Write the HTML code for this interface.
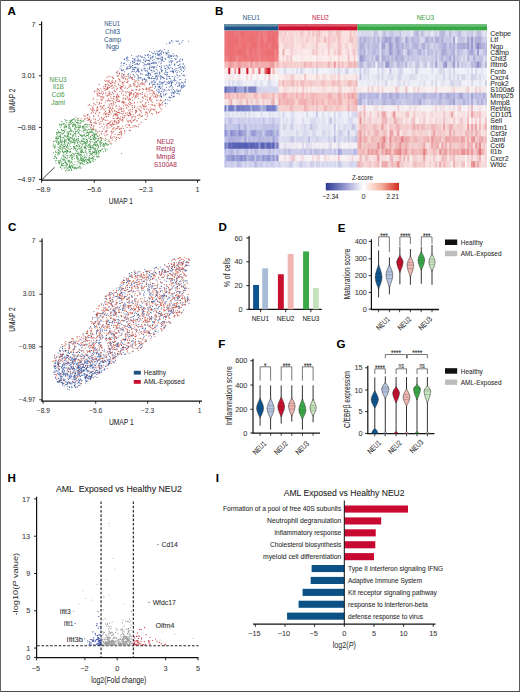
<!DOCTYPE html>
<html><head><meta charset="utf-8"><style>
html,body{margin:0;padding:0;background:#fff;}
body{width:520px;height:692px;overflow:hidden;position:relative;}
svg{position:absolute;left:0;top:0;font-family:"Liberation Sans", sans-serif;}
.hm rect{width:2.7px;height:6.9px;}
text{stroke-width:0.07px;}
</style></head><body>
<svg width="520" height="692" viewBox="0 0 520 692">
<rect x="0" y="0" width="520" height="692" fill="#fff"/>
<text x="7.50" y="15.00" font-size="10.5" font-weight="bold" fill="#000" stroke="#000" stroke-width="0.35" textLength="8.34" lengthAdjust="spacingAndGlyphs">A</text>
<line x1="41.60" y1="21.50" x2="41.60" y2="180.60" stroke="#111" stroke-width="1.2"/>
<line x1="41.00" y1="180.10" x2="200.30" y2="180.10" stroke="#111" stroke-width="1.2"/>
<line x1="41.60" y1="180.00" x2="54.60" y2="167.20" stroke="#333" stroke-width="0.9"/>
<line x1="38.90" y1="24.60" x2="41.60" y2="24.60" stroke="#111" stroke-width="0.9"/>
<text x="35.60" y="26.89" font-size="7.2" fill="#3a3a3a" stroke="#3a3a3a" text-anchor="end">7</text>
<line x1="38.90" y1="75.80" x2="41.60" y2="75.80" stroke="#111" stroke-width="0.9"/>
<text x="35.60" y="78.09" font-size="7.2" fill="#3a3a3a" stroke="#3a3a3a" text-anchor="end">3.01</text>
<line x1="38.90" y1="127.40" x2="41.60" y2="127.40" stroke="#111" stroke-width="0.9"/>
<text x="35.60" y="129.69" font-size="7.2" fill="#3a3a3a" stroke="#3a3a3a" text-anchor="end">−0.98</text>
<line x1="38.90" y1="179.40" x2="41.60" y2="179.40" stroke="#111" stroke-width="0.9"/>
<text x="35.60" y="181.69" font-size="7.2" fill="#3a3a3a" stroke="#3a3a3a" text-anchor="end">−4.97</text>
<line x1="41.60" y1="180.00" x2="41.60" y2="182.80" stroke="#111" stroke-width="0.9"/>
<text x="43.30" y="192.49" font-size="7.2" fill="#3a3a3a" stroke="#3a3a3a" text-anchor="middle">−8.9</text>
<line x1="94.25" y1="180.00" x2="94.25" y2="182.80" stroke="#111" stroke-width="0.9"/>
<text x="94.25" y="192.49" font-size="7.2" fill="#3a3a3a" stroke="#3a3a3a" text-anchor="middle">−5.6</text>
<line x1="145.75" y1="180.00" x2="145.75" y2="182.80" stroke="#111" stroke-width="0.9"/>
<text x="145.75" y="192.49" font-size="7.2" fill="#3a3a3a" stroke="#3a3a3a" text-anchor="middle">−2.3</text>
<line x1="197.50" y1="180.00" x2="197.50" y2="182.80" stroke="#111" stroke-width="0.9"/>
<text x="197.50" y="192.49" font-size="7.2" fill="#3a3a3a" stroke="#3a3a3a" text-anchor="middle">1</text>
<text x="108.75" y="204.14" font-size="9.29" fill="#2a2a2a" stroke="#2a2a2a" textLength="24.25" lengthAdjust="spacingAndGlyphs">UMAP 1</text>
<text x="-12.15" y="3.56" font-size="9.89" fill="#2a2a2a" stroke="#2a2a2a" textLength="24.30" lengthAdjust="spacingAndGlyphs" transform="translate(11.60 100.70) rotate(-90)">UMAP 2</text>
<text x="104.30" y="26.22" font-size="7.56" fill="#3d5f8e" stroke="#3d5f8e" textLength="15.70" lengthAdjust="spacingAndGlyphs">NEU1</text>
<text x="105.00" y="34.02" font-size="7.56" fill="#3d5f8e" stroke="#3d5f8e" textLength="15.00" lengthAdjust="spacingAndGlyphs">Chil3</text>
<text x="104.10" y="41.72" font-size="7.56" fill="#3d5f8e" stroke="#3d5f8e" textLength="17.10" lengthAdjust="spacingAndGlyphs">Camp</text>
<text x="106.10" y="48.92" font-size="7.56" fill="#3d5f8e" stroke="#3d5f8e" textLength="12.80" lengthAdjust="spacingAndGlyphs">Ngp</text>
<text x="49.60" y="81.52" font-size="7.56" fill="#55a055" stroke="#55a055" textLength="16.90" lengthAdjust="spacingAndGlyphs">NEU3</text>
<text x="52.70" y="89.42" font-size="7.56" fill="#55a055" stroke="#55a055" textLength="11.10" lengthAdjust="spacingAndGlyphs">Il1B</text>
<text x="51.50" y="97.32" font-size="7.56" fill="#55a055" stroke="#55a055" textLength="13.00" lengthAdjust="spacingAndGlyphs">Ccl6</text>
<text x="51.20" y="105.22" font-size="7.56" fill="#55a055" stroke="#55a055" textLength="13.80" lengthAdjust="spacingAndGlyphs">Jaml</text>
<text x="156.70" y="143.92" font-size="7.56" fill="#b0365a" stroke="#b0365a" textLength="17.20" lengthAdjust="spacingAndGlyphs">NEU2</text>
<text x="156.20" y="151.32" font-size="7.56" fill="#b0365a" stroke="#b0365a" textLength="19.00" lengthAdjust="spacingAndGlyphs">Retnlg</text>
<text x="156.20" y="159.12" font-size="7.56" fill="#b0365a" stroke="#b0365a" textLength="18.80" lengthAdjust="spacingAndGlyphs">Mmp8</text>
<text x="154.00" y="167.02" font-size="7.56" fill="#b0365a" stroke="#b0365a" textLength="22.80" lengthAdjust="spacingAndGlyphs">S100A8</text>
<path d="M79.4 162.7h0M60.2 127.3h0M61.7 142.5h0M93.3 147.7h0M53.5 152.5h0M62.2 165.5h0M68.1 146.2h0M82.6 141.3h0M63.6 152.9h0M78.5 153.9h0M89.7 138.3h0M66.1 129.6h0M83.0 138.4h0M92.5 147.5h0M96.4 152.2h0M67.2 151.9h0M76.0 117.0h0M81.0 142.1h0M77.4 153.6h0M78.3 127.7h0M93.0 137.5h0M62.4 151.4h0M103.4 146.4h0M60.2 135.1h0M100.4 144.5h0M86.5 139.4h0M82.8 127.7h0M72.8 157.2h0M68.7 134.6h0M56.8 137.9h0M65.0 165.6h0M64.1 167.7h0M79.6 141.6h0M94.9 143.0h0M88.3 133.3h0M70.7 128.0h0M98.4 157.0h0M78.9 127.3h0M67.9 135.4h0M98.5 136.7h0M68.5 160.8h0M94.4 151.2h0M60.5 146.5h0M67.3 158.1h0M104.3 146.1h0M60.1 161.6h0M65.6 157.5h0M59.5 148.1h0M82.8 159.1h0M61.0 144.2h0M53.4 144.1h0M74.2 140.8h0M73.9 139.1h0M90.7 154.0h0M94.7 144.6h0M108.3 144.6h0M54.5 148.3h0M111.0 144.1h0M103.6 151.8h0M57.2 152.0h0M54.0 158.5h0M78.4 125.7h0M90.2 145.6h0M94.9 139.2h0M74.9 143.3h0M82.4 161.4h0M64.2 147.0h0M70.2 143.0h0M81.4 140.4h0M88.3 132.7h0M83.9 147.1h0M60.4 140.2h0M72.1 119.5h0M66.9 165.8h0M57.9 144.3h0M84.6 128.9h0M70.6 133.6h0M84.8 146.3h0M92.5 135.8h0M69.2 161.8h0M90.5 132.0h0M90.1 161.3h0M75.0 140.2h0M105.4 143.1h0M80.7 123.0h0M79.2 126.0h0M82.5 151.1h0M66.4 126.2h0M75.3 153.1h0M86.8 145.4h0M81.8 135.5h0M76.5 155.2h0M66.9 136.3h0M82.2 150.9h0M75.0 133.6h0M89.1 129.6h0M68.8 136.8h0M89.7 162.0h0M90.8 139.2h0M76.4 156.2h0M87.0 130.0h0M68.3 131.5h0M68.3 133.6h0M62.8 155.1h0M66.4 166.7h0M85.7 159.9h0M93.3 145.6h0M55.6 152.1h0M60.6 135.1h0M94.2 135.1h0M83.5 132.0h0M72.4 157.5h0M68.9 170.1h0M59.7 162.8h0M57.7 129.5h0M58.6 150.4h0M65.7 141.3h0M56.9 160.2h0M72.8 136.7h0M97.3 148.6h0M90.6 139.7h0M98.7 147.4h0M61.4 166.0h0M85.2 138.7h0M79.7 145.3h0M70.9 129.8h0M85.3 124.5h0M70.2 149.4h0M93.8 136.4h0M82.4 136.8h0M74.9 146.3h0M56.2 141.1h0M61.7 144.1h0M66.8 163.2h0M75.0 167.3h0M65.0 157.0h0M77.9 142.4h0M63.0 159.6h0M58.9 160.6h0M70.5 121.4h0M60.5 136.3h0M64.4 127.9h0M64.7 151.4h0M86.6 161.1h0M94.5 137.4h0M69.1 139.1h0M80.0 164.1h0M83.8 121.3h0M62.2 149.1h0M71.1 140.4h0M78.7 159.2h0M76.6 139.6h0M89.7 157.8h0M95.8 152.2h0M104.1 144.6h0M85.8 147.7h0M72.9 139.8h0M76.3 139.6h0M79.8 130.0h0M86.2 143.5h0M70.6 134.1h0M64.5 142.4h0M89.8 140.9h0M96.2 151.9h0M68.7 161.0h0M62.6 148.8h0M85.0 143.3h0M87.5 162.2h0M96.4 156.1h0M84.1 158.7h0M60.4 142.0h0M65.5 161.7h0M93.1 159.8h0M65.6 151.4h0M78.9 167.0h0M60.2 160.6h0M70.1 167.6h0M74.3 144.1h0M83.9 130.2h0M58.3 132.7h0M87.1 142.9h0M77.8 124.0h0M82.4 144.9h0M93.9 142.6h0M76.8 141.8h0M100.8 142.1h0M80.4 163.1h0M89.4 151.6h0M58.7 161.7h0M66.6 127.3h0M88.9 157.0h0M55.4 147.3h0M66.2 150.1h0M70.3 146.5h0M81.8 146.7h0M74.4 138.0h0M74.2 139.6h0M103.1 144.2h0M90.1 143.3h0M65.0 146.1h0M81.7 160.4h0M85.7 136.2h0M65.9 149.2h0M65.1 165.8h0M97.7 144.9h0M69.4 157.5h0M98.8 140.7h0M78.6 144.7h0M93.2 139.2h0M61.9 124.0h0M68.8 133.2h0M101.0 133.8h0M80.3 143.6h0M92.6 132.5h0M63.9 146.2h0M65.7 120.8h0M76.7 122.6h0M77.4 159.3h0M79.9 148.9h0M62.6 145.2h0M94.0 138.8h0M53.6 141.5h0M64.1 167.7h0M97.6 149.3h0M98.6 154.8h0M73.6 147.7h0M67.0 147.0h0M78.0 153.7h0M61.0 137.5h0M69.4 120.7h0M73.4 140.8h0M72.7 126.7h0M64.8 162.4h0M62.8 137.6h0M97.6 132.1h0M81.0 167.9h0M81.0 134.7h0M97.1 138.5h0M90.9 128.7h0M68.9 128.4h0M55.5 140.7h0M55.7 151.0h0M93.7 161.6h0M59.0 132.3h0M78.5 138.5h0M77.3 161.8h0M67.9 136.8h0M93.7 133.9h0M77.6 167.9h0M82.4 144.5h0M82.5 156.3h0M92.1 160.6h0M70.1 130.2h0M64.1 126.9h0M94.5 152.4h0M60.6 136.5h0M101.7 143.5h0M59.0 162.5h0M59.2 142.9h0M85.1 139.0h0M90.0 149.5h0M101.6 149.5h0M75.3 133.4h0M81.3 158.1h0M73.4 142.4h0M75.1 167.7h0M67.9 136.4h0M72.1 120.7h0M89.0 145.1h0M97.0 143.9h0M61.9 142.7h0M76.1 153.3h0M72.3 124.7h0M70.4 151.4h0M57.9 132.0h0M75.4 129.6h0M80.2 122.7h0M84.2 164.8h0M68.2 138.6h0M91.4 147.6h0M67.4 135.7h0M62.7 140.1h0M69.5 122.9h0M100.3 151.3h0M66.0 124.5h0M79.0 162.8h0M71.7 165.7h0M64.2 168.2h0M87.2 140.8h0M81.6 136.5h0M64.6 144.1h0M82.5 163.4h0M73.8 149.0h0M63.2 124.3h0M73.7 153.9h0M82.0 121.0h0M72.7 153.3h0M88.1 134.8h0M65.3 162.1h0M89.5 132.2h0M96.4 154.2h0M58.0 135.9h0M55.3 156.3h0M58.9 163.8h0M85.3 148.3h0M85.2 127.0h0M94.2 154.0h0M72.1 156.7h0M88.9 152.0h0M77.6 142.6h0M94.1 148.2h0M71.6 123.3h0M56.4 138.6h0M88.6 136.1h0M58.7 162.4h0M78.1 122.2h0M94.5 142.9h0M67.0 164.4h0M57.0 138.2h0M67.9 150.8h0M65.6 126.8h0M71.0 134.8h0M58.0 143.0h0M79.4 166.3h0M74.5 124.9h0M95.4 148.1h0M75.3 120.3h0M68.3 122.8h0M57.2 138.2h0M62.5 165.4h0M83.8 130.1h0M89.4 160.9h0M62.9 151.9h0M77.3 146.1h0M88.3 162.9h0M79.6 133.9h0M81.5 151.9h0M80.9 159.8h0M67.6 138.8h0M95.4 141.2h0M88.3 144.8h0M69.4 167.4h0M92.5 134.9h0M96.4 134.5h0M78.5 167.8h0M72.6 122.4h0M86.8 153.4h0M83.9 135.1h0M79.0 148.5h0M73.9 155.9h0M61.4 125.8h0M81.2 154.5h0M88.9 159.1h0M80.5 151.8h0M91.2 132.8h0M71.8 165.4h0M80.9 160.2h0M93.5 130.0h0M58.6 152.4h0M76.3 168.9h0M79.8 127.5h0M61.5 124.5h0M83.5 141.5h0M79.4 127.7h0M84.7 135.0h0M76.2 145.6h0M84.5 160.3h0M84.0 134.3h0M68.4 142.5h0M74.2 118.6h0M96.3 141.9h0M90.6 142.1h0M65.2 154.2h0M78.9 127.9h0M89.0 134.3h0M97.3 156.3h0M87.5 132.3h0M67.2 132.3h0M78.6 133.0h0M81.1 147.2h0M69.2 170.5h0M58.4 141.9h0M75.7 126.9h0M64.4 131.6h0M90.1 146.6h0M89.9 131.4h0M55.3 157.3h0M96.9 146.1h0M81.1 157.2h0M64.0 137.9h0M64.1 158.9h0M72.0 159.7h0M75.6 132.3h0M76.0 167.5h0M69.5 126.0h0M73.8 167.9h0M62.6 142.0h0M74.3 164.8h0M76.8 157.6h0M65.7 126.4h0M85.1 130.5h0M87.4 162.5h0M58.0 136.7h0M66.8 120.4h0M64.6 127.4h0M66.7 153.2h0M85.1 160.0h0M75.6 150.0h0M56.3 141.2h0M86.7 141.6h0M65.3 157.1h0M56.5 134.3h0M82.6 158.0h0M58.9 138.6h0M77.9 140.9h0M58.1 149.3h0M69.0 124.6h0M67.3 150.0h0M100.9 150.8h0M67.2 164.2h0M72.4 167.4h0M74.5 146.9h0M54.4 156.1h0M63.8 158.7h0M78.6 129.5h0M98.2 150.9h0M95.2 133.8h0M67.8 150.9h0M75.0 124.3h0M61.4 157.8h0M75.9 134.1h0M63.0 124.1h0M90.6 136.4h0M96.0 138.3h0M99.4 152.7h0M100.0 143.3h0M81.2 160.6h0M100.5 150.2h0M100.0 141.7h0M90.1 146.5h0M80.0 166.0h0M67.5 145.4h0M63.3 133.1h0M71.6 148.5h0M83.5 141.5h0M71.0 120.6h0M86.4 132.8h0M55.9 162.7h0M108.3 144.4h0M88.5 129.2h0M97.7 157.2h0M63.4 152.3h0M82.2 121.7h0M83.2 152.3h0M95.6 137.3h0M78.2 120.6h0M96.2 145.0h0M77.3 130.0h0M101.2 139.8h0M91.2 147.8h0M55.3 156.3h0M92.5 155.3h0M82.4 126.3h0M71.3 162.1h0M70.9 121.4h0M85.7 151.6h0M69.6 163.9h0M84.1 124.8h0M69.9 131.6h0M88.7 138.1h0M91.1 129.2h0M69.7 131.9h0M69.3 126.8h0M68.9 127.1h0M80.4 135.4h0M94.8 144.5h0M84.1 130.4h0M88.7 145.8h0M73.2 134.3h0M73.4 119.2h0M64.7 125.0h0M91.0 124.5h0M71.5 161.7h0M83.2 127.3h0M61.9 121.4h0M58.9 143.5h0M107.0 144.4h0M63.9 123.4h0M81.9 159.7h0M81.1 147.0h0M70.5 130.0h0M83.4 160.3h0M66.1 122.2h0M76.1 125.3h0M97.3 136.5h0M86.0 141.8h0M80.0 120.0h0M86.2 157.5h0M74.4 140.3h0M73.0 166.8h0M82.3 151.5h0M91.3 154.2h0M65.9 140.2h0M65.9 125.0h0M84.5 141.5h0M77.1 127.0h0M91.0 147.2h0M66.9 132.0h0M92.5 157.2h0M105.8 150.9h0M98.0 145.4h0M84.2 160.7h0M90.4 153.2h0M95.0 134.0h0M98.3 153.0h0M91.2 122.5h0M53.0 145.7h0M86.3 124.2h0M76.1 150.2h0M84.1 157.8h0M64.6 140.2h0M77.0 130.8h0M63.5 163.6h0M75.6 131.6h0M68.2 139.7h0M97.0 141.7h0M84.0 135.9h0M57.7 142.4h0M96.3 152.4h0M67.6 155.6h0M68.9 148.6h0M64.8 139.4h0M107.2 145.3h0M96.1 154.1h0M88.9 147.4h0M101.4 140.5h0M54.9 146.1h0M85.7 129.1h0M84.6 160.8h0M82.9 138.7h0M102.8 145.3h0M94.0 132.7h0M86.8 159.0h0M86.8 133.0h0M61.9 149.7h0M105.4 143.5h0M70.6 137.7h0M87.2 130.5h0M83.7 132.1h0M70.4 122.9h0M77.0 146.2h0M63.7 144.7h0M72.8 139.6h0M88.2 160.4h0M88.1 159.4h0M96.5 150.9h0M68.3 131.7h0M61.7 141.7h0M78.8 132.0h0M83.8 138.9h0M105.7 143.0h0M69.6 166.6h0M68.0 160.1h0M69.8 160.6h0M79.8 141.8h0M77.2 119.0h0M86.6 133.0h0M86.0 132.9h0M75.2 121.3h0M105.1 144.9h0M81.5 150.3h0M57.7 133.8h0M80.9 148.5h0M100.2 141.0h0M59.2 151.1h0M93.4 138.6h0M71.4 158.1h0M64.9 143.5h0M89.8 144.4h0M81.4 155.3h0M85.5 142.5h0M61.0 145.4h0M80.0 168.1h0M55.9 138.2h0M72.4 159.1h0M88.5 129.2h0M76.2 148.2h0M75.2 120.1h0M70.7 162.8h0M54.2 146.9h0M83.1 128.6h0M85.1 156.9h0M61.5 169.0h0M74.7 168.2h0M85.0 129.0h0M66.2 158.6h0M70.0 152.1h0M80.6 126.9h0M62.9 163.2h0M86.9 155.0h0M60.0 146.6h0M106.8 143.9h0M57.2 140.5h0M90.6 149.7h0M95.8 142.7h0M92.9 129.6h0M65.4 145.2h0M72.7 125.7h0M59.1 143.5h0M81.9 140.2h0M97.6 140.4h0M86.5 135.5h0M78.1 132.4h0M78.6 158.0h0M60.0 141.6h0M71.9 154.8h0M84.5 162.3h0M79.9 123.7h0M86.3 126.5h0M75.2 126.6h0M83.7 126.3h0M82.1 143.9h0M73.3 165.0h0M68.6 140.4h0M100.2 137.5h0M91.8 157.9h0M62.8 142.0h0M70.1 137.4h0M59.5 153.1h0M76.7 122.3h0M91.3 153.2h0M80.6 125.7h0M71.1 142.8h0M66.6 142.3h0M93.5 152.4h0M75.0 142.0h0M83.8 152.5h0M80.0 155.4h0M100.1 143.7h0M59.9 149.7h0M62.1 159.0h0M87.6 135.5h0M70.0 124.5h0M61.6 164.7h0M94.8 129.3h0M67.3 168.1h0M59.7 163.7h0M66.4 146.6h0M83.4 143.8h0M77.4 155.8h0M69.6 165.9h0M66.7 147.2h0M78.5 139.9h0M77.5 159.1h0M96.0 134.5h0M81.3 147.7h0M71.1 155.3h0M89.9 146.1h0M99.1 150.6h0M85.9 124.0h0M92.6 152.2h0M78.9 147.1h0M71.7 170.4h0M70.0 161.8h0M57.3 154.8h0M71.8 138.1h0M70.8 167.9h0M77.6 122.5h0M93.6 156.8h0M93.1 146.2h0M65.7 170.9h0M95.4 144.6h0M86.2 148.7h0M59.6 133.0h0M61.9 164.2h0M70.4 129.7h0M73.1 119.6h0M68.2 161.7h0M72.8 138.2h0M90.3 162.6h0M101.7 139.7h0M68.5 160.6h0M81.9 131.0h0M92.8 151.2h0M108.0 141.2h0M93.3 148.7h0M63.7 165.6h0M64.9 130.2h0M79.0 155.1h0M82.0 150.1h0M103.7 143.6h0M93.3 158.5h0M100.3 137.7h0M64.9 152.3h0M59.4 153.7h0M84.6 142.6h0M86.0 136.7h0M86.2 161.8h0M95.8 150.3h0M67.4 133.8h0M59.0 144.8h0M76.9 138.5h0M83.2 164.2h0M71.6 154.8h0M62.0 161.3h0M64.1 156.6h0M83.9 161.3h0M63.7 130.6h0M56.5 142.0h0M61.2 132.9h0M58.0 146.9h0M72.8 125.7h0M60.6 167.5h0M55.6 138.2h0M70.7 152.0h0M60.4 137.4h0M76.2 168.2h0M80.2 120.4h0M68.2 168.0h0M80.6 135.0h0M71.1 168.9h0M84.6 148.1h0M76.7 158.1h0M66.9 155.5h0M76.6 151.1h0M87.1 163.4h0M63.6 156.7h0M59.9 124.3h0M61.5 163.1h0M83.5 120.8h0M87.4 124.9h0M81.0 158.9h0M95.8 151.2h0M61.1 147.5h0M62.8 133.9h0M65.8 136.1h0M94.1 156.8h0M71.7 157.6h0M84.3 154.9h0M61.5 129.3h0M64.8 135.9h0M69.8 141.2h0M79.6 130.5h0M73.2 135.4h0M94.1 139.9h0M61.7 130.0h0M73.2 135.8h0M75.3 148.6h0M64.7 135.3h0M91.9 139.2h0M80.3 158.8h0M91.1 139.3h0M85.4 148.3h0M77.4 158.9h0M94.4 144.2h0M63.8 160.5h0M93.7 152.5h0M70.0 138.0h0M64.7 148.6h0M76.4 127.8h0M64.3 136.0h0M75.1 125.3h0M97.1 152.9h0M78.6 153.4h0M89.3 149.9h0M66.1 164.1h0M64.0 141.6h0M81.3 141.4h0M64.4 132.2h0M67.3 144.7h0M73.7 146.4h0M83.7 159.1h0M81.0 163.8h0M74.6 142.3h0M70.9 165.9h0M78.6 136.4h0M59.6 148.0h0M60.6 141.1h0M92.6 129.8h0M60.4 151.9h0M95.1 148.3h0M67.9 170.3h0M65.4 167.8h0M89.1 126.1h0M58.0 138.3h0M85.6 159.9h0M60.4 132.2h0M96.2 152.9h0M56.4 158.4h0M69.4 151.9h0M74.7 147.2h0M69.3 169.7h0M88.8 133.1h0M62.3 130.5h0M92.3 145.7h0M74.6 154.8h0M71.5 169.3h0M90.5 151.6h0M59.6 136.4h0M59.2 142.8h0M87.2 146.8h0M77.9 123.6h0M94.0 148.2h0M66.6 151.0h0M69.2 126.2h0M85.7 152.4h0M95.5 145.5h0M98.8 138.9h0M82.4 161.0h0M71.8 130.3h0M90.9 162.1h0M67.4 164.7h0M55.3 160.6h0M102.1 142.6h0M87.4 140.1h0M90.6 137.5h0M68.2 151.7h0M90.8 148.6h0M85.7 144.3h0M73.3 131.9h0M66.8 137.6h0M68.8 166.9h0M67.3 144.1h0M60.7 160.0h0M75.0 161.8h0M89.9 153.2h0M56.4 133.0h0M76.8 145.6h0M58.2 147.0h0M104.9 145.0h0M55.4 154.5h0M81.3 152.5h0M57.1 139.1h0M63.1 137.4h0M89.6 158.5h0M54.0 146.5h0M58.5 138.0h0M66.9 152.2h0M70.4 134.0h0M60.2 167.3h0M85.7 147.5h0M107.2 149.1h0M82.3 135.2h0M84.0 127.0h0M56.5 157.5h0M69.9 138.6h0M66.3 169.2h0M80.3 154.1h0M76.3 122.5h0M56.8 152.7h0M80.4 156.9h0M92.7 158.8h0M105.5 140.5h0M100.1 142.5h0M66.7 126.1h0M94.7 135.3h0M75.6 140.9h0M72.1 166.1h0M64.6 141.1h0M75.3 135.8h0M60.9 145.8h0M66.0 150.9h0M93.9 136.2h0M89.7 155.6h0M79.4 160.7h0M54.2 141.2h0M63.2 130.3h0M87.2 131.0h0M98.4 146.6h0M84.3 160.6h0M84.9 148.1h0M74.9 128.1h0M58.6 154.8h0M71.8 137.5h0M87.1 159.2h0M59.8 162.1h0M74.1 133.8h0M87.5 140.5h0M98.5 151.6h0M90.3 147.5h0M77.4 120.1h0M62.9 148.7h0M71.2 131.6h0M104.8 148.4h0M79.1 153.8h0M94.7 135.9h0M62.2 150.1h0M83.7 127.0h0M92.2 131.1h0M69.6 144.8h0M70.9 141.6h0M73.6 124.9h0M84.9 147.4h0M71.8 161.9h0M80.1 152.2h0M69.6 165.2h0M77.5 149.3h0M90.2 159.0h0M74.3 119.0h0M72.6 135.7h0M95.5 149.6h0M84.2 142.9h0M95.1 159.5h0M87.2 141.8h0M74.9 129.1h0M82.5 141.5h0M62.3 134.3h0M69.4 128.3h0M92.7 153.6h0M76.3 131.5h0M101.0 138.3h0M58.4 153.3h0M105.8 143.2h0M64.9 119.6h0M100.3 146.3h0M94.6 149.8h0M72.3 142.5h0M88.7 149.8h0M95.9 131.6h0M87.0 135.5h0M70.2 151.7h0M78.1 122.7h0M60.8 166.0h0M68.6 125.2h0M59.3 124.7h0M74.7 167.6h0M55.2 145.1h0M66.6 139.7h0M88.9 160.1h0M82.1 152.3h0M104.2 140.1h0M91.2 154.8h0M61.1 139.9h0M68.0 147.7h0M85.6 145.9h0M82.3 135.6h0M56.7 132.3h0M71.6 120.4h0M78.0 139.7h0M72.9 126.4h0M68.6 143.4h0M60.6 148.2h0M77.2 157.6h0M72.4 163.3h0M106.9 139.3h0M75.2 124.4h0M100.3 151.1h0M56.2 136.9h0M77.0 164.9h0M73.8 124.4h0M60.2 125.8h0M77.8 149.3h0M85.6 150.3h0M77.5 156.3h0M72.0 155.4h0M71.2 121.7h0M83.9 139.6h0M69.4 139.9h0M63.4 146.7h0M62.9 147.4h0M77.7 143.8h0M91.3 158.4h0M90.4 161.5h0M84.1 157.1h0M77.6 151.9h0M72.1 131.0h0M94.0 156.9h0M78.3 160.9h0M77.5 156.0h0M63.7 155.2h0M87.2 127.2h0M99.0 156.4h0M95.2 134.5h0M67.4 155.8h0M90.7 146.2h0M95.3 159.8h0M95.8 154.1h0M66.1 162.9h0M79.6 141.7h0M79.4 125.8h0M97.3 135.5h0M74.5 158.6h0M84.9 125.0h0M96.8 141.5h0M77.6 146.1h0M82.6 126.9h0M92.0 141.7h0M74.8 148.2h0M70.5 128.0h0M91.7 131.5h0M72.2 141.8h0M91.5 132.0h0M74.2 168.8h0M65.2 160.7h0M64.9 159.7h0M91.2 129.9h0M105.5 149.9h0M95.6 138.7h0M78.0 131.7h0M58.4 131.4h0M81.0 120.9h0M63.0 148.6h0M70.6 155.9h0M82.4 135.5h0M80.3 150.8h0M100.9 145.7h0M74.0 123.1h0M93.5 144.8h0M60.4 139.0h0M102.7 148.9h0M76.0 136.2h0M79.5 146.4h0M82.6 161.0h0M70.6 167.0h0M82.2 149.4h0M70.0 155.0h0M81.3 162.6h0M64.3 146.9h0" stroke="#38903f" stroke-width="1.12" stroke-linecap="round" fill="none" opacity="0.9"/>
<path d="M149.1 87.7h0M133.5 85.0h0M146.2 88.6h0M156.1 111.4h0M127.2 112.9h0M155.7 97.1h0M109.9 94.5h0M117.9 134.4h0M114.2 121.6h0M87.3 115.4h0M115.4 138.1h0M100.6 106.3h0M104.1 119.8h0M123.5 102.5h0M123.7 78.1h0M105.6 92.9h0M102.2 131.4h0M155.1 96.5h0M110.8 103.7h0M119.4 121.8h0M121.0 86.9h0M147.2 116.8h0M117.5 94.1h0M113.5 131.8h0M112.6 122.8h0M138.2 83.1h0M153.1 93.4h0M132.7 116.8h0M113.2 118.3h0M124.8 131.2h0M129.2 91.9h0M118.2 118.3h0M122.8 121.1h0M114.4 124.0h0M87.7 120.3h0M139.5 110.0h0M147.2 113.0h0M131.3 78.4h0M106.9 77.7h0M85.2 116.2h0M118.1 122.1h0M88.4 119.5h0M142.9 84.4h0M124.0 115.2h0M137.9 96.3h0M118.9 96.4h0M129.5 112.0h0M132.3 97.4h0M105.7 108.5h0M134.5 107.3h0M104.0 129.0h0M107.8 113.6h0M152.4 90.9h0M97.0 109.9h0M99.6 90.7h0M128.2 99.5h0M89.2 124.4h0M91.0 120.4h0M148.5 101.9h0M121.6 93.1h0M117.4 112.5h0M127.3 79.2h0M135.7 117.2h0M96.9 93.6h0M84.0 115.4h0M159.9 111.8h0M122.9 84.6h0M118.6 112.4h0M114.8 85.4h0M90.7 127.1h0M134.0 125.6h0M103.7 93.5h0M153.6 92.3h0M127.0 115.3h0M120.2 87.3h0M98.0 110.0h0M97.1 102.0h0M149.8 89.9h0M106.3 113.5h0M120.2 128.2h0M129.6 102.0h0M113.1 108.4h0M111.7 94.7h0M156.6 97.2h0M111.9 120.9h0M156.4 100.1h0M109.5 111.5h0M91.3 113.3h0M130.4 74.7h0M100.9 105.6h0M123.2 98.8h0M102.5 94.2h0M103.4 118.8h0M99.9 127.6h0M129.2 130.5h0M123.5 128.2h0M111.3 85.7h0M150.2 93.4h0M100.7 99.3h0M89.3 116.6h0M135.5 110.4h0M124.8 115.9h0M92.6 107.5h0M109.5 100.2h0M111.7 83.4h0M114.1 136.5h0M118.9 126.6h0M85.1 116.5h0M160.4 104.4h0M115.5 114.8h0M111.6 124.7h0M114.6 110.5h0M103.7 106.5h0M115.8 81.7h0M134.2 81.0h0M92.5 110.3h0M137.1 93.7h0M116.1 115.3h0M142.3 115.8h0M110.1 124.4h0M126.7 104.2h0M117.6 116.0h0M140.0 114.9h0M119.4 118.8h0M110.5 83.8h0M118.3 101.4h0M114.8 111.1h0M154.3 105.4h0M114.6 110.2h0M110.5 137.9h0M101.1 106.8h0M89.4 104.6h0M114.6 96.7h0M144.4 85.1h0M109.5 108.6h0M139.0 90.5h0M111.8 81.6h0M104.9 135.7h0M123.6 106.0h0M141.2 112.2h0M118.1 75.7h0M109.7 106.0h0M94.2 104.0h0M93.2 108.9h0M122.2 82.7h0M143.3 106.7h0M110.0 93.8h0M117.9 127.1h0M136.8 93.0h0M116.4 121.8h0M93.8 116.4h0M115.8 106.4h0M127.0 127.4h0M105.9 124.8h0M108.5 123.4h0M143.1 98.3h0M99.6 103.0h0M124.6 74.1h0M113.4 124.5h0M93.7 115.9h0M108.7 112.5h0M88.2 114.3h0M113.2 86.9h0M107.8 123.6h0M116.3 86.2h0M123.3 94.7h0M93.0 99.5h0M137.1 120.2h0M117.9 95.4h0M90.9 127.4h0M122.7 77.8h0M99.7 102.4h0M132.8 100.4h0M121.2 77.0h0M124.9 88.2h0M131.8 116.5h0M103.7 88.1h0M110.1 142.9h0M113.7 115.1h0M112.1 132.2h0M100.8 93.2h0M121.7 135.7h0M107.9 95.5h0M147.3 100.0h0M116.4 122.9h0M148.3 89.1h0M107.9 124.0h0M112.4 85.2h0M130.4 114.8h0M104.4 127.0h0M151.7 113.5h0M111.3 125.0h0M126.6 82.5h0M117.0 114.9h0M105.4 138.2h0M131.3 119.0h0M101.8 137.8h0M99.1 92.8h0M145.2 114.6h0M124.0 110.9h0M97.9 90.9h0M111.2 131.4h0M111.6 138.0h0M144.2 96.4h0M114.6 121.7h0M116.1 114.1h0M118.7 78.3h0M105.0 90.3h0M121.1 131.8h0M121.5 109.5h0M124.0 85.2h0M110.2 108.4h0M97.1 107.9h0M152.9 102.3h0M114.1 99.5h0M142.4 97.4h0M124.7 76.7h0M109.7 82.6h0M129.6 94.0h0M119.9 91.4h0M151.9 99.8h0M99.7 93.3h0M136.8 96.0h0M110.3 101.1h0M107.0 128.3h0M122.0 90.8h0M105.9 84.6h0M130.0 92.9h0M130.0 109.2h0M116.5 137.5h0M139.3 115.3h0M132.4 79.4h0M122.0 73.4h0M123.6 108.5h0M107.2 96.5h0M138.7 109.0h0M109.9 85.7h0M123.3 103.0h0M142.5 94.3h0M148.9 104.5h0M108.3 116.5h0M117.9 123.4h0M117.0 128.4h0M129.3 115.1h0M95.4 123.2h0M138.5 98.6h0M127.0 108.3h0M165.4 106.0h0M92.3 108.9h0M122.9 117.6h0M115.5 91.7h0M96.1 91.3h0M141.1 116.4h0M131.2 93.7h0M138.9 84.8h0M112.8 78.0h0M107.7 81.7h0M160.7 100.1h0M106.1 116.6h0M138.9 124.4h0M113.2 103.1h0M89.0 120.7h0M108.8 140.1h0M121.4 128.2h0M84.7 118.9h0M109.8 112.6h0M134.9 98.1h0M129.2 120.5h0M124.5 130.5h0M128.8 125.6h0M108.2 80.8h0M121.7 132.4h0M95.6 113.1h0M118.0 134.9h0M140.9 106.1h0M147.3 97.1h0M111.8 143.7h0M149.8 88.8h0M149.5 99.1h0M145.6 103.7h0M106.3 100.2h0M142.5 104.3h0M160.7 105.2h0M147.2 99.5h0M146.6 112.0h0M117.1 94.5h0M110.2 121.3h0M97.6 106.9h0M131.7 89.9h0M95.3 119.4h0M129.2 125.5h0M119.2 106.3h0M108.5 81.7h0M101.8 131.5h0M108.6 98.9h0M159.1 95.9h0M132.0 90.4h0M111.0 114.1h0M159.0 105.9h0M132.2 111.6h0M90.3 108.9h0M94.1 122.8h0M147.8 94.8h0M134.6 102.5h0M134.4 107.8h0M132.1 117.2h0M112.4 92.8h0M99.0 113.1h0M143.0 105.8h0M116.8 137.1h0M99.0 84.4h0M119.5 129.3h0M134.0 84.0h0M122.8 111.4h0M109.2 95.2h0M113.1 77.2h0M132.6 105.5h0M109.6 123.1h0M100.8 123.8h0M144.9 83.1h0M155.2 96.3h0M128.8 106.6h0M100.7 97.0h0M145.7 106.1h0M136.1 89.6h0M113.8 101.3h0M105.4 86.5h0M118.9 97.1h0M159.3 103.1h0M156.7 103.7h0M78.3 118.4h0M101.5 133.7h0M136.8 80.9h0M145.6 99.0h0M125.3 91.7h0M143.7 108.3h0M148.8 109.8h0M93.3 112.8h0M152.2 109.4h0M112.4 111.7h0M120.9 133.9h0M142.4 80.6h0M144.1 105.9h0M112.4 140.0h0M93.0 110.9h0M152.4 114.1h0M107.6 89.6h0M106.0 114.4h0M145.4 112.0h0M130.7 120.5h0M120.9 137.7h0M102.2 126.6h0M121.2 132.9h0M128.7 110.3h0M103.1 108.7h0M131.3 92.4h0M120.8 81.0h0M114.2 82.3h0M105.3 81.5h0M123.6 113.1h0M115.8 124.3h0M112.0 110.2h0M130.1 77.2h0M118.0 114.7h0M106.6 116.8h0M122.8 83.0h0M106.2 135.0h0M97.0 102.2h0M103.9 97.1h0M116.8 113.8h0M105.7 132.2h0M114.9 121.3h0M125.1 104.8h0M119.5 73.4h0M130.1 110.8h0M131.4 122.5h0M141.2 122.4h0M129.7 113.1h0M114.1 114.0h0M150.6 109.8h0M159.2 105.4h0M127.9 98.1h0M135.5 92.5h0M113.5 98.3h0M109.6 92.1h0M138.4 126.7h0M125.8 99.2h0M147.0 109.1h0M153.5 92.3h0M129.4 130.1h0M152.0 87.4h0M130.2 104.6h0M160.9 108.2h0M98.0 115.8h0M148.6 109.7h0M111.9 133.3h0M127.0 79.7h0M87.7 117.8h0M110.3 83.3h0M129.9 98.6h0M103.2 91.9h0M89.5 119.4h0M133.0 121.1h0M81.5 118.7h0M152.6 105.0h0M149.7 97.9h0M107.9 120.2h0M151.7 101.7h0M119.6 79.5h0M117.2 118.7h0M106.0 88.0h0M116.6 100.2h0M136.7 89.6h0M121.0 107.6h0M123.4 95.3h0M112.3 80.2h0M116.3 96.0h0M99.7 118.9h0M115.7 113.2h0M159.8 107.1h0M93.4 98.1h0M138.1 75.8h0M94.6 91.8h0M114.0 118.5h0M124.6 133.0h0M107.4 127.7h0M93.5 127.9h0M121.4 87.1h0M109.0 93.3h0M91.5 125.2h0M119.4 132.4h0M101.3 117.3h0M101.5 117.7h0M151.2 96.1h0M89.0 119.6h0M145.0 104.0h0M96.5 123.1h0M112.0 88.2h0M115.3 130.0h0M120.7 131.1h0M113.2 129.6h0M146.2 119.3h0M107.8 134.4h0M114.0 88.1h0M106.6 116.6h0M125.8 95.6h0M114.6 110.9h0M105.7 114.9h0M112.1 100.4h0M125.2 98.4h0M100.7 121.5h0M120.7 109.1h0M101.2 109.1h0M146.9 91.8h0M125.7 87.1h0M129.0 124.3h0M110.7 96.7h0M149.8 99.5h0M134.6 119.9h0M101.5 96.8h0M84.6 119.8h0M105.6 120.2h0M121.6 113.5h0M99.8 112.3h0M133.4 120.4h0M154.7 105.0h0M121.9 108.6h0M105.6 90.0h0M132.1 105.7h0M153.7 109.4h0M139.1 89.1h0M127.4 105.6h0M137.4 86.5h0M124.9 102.4h0M120.0 113.1h0M127.8 82.6h0M118.2 96.4h0M138.9 108.7h0M109.7 105.9h0M109.5 80.2h0M119.4 138.4h0M129.0 100.2h0M125.5 99.5h0M94.1 122.9h0M105.2 84.3h0M121.8 128.1h0M107.1 84.1h0M127.5 74.7h0M107.9 76.8h0M139.1 106.3h0M94.3 90.8h0M152.7 84.6h0M120.0 119.9h0M144.7 109.6h0M120.5 88.2h0M113.6 93.8h0M153.6 97.0h0M109.6 87.4h0M107.2 88.2h0M141.1 84.5h0M119.3 129.5h0M108.5 107.0h0M98.9 104.2h0M142.4 92.4h0M146.0 96.5h0M144.9 106.9h0M136.6 86.8h0M128.5 115.4h0M117.8 70.9h0M118.6 84.8h0M146.9 88.8h0M147.7 115.2h0M130.5 102.3h0M119.3 74.1h0M131.0 114.4h0M138.0 85.8h0M109.9 141.4h0M152.2 90.4h0M142.9 105.2h0M128.3 121.9h0M120.6 118.8h0M135.0 82.3h0M140.2 101.8h0M96.3 130.0h0M93.8 103.2h0M151.1 90.3h0M102.4 97.7h0M103.8 86.2h0M122.7 119.9h0M142.6 100.8h0M114.0 104.0h0M137.9 82.7h0M126.0 76.4h0M124.8 81.4h0M105.8 113.0h0M146.1 112.6h0M107.1 124.0h0M130.6 130.6h0M106.8 80.8h0M132.3 109.4h0M112.8 123.2h0M95.5 119.8h0M93.5 118.7h0M108.5 88.1h0M123.0 91.4h0M100.8 88.9h0M157.6 100.5h0M116.2 118.6h0M104.2 109.9h0M142.5 88.8h0M116.2 111.4h0M146.2 106.6h0M89.4 104.6h0M137.6 115.5h0M108.5 114.9h0M129.9 95.2h0M161.4 100.5h0M117.1 88.6h0M106.8 126.1h0M118.1 99.6h0M152.7 95.1h0M142.2 116.3h0M129.4 95.9h0M142.8 88.6h0M113.6 78.4h0M110.0 127.7h0M113.4 124.9h0M87.9 118.5h0M111.7 109.1h0M134.0 126.7h0M105.6 111.4h0M104.1 134.0h0M119.7 100.7h0M106.7 80.8h0M134.8 105.9h0M102.9 138.7h0M119.6 73.1h0M123.1 97.7h0M103.7 114.0h0M136.5 89.6h0M109.1 91.8h0M105.4 114.4h0M126.6 107.6h0M150.9 100.4h0M113.3 98.2h0M129.5 95.5h0M135.5 112.9h0M150.2 87.4h0M93.4 106.0h0M139.1 93.2h0M116.1 128.8h0M129.0 92.5h0M110.3 122.1h0M123.5 102.0h0M118.1 120.8h0M150.5 98.6h0M127.2 91.9h0M140.8 111.1h0M105.8 85.6h0M103.3 119.2h0M98.0 96.3h0M121.7 86.3h0M101.5 103.5h0M141.1 107.8h0M95.8 113.5h0M110.2 107.6h0M112.8 82.3h0M138.6 118.5h0M117.4 88.2h0M115.0 83.5h0M95.0 121.8h0M130.5 99.4h0M97.3 89.3h0M111.3 98.3h0M142.5 83.6h0M107.4 87.6h0M115.1 114.4h0M134.0 75.5h0M112.6 82.4h0M107.9 88.2h0M116.9 73.1h0M102.2 118.9h0M131.6 77.3h0M115.6 80.6h0M117.4 126.5h0M137.0 86.9h0M127.3 120.7h0M112.6 107.0h0M111.2 86.5h0M117.2 75.9h0M104.2 117.6h0M127.4 88.5h0M140.1 83.8h0M112.0 76.7h0M99.1 103.7h0M104.3 88.4h0M113.4 96.3h0M155.1 108.9h0M111.5 103.6h0M93.9 125.9h0M127.2 114.7h0M113.1 102.1h0M128.2 121.3h0M136.8 111.1h0M156.6 112.5h0M104.3 105.8h0M112.7 108.5h0M130.8 121.6h0M107.8 126.1h0M98.6 115.7h0M97.6 110.5h0M115.6 102.4h0M136.4 112.0h0M133.9 126.5h0M148.9 91.3h0M119.4 134.6h0M96.3 110.2h0M122.7 126.0h0M121.6 75.2h0M149.8 112.7h0M115.3 141.0h0M129.8 99.3h0M125.0 103.0h0M95.6 130.1h0M111.8 126.4h0M101.8 91.0h0M134.0 116.0h0M107.2 130.8h0M124.4 117.3h0M156.8 94.1h0M115.1 134.3h0M146.4 87.7h0M140.6 94.3h0M122.8 86.9h0M128.7 103.3h0M128.9 87.3h0M118.5 120.6h0M118.9 122.3h0M155.3 106.0h0M118.3 117.2h0M94.1 110.5h0M142.8 97.6h0M136.0 86.3h0M105.2 102.1h0M131.9 103.2h0M146.7 80.5h0M133.1 90.3h0M150.4 97.6h0M111.8 105.1h0M108.0 107.2h0M107.6 100.9h0M151.7 104.9h0M134.0 93.4h0M125.3 79.1h0M129.9 84.6h0M154.3 93.7h0M135.0 84.2h0M122.3 114.0h0M132.2 77.7h0M100.2 96.0h0M116.7 89.5h0M88.2 105.5h0M116.6 139.4h0M140.7 110.3h0M161.3 109.7h0M129.2 113.4h0M108.9 110.2h0M109.5 122.8h0M134.0 79.5h0M130.5 115.3h0M130.5 113.2h0M113.1 105.0h0M133.8 95.9h0M118.4 83.9h0M150.2 107.7h0M111.1 135.7h0M121.6 111.1h0M91.3 112.8h0M122.5 86.7h0M98.9 131.8h0M145.8 89.5h0M102.0 107.7h0M104.3 112.9h0M102.0 99.4h0M158.2 112.7h0M135.1 97.8h0M112.4 124.1h0M126.9 124.5h0M109.1 114.5h0M128.2 76.9h0M117.0 108.1h0M161.6 97.2h0M102.3 120.9h0M101.6 93.0h0M106.5 130.6h0M135.1 119.0h0M119.2 101.6h0M116.6 105.2h0M135.4 96.5h0M120.0 85.6h0M125.3 125.8h0M119.4 112.7h0M145.1 82.7h0M122.5 101.2h0M130.9 94.6h0M119.8 100.7h0M122.5 116.9h0M159.2 104.8h0M137.4 102.3h0M121.0 131.1h0M120.5 116.7h0M160.9 95.8h0M91.0 122.6h0M110.6 136.8h0M133.5 83.4h0M125.9 105.7h0M154.3 110.2h0M125.5 113.1h0M117.3 112.2h0M122.7 82.0h0M100.7 137.5h0M117.5 112.4h0M128.1 80.8h0M102.8 96.2h0M99.4 124.1h0M91.8 124.1h0M158.7 112.4h0M133.7 94.3h0M104.7 80.2h0M154.8 94.0h0M157.6 95.4h0M118.2 76.2h0M107.9 95.2h0M121.5 134.5h0M129.6 125.4h0M144.9 95.4h0M162.5 102.4h0M131.5 92.5h0M106.1 95.1h0M143.1 83.4h0M121.8 102.2h0M127.7 81.9h0M132.1 127.3h0M115.1 120.9h0M127.2 96.9h0M103.8 105.6h0M122.9 102.2h0M133.1 94.2h0M108.6 100.2h0M126.7 118.7h0M144.9 93.7h0M97.6 108.0h0M130.4 93.5h0M135.4 125.8h0M98.2 120.4h0M99.1 122.7h0M85.9 118.2h0M136.1 97.3h0M130.1 127.5h0M123.7 101.0h0M109.2 104.2h0M143.5 89.5h0M123.1 118.2h0M99.5 135.1h0M161.8 103.8h0M136.3 111.9h0M123.3 83.1h0M103.7 98.3h0M119.1 79.6h0M130.9 103.3h0M109.7 91.9h0M113.2 116.2h0M156.7 113.7h0M138.2 94.8h0M110.5 125.2h0M133.6 114.2h0M94.9 122.3h0M106.0 89.2h0M120.6 88.4h0M97.7 88.6h0M121.1 88.7h0M131.7 122.2h0M135.8 111.7h0M149.7 111.6h0M121.5 120.1h0M140.9 93.6h0M109.8 76.6h0M106.0 120.5h0M114.3 120.3h0M135.4 81.1h0M122.6 119.4h0M135.7 116.6h0M111.8 133.6h0M137.1 107.8h0M152.6 104.8h0M107.9 86.9h0M125.3 78.3h0M87.3 114.5h0M95.7 104.7h0M112.4 92.2h0M137.4 93.9h0M141.2 102.0h0M118.9 112.1h0M132.2 107.6h0M108.5 84.9h0M93.1 126.0h0M159.2 103.9h0M134.6 85.9h0M89.9 118.2h0M103.7 129.0h0M155.7 95.1h0M97.5 94.1h0M136.3 111.2h0M136.7 121.1h0M92.1 110.6h0M92.3 128.9h0M117.4 117.3h0M112.9 128.6h0M134.4 102.9h0M105.6 138.0h0M110.1 110.8h0M116.3 97.7h0M131.3 86.5h0M114.8 91.2h0M114.2 90.4h0M121.8 89.2h0M140.1 89.2h0M116.8 96.8h0M138.8 80.4h0M90.3 121.6h0M147.1 113.6h0M160.2 100.4h0M139.8 86.4h0M117.1 101.0h0M157.3 96.7h0M96.6 133.8h0M122.3 76.7h0M113.9 127.9h0M112.8 137.6h0M98.5 89.2h0M109.1 110.4h0M145.3 119.2h0M119.2 108.9h0M102.4 107.4h0M128.4 115.9h0M136.4 126.4h0M117.3 128.2h0M129.0 94.8h0M130.6 85.3h0M126.1 93.1h0M110.0 111.9h0M129.2 86.1h0M162.8 104.8h0M119.6 81.1h0M131.3 92.7h0M107.1 89.0h0M123.8 74.8h0M136.3 110.4h0M111.9 131.1h0M129.1 104.8h0M154.2 91.9h0M139.1 114.1h0M121.6 93.2h0M146.9 89.5h0M114.2 127.7h0M108.0 94.1h0M98.6 93.0h0M116.8 100.7h0M141.1 102.1h0M118.7 109.9h0M96.5 123.2h0M116.4 72.1h0M135.7 95.2h0M118.4 137.7h0M99.0 95.3h0M97.1 99.8h0M97.3 95.2h0M119.8 128.9h0M146.1 102.4h0M91.2 105.8h0M116.9 99.9h0M92.0 135.3h0M122.8 86.6h0M151.8 109.0h0M103.8 124.1h0M129.5 98.0h0M150.5 110.6h0M105.4 131.3h0M117.2 97.7h0M101.9 100.4h0M98.8 138.6h0M106.1 131.9h0M137.9 93.3h0M99.9 131.0h0M136.7 94.8h0M141.2 83.1h0M117.0 98.6h0M93.1 129.0h0M96.3 111.8h0M130.9 86.5h0M121.5 153.5h0" stroke="#c44c44" stroke-width="1.12" stroke-linecap="round" fill="none" opacity="0.9"/>
<path d="M136.2 67.8h0M156.1 62.9h0M161.6 70.4h0M139.9 60.6h0M158.2 89.4h0M173.2 96.4h0M183.0 82.9h0M152.3 63.5h0M174.3 64.9h0M134.5 62.5h0M137.3 60.9h0M134.9 67.8h0M165.1 58.4h0M165.7 74.3h0M166.5 87.2h0M149.4 77.9h0M167.0 72.8h0M155.3 86.4h0M160.9 63.6h0M162.5 59.0h0M160.1 55.7h0M173.2 96.1h0M129.2 66.1h0M151.5 70.2h0M155.5 87.1h0M163.5 93.9h0M184.8 75.7h0M171.4 64.0h0M121.0 63.7h0M149.8 67.7h0M145.2 58.8h0M162.8 60.3h0M172.1 55.7h0M180.7 58.9h0M164.6 49.7h0M162.0 77.5h0M162.2 70.2h0M157.3 55.2h0M148.9 75.2h0M156.7 90.1h0M161.7 65.7h0M129.1 78.1h0M184.4 66.1h0M159.3 55.8h0M174.9 58.6h0M172.9 92.5h0M162.4 89.1h0M165.5 59.6h0M157.1 77.1h0M173.1 93.4h0M146.7 60.3h0M182.8 64.0h0M174.4 92.0h0M174.9 91.6h0M160.5 58.7h0M149.7 69.4h0M154.0 59.6h0M168.1 50.5h0M144.3 78.2h0M162.7 82.4h0M121.4 70.4h0M153.4 67.7h0M131.3 66.8h0M152.0 58.0h0M148.2 74.1h0M156.3 69.2h0M160.9 93.2h0M178.4 90.6h0M148.4 54.6h0M161.2 87.7h0M171.1 82.2h0M161.9 71.1h0M155.9 76.3h0M173.3 56.2h0M170.5 86.1h0M179.1 61.5h0M165.6 70.4h0M159.8 84.8h0M178.0 68.3h0M144.0 68.9h0M129.7 64.7h0M163.9 61.5h0M137.9 59.1h0M127.1 56.7h0M147.6 68.7h0M175.1 92.1h0M138.1 56.6h0M142.3 79.2h0M147.9 64.4h0M177.1 72.4h0M127.9 57.6h0M175.7 59.7h0M169.3 87.1h0M150.5 74.1h0M134.4 67.4h0M147.7 55.6h0M169.3 83.4h0M157.7 70.3h0M167.7 52.7h0M126.8 67.9h0M143.9 60.0h0M177.1 93.4h0M166.1 71.8h0M154.3 73.7h0M142.2 74.1h0M124.6 71.7h0M121.1 66.1h0M177.5 61.9h0M141.6 69.0h0M137.7 57.1h0M155.4 73.3h0M168.7 55.9h0M179.9 76.3h0M172.4 68.6h0M161.3 91.0h0M151.4 63.4h0M133.4 69.2h0M171.0 97.2h0M173.1 97.3h0M172.3 71.4h0M172.9 70.3h0M132.9 67.6h0M143.0 57.6h0M127.4 59.3h0M152.8 53.2h0M149.1 73.8h0M157.2 83.7h0M147.6 75.3h0M178.4 65.5h0M159.6 50.8h0M142.1 82.1h0M144.5 64.3h0M161.3 54.6h0M183.5 71.4h0M183.4 84.9h0M161.0 83.6h0M175.4 84.7h0M123.1 78.3h0M180.9 68.3h0M147.0 81.7h0M165.0 103.6h0M160.0 81.3h0M176.4 83.2h0M132.7 61.4h0M147.9 60.3h0M144.9 68.1h0M162.5 84.0h0M151.7 78.7h0M172.0 81.0h0M154.6 82.3h0M174.5 63.9h0M154.2 67.9h0M173.4 71.5h0M164.5 81.5h0M179.8 84.1h0M145.1 55.1h0M157.3 65.1h0M146.1 60.2h0M151.6 70.3h0M156.6 79.7h0M159.0 51.6h0M143.9 65.9h0M145.5 61.2h0M170.8 78.7h0M172.7 72.0h0M140.9 73.2h0M152.0 66.5h0M178.6 91.2h0M119.9 68.3h0M138.2 75.8h0M166.8 93.8h0M171.4 62.4h0M132.9 58.3h0M169.2 76.3h0M161.0 84.0h0M169.5 61.7h0M176.1 55.9h0M170.3 71.6h0M181.8 85.4h0M172.9 60.7h0M149.6 51.6h0M148.4 74.2h0M159.9 81.9h0M159.4 58.7h0M171.5 83.4h0M124.5 58.9h0M148.0 72.2h0M152.6 56.6h0M160.6 94.2h0M150.0 67.6h0M136.5 71.2h0M163.8 91.0h0M130.3 76.6h0M145.2 61.4h0M166.9 65.3h0M153.9 70.9h0M173.2 53.7h0M150.8 75.1h0M158.1 54.3h0M163.5 82.3h0M148.2 73.4h0M147.7 71.3h0M160.4 75.2h0M161.5 67.2h0M163.0 83.6h0M134.0 59.1h0M138.8 71.9h0M169.6 68.8h0M174.1 93.3h0M127.5 68.9h0M156.9 75.6h0M141.6 70.6h0M172.2 87.9h0M163.9 101.0h0M138.0 68.1h0M181.7 82.1h0M154.3 81.0h0M169.4 90.1h0M135.5 67.8h0M171.5 95.4h0M167.7 72.6h0M167.4 74.5h0M176.0 68.6h0M160.3 49.9h0M153.6 62.2h0M184.9 81.7h0M150.7 59.0h0M182.8 87.2h0M171.5 58.3h0M142.8 62.5h0M163.4 77.8h0M130.0 68.1h0M159.4 74.1h0M176.6 62.5h0M176.7 55.5h0M155.9 63.0h0M154.5 66.8h0M165.6 99.5h0M176.2 58.9h0M141.1 57.3h0M137.5 70.6h0M155.5 77.7h0M185.0 82.7h0M174.2 96.4h0M168.9 65.7h0M132.3 77.8h0M136.8 74.3h0M160.9 78.5h0M134.4 61.8h0M165.2 72.2h0M132.5 63.1h0M159.8 72.8h0M135.8 60.7h0M161.0 67.1h0M150.7 58.0h0M144.7 57.2h0M138.7 77.9h0M145.3 81.6h0M130.7 66.3h0M178.8 85.5h0M159.5 92.0h0M160.8 69.1h0M123.3 69.9h0M176.0 70.2h0M180.4 66.6h0M137.4 69.3h0M167.1 82.4h0M158.9 87.3h0M174.4 69.3h0M169.0 61.7h0M171.0 60.4h0M154.9 78.8h0M164.2 78.4h0M173.7 72.8h0M179.0 91.6h0M166.9 84.1h0M130.6 62.8h0M168.5 81.3h0M177.4 75.6h0M181.7 73.2h0M173.6 89.5h0M157.4 84.7h0M123.1 74.5h0M162.3 86.1h0M135.9 64.0h0M128.6 75.0h0M153.8 53.8h0M159.4 86.4h0M138.3 68.9h0M182.8 75.1h0M147.0 70.6h0M159.5 54.1h0M138.4 70.2h0M179.3 67.2h0M123.4 65.2h0M177.0 82.0h0M167.9 54.7h0M179.6 79.7h0M174.9 64.9h0M161.9 60.8h0M163.8 78.5h0M149.7 66.9h0M160.1 76.8h0M180.1 83.8h0M179.6 64.7h0M151.0 70.6h0M143.5 59.9h0M132.7 71.4h0M145.8 80.0h0M182.3 67.3h0M158.8 84.0h0M177.3 91.5h0M140.2 55.7h0M140.2 60.3h0M130.5 67.2h0M164.7 65.9h0M180.1 61.3h0M131.6 55.3h0M173.7 72.3h0M142.0 70.6h0M151.8 52.2h0M161.2 69.1h0M166.2 54.8h0M134.2 59.3h0M165.7 94.0h0M161.8 76.4h0M157.2 73.6h0M169.8 76.8h0M154.8 84.0h0M154.2 84.6h0M168.0 76.4h0M162.5 57.3h0M183.2 87.5h0M171.6 89.8h0M134.7 76.9h0M172.2 91.2h0M158.9 55.6h0M172.4 76.5h0M162.1 56.8h0M156.6 63.0h0M180.9 69.5h0M178.0 65.5h0M117.8 73.0h0M140.7 61.7h0M168.4 50.8h0M152.1 72.0h0M152.8 67.3h0M149.3 60.1h0M160.5 76.9h0M160.5 93.5h0M166.9 90.8h0M172.1 61.3h0M161.4 71.8h0M183.1 86.3h0M153.0 62.4h0M167.0 78.1h0M123.5 63.3h0M133.3 62.8h0M169.4 96.9h0M157.7 53.7h0M156.8 51.0h0M143.9 63.0h0M126.4 64.2h0M142.0 56.8h0M162.6 77.3h0M138.8 59.7h0M162.7 77.1h0M157.9 91.5h0M131.7 71.9h0M165.2 95.0h0M138.4 55.5h0M135.7 67.2h0M160.1 53.5h0M166.6 65.2h0M185.4 79.3h0M169.9 100.5h0M163.8 95.7h0M177.6 86.4h0M165.6 84.3h0M150.9 57.1h0M145.6 75.1h0M181.9 82.8h0M174.3 55.8h0M152.8 57.2h0M168.5 89.6h0M149.4 63.4h0M158.6 92.7h0M178.1 93.8h0M152.4 60.5h0M153.6 78.6h0M182.5 66.5h0M155.3 57.1h0M163.6 52.3h0M171.2 56.5h0M152.6 76.2h0M170.1 56.3h0M181.6 86.4h0M180.1 89.7h0M151.9 70.1h0M161.1 60.0h0M137.9 78.9h0M184.3 86.0h0M138.3 64.6h0M160.8 96.1h0M135.1 58.8h0M156.5 76.2h0M182.5 59.3h0M135.9 64.1h0M126.7 57.8h0M162.1 50.8h0M153.7 80.9h0M146.3 65.1h0M157.2 78.5h0M144.5 78.9h0M161.2 52.1h0M179.8 71.8h0M161.3 57.5h0M145.0 70.5h0M170.4 98.0h0M159.7 73.6h0M136.2 56.2h0M134.4 69.6h0M179.8 85.9h0M184.8 75.3h0M123.4 75.6h0M158.9 61.9h0M171.6 85.4h0M135.7 72.2h0M146.2 60.0h0M161.4 82.5h0M139.3 71.8h0M155.6 54.2h0M132.6 65.4h0M185.1 67.7h0M151.1 63.0h0M145.3 55.6h0M149.5 73.6h0M181.6 70.3h0M162.5 57.8h0M155.3 53.3h0M134.7 59.2h0M170.8 67.3h0M133.5 69.4h0M174.7 80.9h0M147.8 63.4h0M169.9 58.0h0M167.9 57.1h0M174.2 77.9h0M167.0 69.3h0M150.2 55.5h0M146.1 79.3h0M155.5 75.9h0M167.1 66.8h0M184.1 85.8h0M159.5 81.9h0M158.1 58.6h0M158.1 51.5h0M166.9 74.6h0M156.1 74.0h0M124.5 59.8h0M124.5 63.1h0M160.6 88.4h0M185.0 85.7h0M169.5 82.4h0M139.9 60.7h0M128.8 60.2h0M149.6 68.7h0M151.4 67.2h0M164.4 73.7h0M134.1 60.2h0M161.9 91.5h0M151.6 82.7h0M154.7 71.1h0M152.4 85.7h0M138.1 69.8h0M172.1 82.5h0M154.7 63.0h0M158.9 92.0h0M159.6 87.7h0M178.9 82.2h0M155.3 62.1h0M165.6 68.4h0M170.8 61.7h0M179.0 83.3h0M132.3 61.0h0M164.3 68.0h0M175.8 80.6h0M171.3 93.1h0M180.1 67.3h0M160.7 79.1h0M154.6 78.4h0M145.6 71.1h0M121.7 62.6h0M165.6 103.1h0M146.0 75.5h0M152.3 82.2h0M149.9 78.4h0M181.8 88.1h0M179.7 60.1h0M176.8 74.3h0M140.1 77.9h0M159.4 72.0h0M126.9 60.9h0M167.2 103.8h0M175.3 71.2h0M146.8 74.6h0M158.2 58.0h0M171.0 55.4h0M169.9 65.2h0M148.6 78.1h0M151.6 77.9h0M180.1 64.0h0M177.7 78.0h0M165.4 94.2h0M173.7 92.3h0M161.5 96.0h0M165.1 90.1h0M128.9 68.4h0M153.2 56.1h0M180.4 90.9h0M166.8 79.4h0M143.1 79.2h0M172.0 86.3h0M183.5 67.2h0M163.3 52.9h0M166.7 75.7h0M128.7 73.6h0M161.7 51.8h0M180.7 79.2h0M171.4 84.5h0M174.7 90.5h0M179.5 94.0h0M136.9 63.6h0M184.8 69.7h0M151.8 81.2h0M154.5 88.2h0M122.3 70.6h0M177.8 70.3h0M148.5 60.4h0M169.1 97.6h0M181.3 87.5h0M126.2 69.1h0M159.3 90.0h0M148.8 73.1h0M164.2 89.4h0M161.0 53.2h0M164.1 91.4h0M141.1 77.9h0M127.7 66.9h0M168.9 52.8h0M152.1 78.3h0M126.4 58.6h0M147.3 54.8h0M158.4 51.7h0M168.3 67.9h0M149.0 64.1h0M161.2 62.0h0M168.3 83.1h0M158.0 59.5h0M164.9 81.3h0M137.8 64.6h0M149.0 76.9h0M124.4 63.4h0M140.7 56.2h0M153.8 63.6h0M158.6 54.6h0M156.2 67.1h0M172.2 68.8h0M145.0 68.8h0M144.8 79.4h0M165.4 100.0h0M139.4 63.8h0M166.3 53.1h0M177.1 89.8h0M169.4 78.4h0M158.1 86.6h0M175.0 76.2h0M148.6 57.1h0M171.1 81.0h0M155.5 82.1h0M157.2 53.2h0M153.4 84.1h0M183.5 75.3h0M165.7 52.8h0M133.3 74.4h0M138.0 77.0h0M174.6 79.4h0M137.6 63.6h0M177.6 56.9h0M149.7 64.0h0M160.0 86.2h0M157.2 76.4h0M182.5 59.9h0M153.4 68.1h0M140.7 73.9h0M173.3 71.1h0M148.7 64.2h0M157.0 72.8h0M140.7 77.6h0M159.5 66.4h0M169.4 55.0h0M149.5 84.6h0M162.0 59.4h0M132.6 67.9h0M150.0 83.3h0M172.8 82.3h0M179.4 85.4h0M162.0 70.2h0M167.8 99.9h0M169.4 64.3h0M168.7 67.5h0M158.6 75.7h0M134.8 64.8h0M183.5 64.0h0M170.4 81.3h0M121.3 69.0h0M148.4 54.8h0M161.5 96.8h0M173.4 80.3h0M145.7 64.3h0M185.4 81.2h0M176.8 90.2h0M150.0 64.9h0M157.0 58.4h0M166.8 53.4h0M183.3 68.5h0M138.2 61.0h0M148.6 78.1h0M168.9 57.4h0M153.2 66.5h0M157.6 79.0h0M149.5 83.7h0M154.6 51.8h0M179.2 75.5h0M171.9 71.4h0M132.9 69.5h0M183.4 63.8h0M149.6 61.3h0M138.4 60.9h0M134.2 71.3h0M168.1 67.8h0M147.9 77.3h0M138.1 71.5h0M171.4 56.3h0M171.8 40.5h0M179.9 44.0h0M170.3 43.0h0M176.1 40.9h0M172.9 41.7h0M182.8 40.6h0M169.2 43.2h0M181.6 42.2h0M177.2 41.4h0M178.6 41.0h0M171.4 41.0h0M179.1 43.3h0M166.7 43.7h0M169.6 42.2h0M188.7 41.2h0" stroke="#3a5aa2" stroke-width="1.12" stroke-linecap="round" fill="none" opacity="0.9"/>
<text x="215.04" y="15.10" font-size="10.5" font-weight="bold" fill="#000" stroke="#000" stroke-width="0.35" textLength="8.34" lengthAdjust="spacingAndGlyphs">B</text>
<text x="242.50" y="20.30" font-size="7.78" fill="#3f6a94" stroke="#3f6a94" textLength="17.50" lengthAdjust="spacingAndGlyphs">NEU1</text>
<text x="312.00" y="20.30" font-size="7.78" fill="#cc2a4a" stroke="#cc2a4a" textLength="16.75" lengthAdjust="spacingAndGlyphs">NEU2</text>
<text x="416.70" y="20.30" font-size="7.78" fill="#48a84c" stroke="#48a84c" textLength="17.30" lengthAdjust="spacingAndGlyphs">NEU3</text>
<rect x="224.25" y="24.00" width="54.25" height="6.50" fill="#1a5488"/>
<rect x="224.25" y="24.00" width="54.25" height="2.60" fill="#6890a4"/>
<rect x="278.50" y="24.00" width="79.00" height="6.50" fill="#cc0f2f"/>
<rect x="278.50" y="24.00" width="79.00" height="2.60" fill="#dc5a6a"/>
<rect x="357.50" y="24.00" width="129.50" height="6.50" fill="#36a845"/>
<rect x="357.50" y="24.00" width="129.50" height="2.60" fill="#6cc07a"/>
<defs><clipPath id="hmc"><rect x="224.25" y="30.5" width="262.75" height="137"/></clipPath></defs>
<g class="hm" clip-path="url(#hmc)">
<g transform="translate(0 30.50)"><rect x="224.25" fill="#ec7074"/><rect x="226.26" fill="#ec7074"/><rect x="228.27" fill="#eb6c71"/><rect x="230.28" fill="#ec6f73"/><rect x="232.29" fill="#eb6d71"/><rect x="234.30" fill="#ed7a7e"/><rect x="236.31" fill="#ed7a7e"/><rect x="238.31" fill="#ed797d"/><rect x="240.32" fill="#eb6e72"/><rect x="242.33" fill="#eb6e72"/><rect x="244.34" fill="#ed7579"/><rect x="246.35" fill="#ed7478"/><rect x="248.36" fill="#ed777b"/><rect x="250.37" fill="#ec7276"/><rect x="252.38" fill="#eb6c71"/><rect x="254.39" fill="#ed767a"/><rect x="256.40" fill="#ec7175"/><rect x="258.41" fill="#ee8084"/><rect x="260.42" fill="#ed767a"/><rect x="262.43" fill="#ee8285"/><rect x="264.44" fill="#ee7d81"/><rect x="266.44" fill="#ec7377"/><rect x="268.45" fill="#ec6f73"/><rect x="270.46" fill="#ec7477"/><rect x="272.47" fill="#eb6e72"/><rect x="274.48" fill="#ed7478"/><rect x="276.49" fill="#ec7074"/></g>
<g transform="translate(0 36.73)"><rect x="224.25" fill="#ec7377"/><rect x="226.26" fill="#ec7377"/><rect x="228.27" fill="#eb6e72"/><rect x="230.28" fill="#ec6f73"/><rect x="232.29" fill="#ec6f73"/><rect x="234.30" fill="#ec6f73"/><rect x="236.31" fill="#eb6d72"/><rect x="238.31" fill="#ed7b7e"/><rect x="240.32" fill="#ed7478"/><rect x="242.33" fill="#ec7074"/><rect x="244.34" fill="#ed7478"/><rect x="246.35" fill="#ec7377"/><rect x="248.36" fill="#ec7074"/><rect x="250.37" fill="#eb6e72"/><rect x="252.38" fill="#ec7276"/><rect x="254.39" fill="#ec7074"/><rect x="256.40" fill="#ed7a7e"/><rect x="258.41" fill="#ef8487"/><rect x="260.42" fill="#ec7074"/><rect x="262.43" fill="#ed787b"/><rect x="264.44" fill="#ef8487"/><rect x="266.44" fill="#ed7579"/><rect x="268.45" fill="#ea6c70"/><rect x="270.46" fill="#ec7074"/><rect x="272.47" fill="#ea6a6f"/><rect x="274.48" fill="#ec7175"/><rect x="276.49" fill="#ed7a7d"/></g>
<g transform="translate(0 42.95)"><rect x="224.25" fill="#ed797d"/><rect x="226.26" fill="#ec7377"/><rect x="228.27" fill="#eb6e72"/><rect x="230.28" fill="#ec7074"/><rect x="232.29" fill="#eb6e72"/><rect x="234.30" fill="#ed787c"/><rect x="236.31" fill="#ec6f74"/><rect x="238.31" fill="#ed797d"/><rect x="240.32" fill="#ed767a"/><rect x="242.33" fill="#ec6f73"/><rect x="244.34" fill="#eb6e72"/><rect x="246.35" fill="#ee7c80"/><rect x="248.36" fill="#ed797d"/><rect x="250.37" fill="#ec7074"/><rect x="252.38" fill="#ec6f73"/><rect x="254.39" fill="#ea6c71"/><rect x="256.40" fill="#ed7a7e"/><rect x="258.41" fill="#ee7e82"/><rect x="260.42" fill="#ec6f73"/><rect x="262.43" fill="#ed7478"/><rect x="264.44" fill="#ed767a"/><rect x="266.44" fill="#ec6f73"/><rect x="268.45" fill="#ee8084"/><rect x="270.46" fill="#ec7377"/><rect x="272.47" fill="#ea6c70"/><rect x="274.48" fill="#ec7074"/><rect x="276.49" fill="#eb6d71"/></g>
<g transform="translate(0 49.18)"><rect x="224.25" fill="#eb6d71"/><rect x="226.26" fill="#ec7377"/><rect x="228.27" fill="#eb6d71"/><rect x="230.28" fill="#eb6e72"/><rect x="232.29" fill="#eb6f73"/><rect x="234.30" fill="#ed767a"/><rect x="236.31" fill="#ec7074"/><rect x="238.31" fill="#eb6e72"/><rect x="240.32" fill="#ec6f73"/><rect x="242.33" fill="#ec7377"/><rect x="244.34" fill="#eb6e72"/><rect x="246.35" fill="#ef8386"/><rect x="248.36" fill="#ed797d"/><rect x="250.37" fill="#ec7074"/><rect x="252.38" fill="#ee7f83"/><rect x="254.39" fill="#ec7477"/><rect x="256.40" fill="#ee7e82"/><rect x="258.41" fill="#ee8184"/><rect x="260.42" fill="#ed767a"/><rect x="262.43" fill="#ed767a"/><rect x="264.44" fill="#ec7377"/><rect x="266.44" fill="#eb6e72"/><rect x="268.45" fill="#ea6c70"/><rect x="270.46" fill="#ec7074"/><rect x="272.47" fill="#ec6f73"/><rect x="274.48" fill="#ef888b"/><rect x="276.49" fill="#ec6f73"/></g>
<g transform="translate(0 55.41)"><rect x="224.25" fill="#ee797c"/><rect x="226.26" fill="#ef7f82"/><rect x="228.27" fill="#ee7578"/><rect x="230.28" fill="#eb6e72"/><rect x="232.29" fill="#ee7578"/><rect x="234.30" fill="#ee777a"/><rect x="236.31" fill="#f18b8e"/><rect x="238.31" fill="#ee7679"/><rect x="240.32" fill="#ee797c"/><rect x="242.33" fill="#ee777a"/><rect x="244.34" fill="#ed7477"/><rect x="246.35" fill="#ee777a"/><rect x="248.36" fill="#ef7d80"/><rect x="250.37" fill="#ed7478"/><rect x="252.38" fill="#ee777a"/><rect x="254.39" fill="#ef7c7f"/><rect x="256.40" fill="#ee7679"/><rect x="258.41" fill="#f08588"/><rect x="260.42" fill="#ee797c"/><rect x="262.43" fill="#ed7477"/><rect x="264.44" fill="#ef7c7f"/><rect x="266.44" fill="#ed7477"/><rect x="268.45" fill="#ed7376"/><rect x="270.46" fill="#ee7679"/><rect x="272.47" fill="#ec7074"/><rect x="274.48" fill="#f08789"/><rect x="276.49" fill="#ef7b7d"/></g>
<g transform="translate(0 61.64)"><rect x="224.25" fill="#f4b6b6"/><rect x="226.26" fill="#f5b8b8"/><rect x="228.27" fill="#f0a0a1"/><rect x="230.28" fill="#ee999b"/><rect x="232.29" fill="#f2a7a7"/><rect x="234.30" fill="#f5b9b9"/><rect x="236.31" fill="#f1a4a5"/><rect x="238.31" fill="#ef9a9c"/><rect x="240.32" fill="#f1a6a6"/><rect x="242.33" fill="#f4b1b1"/><rect x="244.34" fill="#f1a6a6"/><rect x="246.35" fill="#f3aeae"/><rect x="248.36" fill="#f5bdbd"/><rect x="250.37" fill="#ec9193"/><rect x="252.38" fill="#f5bcbc"/><rect x="254.39" fill="#f3abab"/><rect x="256.40" fill="#f1a4a5"/><rect x="258.41" fill="#f5b7b7"/><rect x="260.42" fill="#f2a9aa"/><rect x="262.43" fill="#f3adad"/><rect x="264.44" fill="#f2a9a9"/><rect x="266.44" fill="#f3acac"/><rect x="268.45" fill="#f2a8a8"/><rect x="270.46" fill="#ee999b"/><rect x="272.47" fill="#ef9c9e"/><rect x="274.48" fill="#f7c9c9"/><rect x="276.49" fill="#f4b3b3"/></g>
<g transform="translate(0 67.86)"><rect x="224.25" fill="#f8e3e3"/><rect x="226.26" fill="#faeaea"/><rect x="228.27" fill="#c81428"/><rect x="230.28" fill="#fae9e9"/><rect x="232.29" fill="#fbeeee"/><rect x="234.30" fill="#f0a0a5"/><rect x="236.31" fill="#fcf2f2"/><rect x="238.31" fill="#c81428"/><rect x="240.32" fill="#fbf0f0"/><rect x="242.33" fill="#faeaea"/><rect x="244.34" fill="#fbeded"/><rect x="246.35" fill="#cd192d"/><rect x="248.36" fill="#faecec"/><rect x="250.37" fill="#f9e6e6"/><rect x="252.38" fill="#f0aaaa"/><rect x="254.39" fill="#fbeeee"/><rect x="256.40" fill="#faecec"/><rect x="258.41" fill="#e15a64"/><rect x="260.42" fill="#f9e6e6"/><rect x="262.43" fill="#f9e6e6"/><rect x="264.44" fill="#e66e6e"/><rect x="266.44" fill="#d7323c"/><rect x="268.45" fill="#c31423"/><rect x="270.46" fill="#faecec"/><rect x="272.47" fill="#f2b4b4"/><rect x="274.48" fill="#f9e7e7"/><rect x="276.49" fill="#f9e6e6"/></g>
<g transform="translate(0 74.09)"><rect x="224.25" fill="#f7ebee"/><rect x="226.26" fill="#f8f3f5"/><rect x="228.27" fill="#f5e1e4"/><rect x="230.28" fill="#f7edef"/><rect x="232.29" fill="#f6e7ea"/><rect x="234.30" fill="#f9f6f8"/><rect x="236.31" fill="#f8eff2"/><rect x="238.31" fill="#f6e4e7"/><rect x="240.32" fill="#f9f4f6"/><rect x="242.33" fill="#f9f6f8"/><rect x="244.34" fill="#f9f4f6"/><rect x="246.35" fill="#f4d8dc"/><rect x="248.36" fill="#faf7f9"/><rect x="250.37" fill="#f4dcdf"/><rect x="252.38" fill="#faf7f9"/><rect x="254.39" fill="#f9f6f8"/><rect x="256.40" fill="#f6e8ea"/><rect x="258.41" fill="#f9f7f8"/><rect x="260.42" fill="#f9f6f8"/><rect x="262.43" fill="#f9f7f9"/><rect x="264.44" fill="#f5e2e5"/><rect x="266.44" fill="#faf8fa"/><rect x="268.45" fill="#efc2c6"/><rect x="270.46" fill="#f9f6f8"/><rect x="272.47" fill="#f7eaed"/><rect x="274.48" fill="#f9f6f8"/><rect x="276.49" fill="#faf8f9"/></g>
<g transform="translate(0 80.32)"><rect x="224.25" fill="#ececf6"/><rect x="226.26" fill="#efeff7"/><rect x="228.27" fill="#dcddef"/><rect x="230.28" fill="#ececf6"/><rect x="232.29" fill="#d8d9ee"/><rect x="234.30" fill="#ececf6"/><rect x="236.31" fill="#e1e2f1"/><rect x="238.31" fill="#dbdcef"/><rect x="240.32" fill="#e2e3f2"/><rect x="242.33" fill="#ededf6"/><rect x="244.34" fill="#ececf6"/><rect x="246.35" fill="#f0f0f8"/><rect x="248.36" fill="#eeeef7"/><rect x="250.37" fill="#eeeef7"/><rect x="252.38" fill="#eeeef7"/><rect x="254.39" fill="#dedff0"/><rect x="256.40" fill="#ececf6"/><rect x="258.41" fill="#efeff7"/><rect x="260.42" fill="#dedff0"/><rect x="262.43" fill="#eeeef7"/><rect x="264.44" fill="#f2f2f9"/><rect x="266.44" fill="#e6e7f4"/><rect x="268.45" fill="#d3d5eb"/><rect x="270.46" fill="#e4e5f3"/><rect x="272.47" fill="#ededf7"/><rect x="274.48" fill="#efeff7"/><rect x="276.49" fill="#ededf7"/></g>
<g transform="translate(0 86.55)"><rect x="224.25" fill="#5a63b4"/><rect x="226.26" fill="#7d85ca"/><rect x="228.27" fill="#838acc"/><rect x="230.28" fill="#888ece"/><rect x="232.29" fill="#8d93d0"/><rect x="234.30" fill="#676fb9"/><rect x="236.31" fill="#989dd5"/><rect x="238.31" fill="#9da2d7"/><rect x="240.32" fill="#a2a7d9"/><rect x="242.33" fill="#a8acdb"/><rect x="244.34" fill="#747bbf"/><rect x="246.35" fill="#b2b5df"/><rect x="248.36" fill="#7a80c1"/><rect x="250.37" fill="#7c82c2"/><rect x="252.38" fill="#7f85c3"/><rect x="254.39" fill="#8287c4"/><rect x="256.40" fill="#cccdea"/><rect x="258.41" fill="#d2d2ec"/><rect x="260.42" fill="#d7d7ee"/><rect x="262.43" fill="#d7d7ee"/><rect x="264.44" fill="#d7d7ee"/><rect x="266.44" fill="#d7d7ee"/><rect x="268.45" fill="#d7d7ee"/><rect x="270.46" fill="#d7d7ee"/><rect x="272.47" fill="#d7d7ee"/><rect x="274.48" fill="#d7d7ee"/><rect x="276.49" fill="#d7d7ee"/></g>
<g transform="translate(0 92.77)"><rect x="224.25" fill="#f0b3b5"/><rect x="226.26" fill="#f3c1c1"/><rect x="228.27" fill="#f0b3b4"/><rect x="230.28" fill="#f4c8c8"/><rect x="232.29" fill="#f3c3c4"/><rect x="234.30" fill="#f5cece"/><rect x="236.31" fill="#efb1b3"/><rect x="238.31" fill="#f4c9c9"/><rect x="240.32" fill="#f2bcbd"/><rect x="242.33" fill="#f2c0c0"/><rect x="244.34" fill="#f2bebf"/><rect x="246.35" fill="#f5cfcf"/><rect x="248.36" fill="#f5cece"/><rect x="250.37" fill="#f6d1d1"/><rect x="252.38" fill="#f4caca"/><rect x="254.39" fill="#f0b6b7"/><rect x="256.40" fill="#f3c3c3"/><rect x="258.41" fill="#f8dbdb"/><rect x="260.42" fill="#f4c6c6"/><rect x="262.43" fill="#f2bdbe"/><rect x="264.44" fill="#f2bdbe"/><rect x="266.44" fill="#f4c8c8"/><rect x="268.45" fill="#f4c8c8"/><rect x="270.46" fill="#f5cece"/><rect x="272.47" fill="#f0b2b4"/><rect x="274.48" fill="#f7d8d8"/><rect x="276.49" fill="#f6d3d3"/></g>
<g transform="translate(0 99.00)"><rect x="224.25" fill="#f6e3e3"/><rect x="226.26" fill="#f6e3e3"/><rect x="228.27" fill="#f1cfd0"/><rect x="230.28" fill="#ecb1b4"/><rect x="232.29" fill="#f6e5e5"/><rect x="234.30" fill="#f6e3e3"/><rect x="236.31" fill="#f4dddd"/><rect x="238.31" fill="#f1cecf"/><rect x="240.32" fill="#efc4c6"/><rect x="242.33" fill="#f5e1e1"/><rect x="244.34" fill="#f4dddd"/><rect x="246.35" fill="#ecb4b6"/><rect x="248.36" fill="#f6e3e3"/><rect x="250.37" fill="#f1cbcc"/><rect x="252.38" fill="#f4dede"/><rect x="254.39" fill="#f3d8d8"/><rect x="256.40" fill="#efc2c4"/><rect x="258.41" fill="#f5e0e0"/><rect x="260.42" fill="#f6e5e5"/><rect x="262.43" fill="#f0c9cb"/><rect x="264.44" fill="#f6e3e3"/><rect x="266.44" fill="#f3d6d7"/><rect x="268.45" fill="#f5e0e0"/><rect x="270.46" fill="#efc4c5"/><rect x="272.47" fill="#ebabae"/><rect x="274.48" fill="#f6e5e5"/><rect x="276.49" fill="#f6e3e3"/></g>
<g transform="translate(0 105.23)"><rect x="224.25" fill="#727ac5"/><rect x="226.26" fill="#bdc1e5"/><rect x="228.27" fill="#7780c8"/><rect x="230.28" fill="#717ac5"/><rect x="232.29" fill="#7981c8"/><rect x="234.30" fill="#acb1de"/><rect x="236.31" fill="#737bc5"/><rect x="238.31" fill="#747cc6"/><rect x="240.32" fill="#7f87cc"/><rect x="242.33" fill="#737bc5"/><rect x="244.34" fill="#8189cc"/><rect x="246.35" fill="#7e86cb"/><rect x="248.36" fill="#7e86cb"/><rect x="250.37" fill="#a9afdd"/><rect x="252.38" fill="#7c84ca"/><rect x="254.39" fill="#8c93d1"/><rect x="256.40" fill="#8890cf"/><rect x="258.41" fill="#9399d3"/><rect x="260.42" fill="#b7bbe2"/><rect x="262.43" fill="#a5abdb"/><rect x="264.44" fill="#a2a8da"/><rect x="266.44" fill="#6f77c3"/><rect x="268.45" fill="#777fc7"/><rect x="270.46" fill="#7e86cb"/><rect x="272.47" fill="#737bc5"/><rect x="274.48" fill="#858dce"/><rect x="276.49" fill="#c4c8e7"/></g>
<g transform="translate(0 111.45)"><rect x="224.25" fill="#dddef0"/><rect x="226.26" fill="#dfe0f1"/><rect x="228.27" fill="#dddef0"/><rect x="230.28" fill="#ececf7"/><rect x="232.29" fill="#dfe0f1"/><rect x="234.30" fill="#ededf7"/><rect x="236.31" fill="#dedff1"/><rect x="238.31" fill="#ebebf6"/><rect x="240.32" fill="#dfe0f1"/><rect x="242.33" fill="#ebebf6"/><rect x="244.34" fill="#d8d9ee"/><rect x="246.35" fill="#efeff8"/><rect x="248.36" fill="#dcdcef"/><rect x="250.37" fill="#eeeef7"/><rect x="252.38" fill="#e5e5f3"/><rect x="254.39" fill="#ececf6"/><rect x="256.40" fill="#f1f1f9"/><rect x="258.41" fill="#f1f1f9"/><rect x="260.42" fill="#e0e0f1"/><rect x="262.43" fill="#ededf7"/><rect x="264.44" fill="#ededf7"/><rect x="266.44" fill="#f0f0f8"/><rect x="268.45" fill="#dddef0"/><rect x="270.46" fill="#ebebf6"/><rect x="272.47" fill="#e4e4f3"/><rect x="274.48" fill="#ededf7"/><rect x="276.49" fill="#eaeaf6"/></g>
<g transform="translate(0 117.68)"><rect x="224.25" fill="#c6c7ea"/><rect x="226.26" fill="#dadaf1"/><rect x="228.27" fill="#bebfe6"/><rect x="230.28" fill="#c2c3e8"/><rect x="232.29" fill="#d1d1ee"/><rect x="234.30" fill="#d7d7f0"/><rect x="236.31" fill="#d3d3ef"/><rect x="238.31" fill="#c7c8ea"/><rect x="240.32" fill="#d2d2ef"/><rect x="242.33" fill="#cacbeb"/><rect x="244.34" fill="#d0d0ee"/><rect x="246.35" fill="#d7d7f0"/><rect x="248.36" fill="#c9caeb"/><rect x="250.37" fill="#d5d5f0"/><rect x="252.38" fill="#d0d0ee"/><rect x="254.39" fill="#cfd0ee"/><rect x="256.40" fill="#d6d6f0"/><rect x="258.41" fill="#cacaeb"/><rect x="260.42" fill="#d9d9f1"/><rect x="262.43" fill="#c2c3e8"/><rect x="264.44" fill="#d4d4ef"/><rect x="266.44" fill="#dcdcf2"/><rect x="268.45" fill="#d0d0ee"/><rect x="270.46" fill="#d3d3ef"/><rect x="272.47" fill="#c0c2e7"/><rect x="274.48" fill="#d8d8f1"/><rect x="276.49" fill="#d5d5f0"/></g>
<g transform="translate(0 123.91)"><rect x="224.25" fill="#aaaedc"/><rect x="226.26" fill="#ccceeb"/><rect x="228.27" fill="#c4c6e8"/><rect x="230.28" fill="#c5c7e8"/><rect x="232.29" fill="#c7c9e9"/><rect x="234.30" fill="#c2c4e7"/><rect x="236.31" fill="#c2c4e7"/><rect x="238.31" fill="#abafdd"/><rect x="240.32" fill="#cdcfec"/><rect x="242.33" fill="#c5c7e8"/><rect x="244.34" fill="#b0b3df"/><rect x="246.35" fill="#cbcdeb"/><rect x="248.36" fill="#cbcdeb"/><rect x="250.37" fill="#c3c5e7"/><rect x="252.38" fill="#cdceeb"/><rect x="254.39" fill="#c0c2e6"/><rect x="256.40" fill="#cbcdeb"/><rect x="258.41" fill="#cdceeb"/><rect x="260.42" fill="#c8cae9"/><rect x="262.43" fill="#c2c4e7"/><rect x="264.44" fill="#bdbfe5"/><rect x="266.44" fill="#c2c5e7"/><rect x="268.45" fill="#c2c4e7"/><rect x="270.46" fill="#c0c2e6"/><rect x="272.47" fill="#b9bce3"/><rect x="274.48" fill="#cdceeb"/><rect x="276.49" fill="#c0c2e6"/></g>
<g transform="translate(0 130.14)"><rect x="224.25" fill="#878dcd"/><rect x="226.26" fill="#a6aadb"/><rect x="228.27" fill="#b7bae1"/><rect x="230.28" fill="#878dcd"/><rect x="232.29" fill="#9398d2"/><rect x="234.30" fill="#9da1d6"/><rect x="236.31" fill="#adb0dd"/><rect x="238.31" fill="#888dcd"/><rect x="240.32" fill="#8f94d0"/><rect x="242.33" fill="#a5a9da"/><rect x="244.34" fill="#a1a5d8"/><rect x="246.35" fill="#c6c8e7"/><rect x="248.36" fill="#c6c9e8"/><rect x="250.37" fill="#9da2d7"/><rect x="252.38" fill="#959ad3"/><rect x="254.39" fill="#9ea2d7"/><rect x="256.40" fill="#b6b9e1"/><rect x="258.41" fill="#b1b5df"/><rect x="260.42" fill="#b1b4df"/><rect x="262.43" fill="#ccceea"/><rect x="264.44" fill="#aeb2de"/><rect x="266.44" fill="#9da1d7"/><rect x="268.45" fill="#a2a6d9"/><rect x="270.46" fill="#9499d3"/><rect x="272.47" fill="#aaaedc"/><rect x="274.48" fill="#c1c4e6"/><rect x="276.49" fill="#a5a9da"/></g>
<g transform="translate(0 136.36)"><rect x="224.25" fill="#bfbfe5"/><rect x="226.26" fill="#bbbbe3"/><rect x="228.27" fill="#acaddc"/><rect x="230.28" fill="#adaedd"/><rect x="232.29" fill="#aeafde"/><rect x="234.30" fill="#b3b3e0"/><rect x="236.31" fill="#b3b4e0"/><rect x="238.31" fill="#b3b3e0"/><rect x="240.32" fill="#bbbbe3"/><rect x="242.33" fill="#c4c4e7"/><rect x="244.34" fill="#a0a2d7"/><rect x="246.35" fill="#c9c9e9"/><rect x="248.36" fill="#b4b4e0"/><rect x="250.37" fill="#c6c6e8"/><rect x="252.38" fill="#b6b6e1"/><rect x="254.39" fill="#c0c0e5"/><rect x="256.40" fill="#babae3"/><rect x="258.41" fill="#b1b2df"/><rect x="260.42" fill="#b7b7e1"/><rect x="262.43" fill="#b8b8e2"/><rect x="264.44" fill="#c0c0e5"/><rect x="266.44" fill="#b7b7e1"/><rect x="268.45" fill="#bcbce4"/><rect x="270.46" fill="#c4c4e7"/><rect x="272.47" fill="#9fa1d7"/><rect x="274.48" fill="#b7b8e2"/><rect x="276.49" fill="#bcbce4"/></g>
<g transform="translate(0 142.59)"><rect x="224.25" fill="#7077c1"/><rect x="226.26" fill="#8f94ce"/><rect x="228.27" fill="#5962b7"/><rect x="230.28" fill="#6970be"/><rect x="232.29" fill="#5a62b7"/><rect x="234.30" fill="#5b63b7"/><rect x="236.31" fill="#5b63b8"/><rect x="238.31" fill="#565fb6"/><rect x="240.32" fill="#5a62b7"/><rect x="242.33" fill="#5b63b7"/><rect x="244.34" fill="#515ab4"/><rect x="246.35" fill="#5961b7"/><rect x="248.36" fill="#666ebd"/><rect x="250.37" fill="#5860b6"/><rect x="252.38" fill="#5b63b8"/><rect x="254.39" fill="#676ebd"/><rect x="256.40" fill="#5c64b8"/><rect x="258.41" fill="#949ad1"/><rect x="260.42" fill="#5b63b7"/><rect x="262.43" fill="#5961b7"/><rect x="264.44" fill="#8086c8"/><rect x="266.44" fill="#5d65b8"/><rect x="268.45" fill="#5c64b8"/><rect x="270.46" fill="#777dc4"/><rect x="272.47" fill="#555db5"/><rect x="274.48" fill="#a2a7d6"/><rect x="276.49" fill="#737ac2"/></g>
<g transform="translate(0 148.82)"><rect x="224.25" fill="#b4b5e1"/><rect x="226.26" fill="#cdcdec"/><rect x="228.27" fill="#c0c0e6"/><rect x="230.28" fill="#b2b4e0"/><rect x="232.29" fill="#bcbde5"/><rect x="234.30" fill="#d0d0ed"/><rect x="236.31" fill="#b6b7e2"/><rect x="238.31" fill="#c8c8ea"/><rect x="240.32" fill="#ceceec"/><rect x="242.33" fill="#d1d1ed"/><rect x="244.34" fill="#bfc0e6"/><rect x="246.35" fill="#b8bae3"/><rect x="248.36" fill="#d9d9f0"/><rect x="250.37" fill="#c0c1e7"/><rect x="252.38" fill="#d1d1ee"/><rect x="254.39" fill="#b9bae3"/><rect x="256.40" fill="#c0c0e6"/><rect x="258.41" fill="#d3d3ee"/><rect x="260.42" fill="#c9c9ea"/><rect x="262.43" fill="#cbcbeb"/><rect x="264.44" fill="#d1d1ed"/><rect x="266.44" fill="#cdcdec"/><rect x="268.45" fill="#b9bae3"/><rect x="270.46" fill="#d1d1ee"/><rect x="272.47" fill="#c4c4e8"/><rect x="274.48" fill="#d7d7f0"/><rect x="276.49" fill="#cfcfed"/></g>
<g transform="translate(0 155.05)"><rect x="224.25" fill="#bec1e4"/><rect x="226.26" fill="#9da1d6"/><rect x="228.27" fill="#9ca0d6"/><rect x="230.28" fill="#989cd4"/><rect x="232.29" fill="#8a8fce"/><rect x="234.30" fill="#a0a4d8"/><rect x="236.31" fill="#9b9fd6"/><rect x="238.31" fill="#959ad3"/><rect x="240.32" fill="#8489cb"/><rect x="242.33" fill="#9a9ed5"/><rect x="244.34" fill="#8d92cf"/><rect x="246.35" fill="#b5b8e0"/><rect x="248.36" fill="#a9acdb"/><rect x="250.37" fill="#9ca0d6"/><rect x="252.38" fill="#9a9ed5"/><rect x="254.39" fill="#c4c6e7"/><rect x="256.40" fill="#9a9ed5"/><rect x="258.41" fill="#a9addc"/><rect x="260.42" fill="#b2b5df"/><rect x="262.43" fill="#8f94d0"/><rect x="264.44" fill="#a9addc"/><rect x="266.44" fill="#9398d2"/><rect x="268.45" fill="#9296d1"/><rect x="270.46" fill="#b2b5df"/><rect x="272.47" fill="#999dd5"/><rect x="274.48" fill="#bbbde3"/><rect x="276.49" fill="#8d92cf"/></g>
<g transform="translate(0 161.27)"><rect x="224.25" fill="#bcbde3"/><rect x="226.26" fill="#d2d2ed"/><rect x="228.27" fill="#d0d0ec"/><rect x="230.28" fill="#cacae9"/><rect x="232.29" fill="#cbcbea"/><rect x="234.30" fill="#d9d9f0"/><rect x="236.31" fill="#bfc0e5"/><rect x="238.31" fill="#bdbee4"/><rect x="240.32" fill="#c9cae9"/><rect x="242.33" fill="#dadaf0"/><rect x="244.34" fill="#c9c9e9"/><rect x="246.35" fill="#dadaf0"/><rect x="248.36" fill="#d2d2ed"/><rect x="250.37" fill="#d1d1ec"/><rect x="252.38" fill="#d3d3ed"/><rect x="254.39" fill="#b5b7e0"/><rect x="256.40" fill="#c9c9e9"/><rect x="258.41" fill="#d3d3ed"/><rect x="260.42" fill="#c5c5e7"/><rect x="262.43" fill="#d4d4ee"/><rect x="264.44" fill="#d4d4ed"/><rect x="266.44" fill="#cbccea"/><rect x="268.45" fill="#d4d4ee"/><rect x="270.46" fill="#ccccea"/><rect x="272.47" fill="#cfcfeb"/><rect x="274.48" fill="#dadaf0"/><rect x="276.49" fill="#d8d8ef"/></g>
<g transform="translate(0 30.50)"><rect x="278.50" fill="#f6d3d3"/><rect x="280.48" fill="#f5cfd0"/><rect x="282.45" fill="#f7d9d9"/><rect x="284.43" fill="#f3c6c7"/><rect x="286.40" fill="#f9e3e3"/><rect x="288.38" fill="#f6d1d1"/><rect x="290.35" fill="#f7d5d6"/><rect x="292.32" fill="#f7d7d7"/><rect x="294.30" fill="#f9e1e1"/><rect x="296.27" fill="#f7d6d6"/><rect x="298.25" fill="#f9e3e3"/><rect x="300.23" fill="#f3c4c6"/><rect x="302.20" fill="#f6d1d2"/><rect x="304.18" fill="#f8dede"/><rect x="306.15" fill="#f8dddd"/><rect x="308.12" fill="#f3c5c6"/><rect x="310.10" fill="#f8dddd"/><rect x="312.07" fill="#f3c6c7"/><rect x="314.05" fill="#f6d4d5"/><rect x="316.02" fill="#f4c8c9"/><rect x="318.00" fill="#f2bfc1"/><rect x="319.98" fill="#f6d4d4"/><rect x="321.95" fill="#f8dddd"/><rect x="323.93" fill="#f8dede"/><rect x="325.90" fill="#f9e2e2"/><rect x="327.88" fill="#f5cccd"/><rect x="329.85" fill="#f4cacb"/><rect x="331.82" fill="#f7d7d7"/><rect x="333.80" fill="#f8dede"/><rect x="335.77" fill="#f3c4c5"/><rect x="337.75" fill="#f1bcbe"/><rect x="339.73" fill="#f5cece"/><rect x="341.70" fill="#fae4e4"/><rect x="343.68" fill="#f9e1e1"/><rect x="345.65" fill="#f9e0e0"/><rect x="347.62" fill="#fae5e5"/><rect x="349.60" fill="#f3c1c3"/><rect x="351.57" fill="#f9e1e1"/><rect x="353.55" fill="#f4cacb"/><rect x="355.52" fill="#f9e0e0"/></g>
<g transform="translate(0 36.73)"><rect x="278.50" fill="#f9dddd"/><rect x="280.48" fill="#f8dcdc"/><rect x="282.45" fill="#f5cacb"/><rect x="284.43" fill="#f8d9d9"/><rect x="286.40" fill="#f7d3d4"/><rect x="288.38" fill="#f8dcdc"/><rect x="290.35" fill="#f6cfd0"/><rect x="292.32" fill="#f7d7d7"/><rect x="294.30" fill="#fae5e5"/><rect x="296.27" fill="#f9dddd"/><rect x="298.25" fill="#f8dcdc"/><rect x="300.23" fill="#f8d9d9"/><rect x="302.20" fill="#f8dada"/><rect x="304.18" fill="#f9dfdf"/><rect x="306.15" fill="#f4c8c9"/><rect x="308.12" fill="#f9dddd"/><rect x="310.10" fill="#f8dbdb"/><rect x="312.07" fill="#f7d7d7"/><rect x="314.05" fill="#fae3e3"/><rect x="316.02" fill="#f4c6c7"/><rect x="318.00" fill="#f5cccd"/><rect x="319.98" fill="#f8dcdc"/><rect x="321.95" fill="#f9dddd"/><rect x="323.93" fill="#f1babc"/><rect x="325.90" fill="#f7d5d5"/><rect x="327.88" fill="#f3c1c3"/><rect x="329.85" fill="#f7d6d7"/><rect x="331.82" fill="#f5cccd"/><rect x="333.80" fill="#f6cfcf"/><rect x="335.77" fill="#f8dcdc"/><rect x="337.75" fill="#f1babc"/><rect x="339.73" fill="#f7d6d6"/><rect x="341.70" fill="#f9dede"/><rect x="343.68" fill="#fae3e3"/><rect x="345.65" fill="#f9dfdf"/><rect x="347.62" fill="#f8dada"/><rect x="349.60" fill="#f2bfc0"/><rect x="351.57" fill="#f3c2c4"/><rect x="353.55" fill="#f9dddd"/><rect x="355.52" fill="#f6d0d0"/></g>
<g transform="translate(0 42.95)"><rect x="278.50" fill="#f8dfdf"/><rect x="280.48" fill="#fae6e6"/><rect x="282.45" fill="#f8dddd"/><rect x="284.43" fill="#f5cfd0"/><rect x="286.40" fill="#f6d5d5"/><rect x="288.38" fill="#f7d7d7"/><rect x="290.35" fill="#f6d2d3"/><rect x="292.32" fill="#f6d5d6"/><rect x="294.30" fill="#fae6e6"/><rect x="296.27" fill="#f8dfdf"/><rect x="298.25" fill="#fae6e6"/><rect x="300.23" fill="#f8dede"/><rect x="302.20" fill="#f5d2d2"/><rect x="304.18" fill="#f7dbdb"/><rect x="306.15" fill="#f8e0e0"/><rect x="308.12" fill="#fae5e5"/><rect x="310.10" fill="#f9e1e1"/><rect x="312.07" fill="#f8dede"/><rect x="314.05" fill="#f7dbdb"/><rect x="316.02" fill="#f4cbcc"/><rect x="318.00" fill="#f9e1e1"/><rect x="319.98" fill="#f9e5e5"/><rect x="321.95" fill="#f9e3e3"/><rect x="323.93" fill="#fae7e7"/><rect x="325.90" fill="#f8dede"/><rect x="327.88" fill="#f3c5c7"/><rect x="329.85" fill="#f7d8d9"/><rect x="331.82" fill="#f7dbdb"/><rect x="333.80" fill="#f9e1e1"/><rect x="335.77" fill="#f8dfdf"/><rect x="337.75" fill="#f2c0c2"/><rect x="339.73" fill="#f4c9ca"/><rect x="341.70" fill="#fae5e5"/><rect x="343.68" fill="#f8dcdc"/><rect x="345.65" fill="#f5cecf"/><rect x="347.62" fill="#f9e2e2"/><rect x="349.60" fill="#fae6e6"/><rect x="351.57" fill="#f6d6d7"/><rect x="353.55" fill="#f5d0d0"/><rect x="355.52" fill="#f7d8d8"/></g>
<g transform="translate(0 49.18)"><rect x="278.50" fill="#f9e1e1"/><rect x="280.48" fill="#fbecec"/><rect x="282.45" fill="#eeacaf"/><rect x="284.43" fill="#fae6e6"/><rect x="286.40" fill="#fae7e7"/><rect x="288.38" fill="#fae6e6"/><rect x="290.35" fill="#f5cdcf"/><rect x="292.32" fill="#f8dfdf"/><rect x="294.30" fill="#f9e0e0"/><rect x="296.27" fill="#f9e3e4"/><rect x="298.25" fill="#fae6e6"/><rect x="300.23" fill="#f9e2e2"/><rect x="302.20" fill="#fbe9e9"/><rect x="304.18" fill="#fbe9e9"/><rect x="306.15" fill="#fbecec"/><rect x="308.12" fill="#fbeaea"/><rect x="310.10" fill="#f9e3e3"/><rect x="312.07" fill="#f4c9cb"/><rect x="314.05" fill="#f6d3d4"/><rect x="316.02" fill="#f4cacb"/><rect x="318.00" fill="#f9e1e1"/><rect x="319.98" fill="#fae6e6"/><rect x="321.95" fill="#f7d9d9"/><rect x="323.93" fill="#fbe9e9"/><rect x="325.90" fill="#fbe9e9"/><rect x="327.88" fill="#f4cacc"/><rect x="329.85" fill="#fbe9e9"/><rect x="331.82" fill="#fae7e7"/><rect x="333.80" fill="#f5ced0"/><rect x="335.77" fill="#f8dddd"/><rect x="337.75" fill="#f1bcbe"/><rect x="339.73" fill="#f4c9cb"/><rect x="341.70" fill="#fae8e8"/><rect x="343.68" fill="#fbe9e9"/><rect x="345.65" fill="#f7dada"/><rect x="347.62" fill="#f5cdcf"/><rect x="349.60" fill="#fbecec"/><rect x="351.57" fill="#f6d1d3"/><rect x="353.55" fill="#f3c3c5"/><rect x="355.52" fill="#f9e2e2"/></g>
<g transform="translate(0 55.41)"><rect x="278.50" fill="#f9dedf"/><rect x="280.48" fill="#fcefef"/><rect x="282.45" fill="#f7d7d8"/><rect x="284.43" fill="#fbeaea"/><rect x="286.40" fill="#f4cacc"/><rect x="288.38" fill="#f9e1e1"/><rect x="290.35" fill="#f4c6c8"/><rect x="292.32" fill="#fcefef"/><rect x="294.30" fill="#fbecec"/><rect x="296.27" fill="#fbecec"/><rect x="298.25" fill="#fcf2f2"/><rect x="300.23" fill="#fae5e6"/><rect x="302.20" fill="#fbebeb"/><rect x="304.18" fill="#fceded"/><rect x="306.15" fill="#fbecec"/><rect x="308.12" fill="#fceded"/><rect x="310.10" fill="#fbeaea"/><rect x="312.07" fill="#fceeee"/><rect x="314.05" fill="#fcf2f2"/><rect x="316.02" fill="#f9dfdf"/><rect x="318.00" fill="#fbe8e8"/><rect x="319.98" fill="#fbeaea"/><rect x="321.95" fill="#fbeaea"/><rect x="323.93" fill="#fceded"/><rect x="325.90" fill="#fbebeb"/><rect x="327.88" fill="#fbe8e9"/><rect x="329.85" fill="#f8dede"/><rect x="331.82" fill="#fcf1f1"/><rect x="333.80" fill="#fbe9e9"/><rect x="335.77" fill="#fcf0f0"/><rect x="337.75" fill="#f8d9da"/><rect x="339.73" fill="#fbe9e9"/><rect x="341.70" fill="#fae6e6"/><rect x="343.68" fill="#fbecec"/><rect x="345.65" fill="#fbebeb"/><rect x="347.62" fill="#f2c0c3"/><rect x="349.60" fill="#fbe9e9"/><rect x="351.57" fill="#fcefef"/><rect x="353.55" fill="#f4c7c9"/><rect x="355.52" fill="#fceeee"/></g>
<g transform="translate(0 61.64)"><rect x="278.50" fill="#f5c7c8"/><rect x="280.48" fill="#f8d8d8"/><rect x="282.45" fill="#f5c5c6"/><rect x="284.43" fill="#f5c7c8"/><rect x="286.40" fill="#f6cbcb"/><rect x="288.38" fill="#f6cece"/><rect x="290.35" fill="#f6caca"/><rect x="292.32" fill="#f7d4d4"/><rect x="294.30" fill="#f6cdcd"/><rect x="296.27" fill="#f7d4d4"/><rect x="298.25" fill="#f7d2d2"/><rect x="300.23" fill="#f6cdcd"/><rect x="302.20" fill="#f6caca"/><rect x="304.18" fill="#f0b0b2"/><rect x="306.15" fill="#f6cbcb"/><rect x="308.12" fill="#f4c1c2"/><rect x="310.10" fill="#f3bdbe"/><rect x="312.07" fill="#f6cece"/><rect x="314.05" fill="#f8d5d5"/><rect x="316.02" fill="#f2bbbc"/><rect x="318.00" fill="#f6cccc"/><rect x="319.98" fill="#f6caca"/><rect x="321.95" fill="#f6cccc"/><rect x="323.93" fill="#f7d3d3"/><rect x="325.90" fill="#f6cccc"/><rect x="327.88" fill="#f0b2b4"/><rect x="329.85" fill="#f6cece"/><rect x="331.82" fill="#f8d7d7"/><rect x="333.80" fill="#eb979b"/><rect x="335.77" fill="#f9dfdf"/><rect x="337.75" fill="#f1b6b8"/><rect x="339.73" fill="#f7d1d1"/><rect x="341.70" fill="#f3bfc0"/><rect x="343.68" fill="#f8d7d7"/><rect x="345.65" fill="#f7d0d0"/><rect x="347.62" fill="#f4c1c1"/><rect x="349.60" fill="#f1b4b6"/><rect x="351.57" fill="#f5c8c8"/><rect x="353.55" fill="#f1b3b5"/><rect x="355.52" fill="#f4c1c1"/></g>
<g transform="translate(0 67.86)"><rect x="278.50" fill="#ebebf5"/><rect x="280.48" fill="#f1f1f8"/><rect x="282.45" fill="#e7e7f3"/><rect x="284.43" fill="#d5d7ec"/><rect x="286.40" fill="#efeff7"/><rect x="288.38" fill="#eeeef6"/><rect x="290.35" fill="#efeff6"/><rect x="292.32" fill="#e5e6f2"/><rect x="294.30" fill="#f1f1f8"/><rect x="296.27" fill="#dbdcee"/><rect x="298.25" fill="#f2f2f8"/><rect x="300.23" fill="#d2d3ea"/><rect x="302.20" fill="#e4e4f2"/><rect x="304.18" fill="#efeff6"/><rect x="306.15" fill="#f2f2f8"/><rect x="308.12" fill="#eeeef6"/><rect x="310.10" fill="#eeeef6"/><rect x="312.07" fill="#e1e2f0"/><rect x="314.05" fill="#f2f2f8"/><rect x="316.02" fill="#d8d9ed"/><rect x="318.00" fill="#efeff6"/><rect x="319.98" fill="#f1f1f7"/><rect x="321.95" fill="#f0f0f7"/><rect x="323.93" fill="#f0f0f7"/><rect x="325.90" fill="#f0f0f7"/><rect x="327.88" fill="#eeeef6"/><rect x="329.85" fill="#eaeaf4"/><rect x="331.82" fill="#ececf5"/><rect x="333.80" fill="#e6e6f3"/><rect x="335.77" fill="#eeeef6"/><rect x="337.75" fill="#d4d6eb"/><rect x="339.73" fill="#e3e3f1"/><rect x="341.70" fill="#f1f1f7"/><rect x="343.68" fill="#e7e7f3"/><rect x="345.65" fill="#cccee8"/><rect x="347.62" fill="#e2e3f1"/><rect x="349.60" fill="#efeff7"/><rect x="351.57" fill="#eeeef6"/><rect x="353.55" fill="#e2e3f1"/><rect x="355.52" fill="#e9e9f4"/></g>
<g transform="translate(0 74.09)"><rect x="278.50" fill="#f9e8e8"/><rect x="280.48" fill="#faeded"/><rect x="282.45" fill="#f9eaea"/><rect x="284.43" fill="#f7dfdf"/><rect x="286.40" fill="#f7dfdf"/><rect x="288.38" fill="#f8e2e2"/><rect x="290.35" fill="#f3c9cb"/><rect x="292.32" fill="#f4d0d1"/><rect x="294.30" fill="#f9e9e9"/><rect x="296.27" fill="#faebeb"/><rect x="298.25" fill="#f8e4e4"/><rect x="300.23" fill="#f9e8e8"/><rect x="302.20" fill="#faebeb"/><rect x="304.18" fill="#f2c3c5"/><rect x="306.15" fill="#faeaea"/><rect x="308.12" fill="#f9eaea"/><rect x="310.10" fill="#f9e9e9"/><rect x="312.07" fill="#fbeeee"/><rect x="314.05" fill="#f9e9e9"/><rect x="316.02" fill="#f5d4d5"/><rect x="318.00" fill="#f8e1e2"/><rect x="319.98" fill="#faebeb"/><rect x="321.95" fill="#f7dedf"/><rect x="323.93" fill="#f6d7d8"/><rect x="325.90" fill="#f9e9e9"/><rect x="327.88" fill="#faecec"/><rect x="329.85" fill="#f6dadb"/><rect x="331.82" fill="#f7e0e1"/><rect x="333.80" fill="#f6d8d9"/><rect x="335.77" fill="#faecec"/><rect x="337.75" fill="#f3cbcc"/><rect x="339.73" fill="#f9eaea"/><rect x="341.70" fill="#faeded"/><rect x="343.68" fill="#f8e1e2"/><rect x="345.65" fill="#f9e9e9"/><rect x="347.62" fill="#f9eaea"/><rect x="349.60" fill="#faebeb"/><rect x="351.57" fill="#f8e4e4"/><rect x="353.55" fill="#f9eaea"/><rect x="355.52" fill="#f5d5d6"/></g>
<g transform="translate(0 80.32)"><rect x="278.50" fill="#f4c8c8"/><rect x="280.48" fill="#f7d6d6"/><rect x="282.45" fill="#f0b6b7"/><rect x="284.43" fill="#f7d4d4"/><rect x="286.40" fill="#f4c7c7"/><rect x="288.38" fill="#f5cece"/><rect x="290.35" fill="#f3c1c1"/><rect x="292.32" fill="#f1b8b9"/><rect x="294.30" fill="#f6d2d2"/><rect x="296.27" fill="#f3c3c4"/><rect x="298.25" fill="#f7d6d6"/><rect x="300.23" fill="#f2bcbd"/><rect x="302.20" fill="#f1babb"/><rect x="304.18" fill="#f5cccc"/><rect x="306.15" fill="#f6cfcf"/><rect x="308.12" fill="#f5cccc"/><rect x="310.10" fill="#f3c3c4"/><rect x="312.07" fill="#f6cfcf"/><rect x="314.05" fill="#f6d0d0"/><rect x="316.02" fill="#f7d4d4"/><rect x="318.00" fill="#f7d5d5"/><rect x="319.98" fill="#f5cece"/><rect x="321.95" fill="#f2bfc0"/><rect x="323.93" fill="#f4c8c8"/><rect x="325.90" fill="#f7d4d4"/><rect x="327.88" fill="#f6d3d3"/><rect x="329.85" fill="#f7d5d5"/><rect x="331.82" fill="#f2bcbd"/><rect x="333.80" fill="#f3c3c3"/><rect x="335.77" fill="#f5cece"/><rect x="337.75" fill="#f1bbbc"/><rect x="339.73" fill="#f6cfcf"/><rect x="341.70" fill="#f8dcdc"/><rect x="343.68" fill="#f6d1d1"/><rect x="345.65" fill="#f6d2d2"/><rect x="347.62" fill="#f1b9ba"/><rect x="349.60" fill="#f1bbbc"/><rect x="351.57" fill="#f4c9c9"/><rect x="353.55" fill="#f6d1d1"/><rect x="355.52" fill="#f0b4b6"/></g>
<g transform="translate(0 86.55)"><rect x="278.50" fill="#f9e8e8"/><rect x="280.48" fill="#faefef"/><rect x="282.45" fill="#f7dfdf"/><rect x="284.43" fill="#f5d5d6"/><rect x="286.40" fill="#f7e1e1"/><rect x="288.38" fill="#f7e1e1"/><rect x="290.35" fill="#f9eaea"/><rect x="292.32" fill="#f5d8d8"/><rect x="294.30" fill="#f9ebeb"/><rect x="296.27" fill="#f5d6d7"/><rect x="298.25" fill="#f9eaea"/><rect x="300.23" fill="#f9ebeb"/><rect x="302.20" fill="#f2c5c7"/><rect x="304.18" fill="#f9ebeb"/><rect x="306.15" fill="#f6dbdb"/><rect x="308.12" fill="#faeded"/><rect x="310.10" fill="#f6dddd"/><rect x="312.07" fill="#f9ebeb"/><rect x="314.05" fill="#f8e7e7"/><rect x="316.02" fill="#f8e7e7"/><rect x="318.00" fill="#f8e4e4"/><rect x="319.98" fill="#f8e8e8"/><rect x="321.95" fill="#f7e0e0"/><rect x="323.93" fill="#f6dcdd"/><rect x="325.90" fill="#f8e7e7"/><rect x="327.88" fill="#f9eaea"/><rect x="329.85" fill="#f9e8e8"/><rect x="331.82" fill="#f6dede"/><rect x="333.80" fill="#f8e7e7"/><rect x="335.77" fill="#f8e8e8"/><rect x="337.75" fill="#f4d3d4"/><rect x="339.73" fill="#f3cbcd"/><rect x="341.70" fill="#faebeb"/><rect x="343.68" fill="#f8e7e7"/><rect x="345.65" fill="#f9eaea"/><rect x="347.62" fill="#f9e8e8"/><rect x="349.60" fill="#f7e0e0"/><rect x="351.57" fill="#f8e6e6"/><rect x="353.55" fill="#f2c9ca"/><rect x="355.52" fill="#f7dfe0"/></g>
<g transform="translate(0 92.77)"><rect x="278.50" fill="#f1b2b3"/><rect x="280.48" fill="#f4c3c3"/><rect x="282.45" fill="#f0adaf"/><rect x="284.43" fill="#efabad"/><rect x="286.40" fill="#f4bebe"/><rect x="288.38" fill="#f6caca"/><rect x="290.35" fill="#f2b7b8"/><rect x="292.32" fill="#f5c6c6"/><rect x="294.30" fill="#f5c7c7"/><rect x="296.27" fill="#f0adae"/><rect x="298.25" fill="#f6cdcd"/><rect x="300.23" fill="#f2b6b6"/><rect x="302.20" fill="#f2b7b8"/><rect x="304.18" fill="#f6cbcb"/><rect x="306.15" fill="#f3bcbc"/><rect x="308.12" fill="#f6caca"/><rect x="310.10" fill="#f2b7b7"/><rect x="312.07" fill="#f2b5b6"/><rect x="314.05" fill="#f3bcbc"/><rect x="316.02" fill="#f4bebe"/><rect x="318.00" fill="#f5c6c6"/><rect x="319.98" fill="#f5c7c7"/><rect x="321.95" fill="#f5c5c5"/><rect x="323.93" fill="#f5c8c8"/><rect x="325.90" fill="#f5c3c3"/><rect x="327.88" fill="#f1b3b4"/><rect x="329.85" fill="#f1b1b2"/><rect x="331.82" fill="#f5c8c8"/><rect x="333.80" fill="#f6c9c9"/><rect x="335.77" fill="#f6cbcb"/><rect x="337.75" fill="#efaaab"/><rect x="339.73" fill="#f1b1b2"/><rect x="341.70" fill="#f7d4d4"/><rect x="343.68" fill="#f3bcbc"/><rect x="345.65" fill="#f7cfcf"/><rect x="347.62" fill="#eea6a8"/><rect x="349.60" fill="#f3baba"/><rect x="351.57" fill="#ed9ea1"/><rect x="353.55" fill="#f2b7b8"/><rect x="355.52" fill="#f3baba"/></g>
<g transform="translate(0 99.00)"><rect x="278.50" fill="#eea3a5"/><rect x="280.48" fill="#f5c5c5"/><rect x="282.45" fill="#f2b6b7"/><rect x="284.43" fill="#f3babb"/><rect x="286.40" fill="#f0adae"/><rect x="288.38" fill="#f2b7b7"/><rect x="290.35" fill="#f2b7b8"/><rect x="292.32" fill="#f2b8b8"/><rect x="294.30" fill="#f6cdcd"/><rect x="296.27" fill="#f7d1d1"/><rect x="298.25" fill="#f2b6b7"/><rect x="300.23" fill="#f1b2b3"/><rect x="302.20" fill="#f1b1b2"/><rect x="304.18" fill="#efabac"/><rect x="306.15" fill="#f3bbbc"/><rect x="308.12" fill="#f5c5c5"/><rect x="310.10" fill="#f4bebe"/><rect x="312.07" fill="#f0adaf"/><rect x="314.05" fill="#f5c5c5"/><rect x="316.02" fill="#f1b2b3"/><rect x="318.00" fill="#f5c3c3"/><rect x="319.98" fill="#f5c3c3"/><rect x="321.95" fill="#f2b5b6"/><rect x="323.93" fill="#f7d1d1"/><rect x="325.90" fill="#f6cccc"/><rect x="327.88" fill="#f3bbbb"/><rect x="329.85" fill="#f4c0c0"/><rect x="331.82" fill="#f4bfbf"/><rect x="333.80" fill="#f2b5b6"/><rect x="335.77" fill="#f5c3c3"/><rect x="337.75" fill="#f2b8b9"/><rect x="339.73" fill="#efa9ab"/><rect x="341.70" fill="#f6cdcd"/><rect x="343.68" fill="#f7d2d2"/><rect x="345.65" fill="#f6cccc"/><rect x="347.62" fill="#f2b5b6"/><rect x="349.60" fill="#f6cbcb"/><rect x="351.57" fill="#f4c3c3"/><rect x="353.55" fill="#f1b1b2"/><rect x="355.52" fill="#eea6a8"/></g>
<g transform="translate(0 105.23)"><rect x="278.50" fill="#f8d5d5"/><rect x="280.48" fill="#f7cfcf"/><rect x="282.45" fill="#f6cece"/><rect x="284.43" fill="#f6cece"/><rect x="286.40" fill="#f6cccc"/><rect x="288.38" fill="#f6cdcd"/><rect x="290.35" fill="#f0b1b3"/><rect x="292.32" fill="#f6caca"/><rect x="294.30" fill="#f7d3d3"/><rect x="296.27" fill="#f6cfcf"/><rect x="298.25" fill="#f6cece"/><rect x="300.23" fill="#f7d0d0"/><rect x="302.20" fill="#f6cdcd"/><rect x="304.18" fill="#efacaf"/><rect x="306.15" fill="#f4c1c1"/><rect x="308.12" fill="#f6caca"/><rect x="310.10" fill="#f6cfcf"/><rect x="312.07" fill="#f6cdcd"/><rect x="314.05" fill="#f7d2d2"/><rect x="316.02" fill="#f3c0c1"/><rect x="318.00" fill="#f7d4d4"/><rect x="319.98" fill="#f7d4d4"/><rect x="321.95" fill="#f7d4d4"/><rect x="323.93" fill="#f1b4b6"/><rect x="325.90" fill="#f4c4c5"/><rect x="327.88" fill="#f5caca"/><rect x="329.85" fill="#f5c7c7"/><rect x="331.82" fill="#f6cece"/><rect x="333.80" fill="#f7d0d0"/><rect x="335.77" fill="#f4c2c2"/><rect x="337.75" fill="#f4c3c4"/><rect x="339.73" fill="#f6cfcf"/><rect x="341.70" fill="#f7d1d1"/><rect x="343.68" fill="#f9dbdb"/><rect x="345.65" fill="#f7d2d2"/><rect x="347.62" fill="#efadaf"/><rect x="349.60" fill="#f7d1d1"/><rect x="351.57" fill="#f5c7c7"/><rect x="353.55" fill="#f4c2c3"/><rect x="355.52" fill="#f3bfc0"/></g>
<g transform="translate(0 111.45)"><rect x="278.50" fill="#e2e3f3"/><rect x="280.48" fill="#efeff8"/><rect x="282.45" fill="#d6d7ed"/><rect x="284.43" fill="#eeeef8"/><rect x="286.40" fill="#f0f0f9"/><rect x="288.38" fill="#f0f0f9"/><rect x="290.35" fill="#e2e3f3"/><rect x="292.32" fill="#dddef1"/><rect x="294.30" fill="#eeeef8"/><rect x="296.27" fill="#efeff8"/><rect x="298.25" fill="#f1f1f9"/><rect x="300.23" fill="#f0f0f9"/><rect x="302.20" fill="#ececf7"/><rect x="304.18" fill="#f2f2fa"/><rect x="306.15" fill="#d9daef"/><rect x="308.12" fill="#efeff8"/><rect x="310.10" fill="#efeff8"/><rect x="312.07" fill="#ebebf7"/><rect x="314.05" fill="#ebebf7"/><rect x="316.02" fill="#c8cbe8"/><rect x="318.00" fill="#eeeef8"/><rect x="319.98" fill="#f0f0f9"/><rect x="321.95" fill="#dedff1"/><rect x="323.93" fill="#eeeef8"/><rect x="325.90" fill="#efeff9"/><rect x="327.88" fill="#e4e4f4"/><rect x="329.85" fill="#f1f1f9"/><rect x="331.82" fill="#f1f1f9"/><rect x="333.80" fill="#d6d8ee"/><rect x="335.77" fill="#f0f0f9"/><rect x="337.75" fill="#dedff1"/><rect x="339.73" fill="#dfe0f2"/><rect x="341.70" fill="#eeeef8"/><rect x="343.68" fill="#efeff9"/><rect x="345.65" fill="#f0f0f9"/><rect x="347.62" fill="#dbdcf0"/><rect x="349.60" fill="#f1f1f9"/><rect x="351.57" fill="#dbdcf0"/><rect x="353.55" fill="#d6d7ee"/><rect x="355.52" fill="#d8d9ee"/></g>
<g transform="translate(0 117.68)"><rect x="278.50" fill="#d6d7ed"/><rect x="280.48" fill="#f0f0f8"/><rect x="282.45" fill="#e0dff1"/><rect x="284.43" fill="#e9e8f5"/><rect x="286.40" fill="#dfdff0"/><rect x="288.38" fill="#eeeef7"/><rect x="290.35" fill="#dadaee"/><rect x="292.32" fill="#dadaee"/><rect x="294.30" fill="#edecf6"/><rect x="296.27" fill="#ecebf6"/><rect x="298.25" fill="#f2f2f9"/><rect x="300.23" fill="#ecebf6"/><rect x="302.20" fill="#dfdef0"/><rect x="304.18" fill="#eeedf7"/><rect x="306.15" fill="#eeedf7"/><rect x="308.12" fill="#ecebf6"/><rect x="310.10" fill="#dbdbef"/><rect x="312.07" fill="#dcdcef"/><rect x="314.05" fill="#d8d8ed"/><rect x="316.02" fill="#e8e7f4"/><rect x="318.00" fill="#e2e2f2"/><rect x="319.98" fill="#ebeaf6"/><rect x="321.95" fill="#dfdff1"/><rect x="323.93" fill="#e5e5f3"/><rect x="325.90" fill="#f1f0f8"/><rect x="327.88" fill="#e1e1f1"/><rect x="329.85" fill="#bfc1e3"/><rect x="331.82" fill="#edecf6"/><rect x="333.80" fill="#d7d8ed"/><rect x="335.77" fill="#ecebf6"/><rect x="337.75" fill="#e3e3f2"/><rect x="339.73" fill="#e9e8f5"/><rect x="341.70" fill="#e8e7f4"/><rect x="343.68" fill="#efeff8"/><rect x="345.65" fill="#edecf6"/><rect x="347.62" fill="#e0e0f1"/><rect x="349.60" fill="#d8d8ed"/><rect x="351.57" fill="#dfdff1"/><rect x="353.55" fill="#ecebf6"/><rect x="355.52" fill="#ebeaf5"/></g>
<g transform="translate(0 123.91)"><rect x="278.50" fill="#d0d1ea"/><rect x="280.48" fill="#ededf6"/><rect x="282.45" fill="#d5d6ec"/><rect x="284.43" fill="#d5d6ec"/><rect x="286.40" fill="#e7e7f3"/><rect x="288.38" fill="#e6e6f3"/><rect x="290.35" fill="#c7c9e6"/><rect x="292.32" fill="#ddddef"/><rect x="294.30" fill="#e9e9f5"/><rect x="296.27" fill="#e4e4f2"/><rect x="298.25" fill="#ececf6"/><rect x="300.23" fill="#e0e0f0"/><rect x="302.20" fill="#dfe0f0"/><rect x="304.18" fill="#d3d4eb"/><rect x="306.15" fill="#e6e6f3"/><rect x="308.12" fill="#e0e0f0"/><rect x="310.10" fill="#c4c6e4"/><rect x="312.07" fill="#d1d2ea"/><rect x="314.05" fill="#d8d9ed"/><rect x="316.02" fill="#dbdcee"/><rect x="318.00" fill="#eaeaf5"/><rect x="319.98" fill="#e7e7f3"/><rect x="321.95" fill="#e4e4f2"/><rect x="323.93" fill="#e3e3f1"/><rect x="325.90" fill="#e8e8f4"/><rect x="327.88" fill="#dfe0f0"/><rect x="329.85" fill="#e7e7f3"/><rect x="331.82" fill="#eaeaf5"/><rect x="333.80" fill="#c5c7e5"/><rect x="335.77" fill="#f0f0f8"/><rect x="337.75" fill="#d8d9ed"/><rect x="339.73" fill="#e7e7f4"/><rect x="341.70" fill="#e5e5f2"/><rect x="343.68" fill="#d8d9ed"/><rect x="345.65" fill="#e1e1f1"/><rect x="347.62" fill="#dfdff0"/><rect x="349.60" fill="#e2e3f1"/><rect x="351.57" fill="#c4c6e4"/><rect x="353.55" fill="#c9cae6"/><rect x="355.52" fill="#e6e6f3"/></g>
<g transform="translate(0 130.14)"><rect x="278.50" fill="#d2d3ea"/><rect x="280.48" fill="#efeff7"/><rect x="282.45" fill="#e5e5f3"/><rect x="284.43" fill="#e6e6f3"/><rect x="286.40" fill="#e3e3f2"/><rect x="288.38" fill="#e6e6f3"/><rect x="290.35" fill="#e4e4f2"/><rect x="292.32" fill="#e7e7f3"/><rect x="294.30" fill="#eaeaf5"/><rect x="296.27" fill="#d5d6ec"/><rect x="298.25" fill="#e7e7f4"/><rect x="300.23" fill="#eaeaf5"/><rect x="302.20" fill="#dbdcee"/><rect x="304.18" fill="#dadbee"/><rect x="306.15" fill="#dcdcef"/><rect x="308.12" fill="#e3e3f2"/><rect x="310.10" fill="#e9e9f4"/><rect x="312.07" fill="#d7d8ed"/><rect x="314.05" fill="#d8d9ed"/><rect x="316.02" fill="#e9e9f4"/><rect x="318.00" fill="#e8e8f4"/><rect x="319.98" fill="#ebebf5"/><rect x="321.95" fill="#d4d6ec"/><rect x="323.93" fill="#dbdbee"/><rect x="325.90" fill="#e6e6f3"/><rect x="327.88" fill="#dadbee"/><rect x="329.85" fill="#e5e5f2"/><rect x="331.82" fill="#ebebf6"/><rect x="333.80" fill="#d0d2ea"/><rect x="335.77" fill="#eaeaf5"/><rect x="337.75" fill="#d6d7ec"/><rect x="339.73" fill="#cbcce7"/><rect x="341.70" fill="#dddeef"/><rect x="343.68" fill="#e2e3f2"/><rect x="345.65" fill="#eaeaf5"/><rect x="347.62" fill="#c0c2e3"/><rect x="349.60" fill="#e9e9f5"/><rect x="351.57" fill="#e6e6f3"/><rect x="353.55" fill="#e7e7f3"/><rect x="355.52" fill="#d1d3ea"/></g>
<g transform="translate(0 136.36)"><rect x="278.50" fill="#dcdcf0"/><rect x="280.48" fill="#e2e2f3"/><rect x="282.45" fill="#d7d7ee"/><rect x="284.43" fill="#ddddf1"/><rect x="286.40" fill="#dbdbef"/><rect x="288.38" fill="#d7d7ed"/><rect x="290.35" fill="#c5c7e6"/><rect x="292.32" fill="#c6c7e6"/><rect x="294.30" fill="#e0e0f1"/><rect x="296.27" fill="#d2d2eb"/><rect x="298.25" fill="#d8d9ee"/><rect x="300.23" fill="#cfd0ea"/><rect x="302.20" fill="#d7d7ee"/><rect x="304.18" fill="#dcdcf0"/><rect x="306.15" fill="#d8d8ee"/><rect x="308.12" fill="#bbbde2"/><rect x="310.10" fill="#dedef1"/><rect x="312.07" fill="#dcdcf0"/><rect x="314.05" fill="#ddddf0"/><rect x="316.02" fill="#ceceea"/><rect x="318.00" fill="#dbdbf0"/><rect x="319.98" fill="#dcdcf0"/><rect x="321.95" fill="#dfdff1"/><rect x="323.93" fill="#dedef1"/><rect x="325.90" fill="#e0e0f2"/><rect x="327.88" fill="#d1d1eb"/><rect x="329.85" fill="#ddddf0"/><rect x="331.82" fill="#dedef1"/><rect x="333.80" fill="#b6b8df"/><rect x="335.77" fill="#e3e3f3"/><rect x="337.75" fill="#d2d3ec"/><rect x="339.73" fill="#dadaef"/><rect x="341.70" fill="#e1e1f2"/><rect x="343.68" fill="#d4d4ec"/><rect x="345.65" fill="#dbdbef"/><rect x="347.62" fill="#c9cae7"/><rect x="349.60" fill="#ddddf0"/><rect x="351.57" fill="#d2d2eb"/><rect x="353.55" fill="#cccde9"/><rect x="355.52" fill="#bfc1e4"/></g>
<g transform="translate(0 142.59)"><rect x="278.50" fill="#dfdbec"/><rect x="280.48" fill="#f6f1f6"/><rect x="282.45" fill="#ece7f1"/><rect x="284.43" fill="#e0dcec"/><rect x="286.40" fill="#efeaf2"/><rect x="288.38" fill="#ede8f1"/><rect x="290.35" fill="#eee8f1"/><rect x="292.32" fill="#efe9f2"/><rect x="294.30" fill="#f1ebf3"/><rect x="296.27" fill="#ece7f1"/><rect x="298.25" fill="#f6f2f6"/><rect x="300.23" fill="#f4eff4"/><rect x="302.20" fill="#dad7ea"/><rect x="304.18" fill="#f5eff5"/><rect x="306.15" fill="#d7d3e8"/><rect x="308.12" fill="#e5e0ee"/><rect x="310.10" fill="#e4dfee"/><rect x="312.07" fill="#f4eef4"/><rect x="314.05" fill="#eee8f2"/><rect x="316.02" fill="#f5f0f5"/><rect x="318.00" fill="#f0eaf2"/><rect x="319.98" fill="#f5f0f5"/><rect x="321.95" fill="#f2ecf3"/><rect x="323.93" fill="#efeaf2"/><rect x="325.90" fill="#f5f0f5"/><rect x="327.88" fill="#e9e4f0"/><rect x="329.85" fill="#dbd8ea"/><rect x="331.82" fill="#f6f1f6"/><rect x="333.80" fill="#f5eff5"/><rect x="335.77" fill="#f3edf4"/><rect x="337.75" fill="#d7d3e8"/><rect x="339.73" fill="#f2ecf3"/><rect x="341.70" fill="#f7f3f7"/><rect x="343.68" fill="#f5f0f5"/><rect x="345.65" fill="#f7f3f7"/><rect x="347.62" fill="#f4eef4"/><rect x="349.60" fill="#f0eaf2"/><rect x="351.57" fill="#f5f0f5"/><rect x="353.55" fill="#f4eef4"/><rect x="355.52" fill="#f5f0f5"/></g>
<g transform="translate(0 148.82)"><rect x="278.50" fill="#cacae9"/><rect x="280.48" fill="#d6d6ee"/><rect x="282.45" fill="#cbcbea"/><rect x="284.43" fill="#c2c3e5"/><rect x="286.40" fill="#d0d0eb"/><rect x="288.38" fill="#babbe2"/><rect x="290.35" fill="#c9c9e9"/><rect x="292.32" fill="#d0d0eb"/><rect x="294.30" fill="#cdcdea"/><rect x="296.27" fill="#cdcdea"/><rect x="298.25" fill="#d2d2ec"/><rect x="300.23" fill="#c9c9e8"/><rect x="302.20" fill="#ceceeb"/><rect x="304.18" fill="#bbbce2"/><rect x="306.15" fill="#d3d3ed"/><rect x="308.12" fill="#cbcbe9"/><rect x="310.10" fill="#bbbce3"/><rect x="312.07" fill="#d1d1ec"/><rect x="314.05" fill="#babce2"/><rect x="316.02" fill="#bfbfe4"/><rect x="318.00" fill="#c5c5e7"/><rect x="319.98" fill="#ccccea"/><rect x="321.95" fill="#bcbde3"/><rect x="323.93" fill="#cdcdea"/><rect x="325.90" fill="#d1d1ec"/><rect x="327.88" fill="#ceceeb"/><rect x="329.85" fill="#c7c7e8"/><rect x="331.82" fill="#d8d8ef"/><rect x="333.80" fill="#bebfe4"/><rect x="335.77" fill="#d8d8ef"/><rect x="337.75" fill="#a3a6d8"/><rect x="339.73" fill="#a8abda"/><rect x="341.70" fill="#ceceeb"/><rect x="343.68" fill="#cbcbe9"/><rect x="345.65" fill="#d0d0eb"/><rect x="347.62" fill="#c8c8e8"/><rect x="349.60" fill="#cacae9"/><rect x="351.57" fill="#d1d1ec"/><rect x="353.55" fill="#aeb0dd"/><rect x="355.52" fill="#c4c4e6"/></g>
<g transform="translate(0 155.05)"><rect x="278.50" fill="#f6edf1"/><rect x="280.48" fill="#f7f2f6"/><rect x="282.45" fill="#f5ecf1"/><rect x="284.43" fill="#f3dde1"/><rect x="286.40" fill="#f7f2f6"/><rect x="288.38" fill="#f4e3e7"/><rect x="290.35" fill="#f1d4d9"/><rect x="292.32" fill="#eec0c5"/><rect x="294.30" fill="#f3e0e5"/><rect x="296.27" fill="#f6f1f5"/><rect x="298.25" fill="#f7f2f5"/><rect x="300.23" fill="#f4e4e8"/><rect x="302.20" fill="#f3dee2"/><rect x="304.18" fill="#f6f0f4"/><rect x="306.15" fill="#f6f0f4"/><rect x="308.12" fill="#f7f1f5"/><rect x="310.10" fill="#f7f1f5"/><rect x="312.07" fill="#f2d8dd"/><rect x="314.05" fill="#f8f3f7"/><rect x="316.02" fill="#f2dadf"/><rect x="318.00" fill="#f2d8dd"/><rect x="319.98" fill="#f8f3f6"/><rect x="321.95" fill="#f8f4f7"/><rect x="323.93" fill="#f1d4d9"/><rect x="325.90" fill="#f4e6ea"/><rect x="327.88" fill="#f4e6ea"/><rect x="329.85" fill="#f7f1f5"/><rect x="331.82" fill="#f6edf1"/><rect x="333.80" fill="#f5ebef"/><rect x="335.77" fill="#f7f2f5"/><rect x="337.75" fill="#eec3c8"/><rect x="339.73" fill="#f7f1f5"/><rect x="341.70" fill="#f6f0f4"/><rect x="343.68" fill="#f7f2f5"/><rect x="345.65" fill="#f7f2f5"/><rect x="347.62" fill="#f5e8ed"/><rect x="349.60" fill="#f6edf1"/><rect x="351.57" fill="#f1d4d9"/><rect x="353.55" fill="#f6f0f4"/><rect x="355.52" fill="#f5ebef"/></g>
<g transform="translate(0 161.27)"><rect x="278.50" fill="#cccde9"/><rect x="280.48" fill="#e0e0f2"/><rect x="282.45" fill="#dedef1"/><rect x="284.43" fill="#dedef1"/><rect x="286.40" fill="#ddddf0"/><rect x="288.38" fill="#d2d2ec"/><rect x="290.35" fill="#c7c8e7"/><rect x="292.32" fill="#e0e0f2"/><rect x="294.30" fill="#e9e9f6"/><rect x="296.27" fill="#e1e1f2"/><rect x="298.25" fill="#d8d8ee"/><rect x="300.23" fill="#c8c9e7"/><rect x="302.20" fill="#dadaef"/><rect x="304.18" fill="#d9d9ef"/><rect x="306.15" fill="#e1e1f2"/><rect x="308.12" fill="#e1e1f2"/><rect x="310.10" fill="#cccde9"/><rect x="312.07" fill="#d0d1eb"/><rect x="314.05" fill="#e0e0f2"/><rect x="316.02" fill="#d1d2eb"/><rect x="318.00" fill="#d1d2eb"/><rect x="319.98" fill="#e1e1f2"/><rect x="321.95" fill="#d6d6ed"/><rect x="323.93" fill="#dedef1"/><rect x="325.90" fill="#d6d7ee"/><rect x="327.88" fill="#dcdcf0"/><rect x="329.85" fill="#d8d9ef"/><rect x="331.82" fill="#dfdff2"/><rect x="333.80" fill="#d4d5ed"/><rect x="335.77" fill="#e3e3f3"/><rect x="337.75" fill="#c6c8e7"/><rect x="339.73" fill="#c7c9e7"/><rect x="341.70" fill="#e0e0f2"/><rect x="343.68" fill="#e2e2f3"/><rect x="345.65" fill="#e4e4f4"/><rect x="347.62" fill="#e0e0f2"/><rect x="349.60" fill="#d4d4ec"/><rect x="351.57" fill="#d3d4ec"/><rect x="353.55" fill="#dbdbf0"/><rect x="355.52" fill="#d3d3ec"/></g>
<g transform="translate(0 30.50)"><rect x="357.50" fill="#dbdbee"/><rect x="359.49" fill="#ddddef"/><rect x="361.48" fill="#d3d3eb"/><rect x="363.48" fill="#d9d9ed"/><rect x="365.47" fill="#d6d6ec"/><rect x="367.46" fill="#dadaee"/><rect x="369.45" fill="#d5d5eb"/><rect x="371.45" fill="#e3e3f2"/><rect x="373.44" fill="#c4c4e2"/><rect x="375.43" fill="#c5c5e3"/><rect x="377.42" fill="#d8d8ed"/><rect x="379.42" fill="#e6e6f3"/><rect x="381.41" fill="#d1d1e9"/><rect x="383.40" fill="#babadd"/><rect x="385.39" fill="#d3d3ea"/><rect x="387.38" fill="#d4d4eb"/><rect x="389.38" fill="#c9c9e5"/><rect x="391.37" fill="#c1c1e1"/><rect x="393.36" fill="#d7d7ec"/><rect x="395.35" fill="#cfcfe8"/><rect x="397.35" fill="#d7d7ec"/><rect x="399.34" fill="#c3c3e2"/><rect x="401.33" fill="#e0e0f0"/><rect x="403.32" fill="#d9d9ed"/><rect x="405.32" fill="#ddddef"/><rect x="407.31" fill="#d5d5eb"/><rect x="409.30" fill="#dedef0"/><rect x="411.29" fill="#e7e7f4"/><rect x="413.28" fill="#c4c4e2"/><rect x="415.28" fill="#b7b7dc"/><rect x="417.27" fill="#bdbddf"/><rect x="419.26" fill="#d9d9ed"/><rect x="421.25" fill="#b7b7dc"/><rect x="423.25" fill="#d5d5eb"/><rect x="425.24" fill="#dfdff0"/><rect x="427.23" fill="#d3d3ea"/><rect x="429.22" fill="#d9d9ed"/><rect x="431.22" fill="#ebebf6"/><rect x="433.21" fill="#dbdbee"/><rect x="435.20" fill="#cccce7"/><rect x="437.19" fill="#e0e0f1"/><rect x="439.18" fill="#bcbcde"/><rect x="441.18" fill="#b5b5da"/><rect x="443.17" fill="#b9b9dd"/><rect x="445.16" fill="#d7d7ec"/><rect x="447.15" fill="#d7d7ec"/><rect x="449.15" fill="#bbbbde"/><rect x="451.14" fill="#d2d2ea"/><rect x="453.13" fill="#d9d9ed"/><rect x="455.12" fill="#d2d2ea"/><rect x="457.12" fill="#c5c5e3"/><rect x="459.11" fill="#babadd"/><rect x="461.10" fill="#d9d9ed"/><rect x="463.09" fill="#dadaee"/><rect x="465.08" fill="#dadaee"/><rect x="467.08" fill="#cacae6"/><rect x="469.07" fill="#d2d2ea"/><rect x="471.06" fill="#c5c5e3"/><rect x="473.05" fill="#ddddef"/><rect x="475.05" fill="#d3d3ea"/><rect x="477.04" fill="#bcbcde"/><rect x="479.03" fill="#bebedf"/><rect x="481.02" fill="#d9d9ed"/><rect x="483.02" fill="#e5e5f3"/><rect x="485.01" fill="#ddddef"/></g>
<g transform="translate(0 36.73)"><rect x="357.50" fill="#d0d0e9"/><rect x="359.49" fill="#b0b0d9"/><rect x="361.48" fill="#c6c6e5"/><rect x="363.48" fill="#ababd6"/><rect x="365.47" fill="#c3c3e4"/><rect x="367.46" fill="#bdbde0"/><rect x="369.45" fill="#c4c4e4"/><rect x="371.45" fill="#cecee9"/><rect x="373.44" fill="#b5b5dc"/><rect x="375.43" fill="#d1d1ea"/><rect x="377.42" fill="#b0b0da"/><rect x="379.42" fill="#d6d6ec"/><rect x="381.41" fill="#b9b9de"/><rect x="383.40" fill="#aeaed8"/><rect x="385.39" fill="#9e9ecf"/><rect x="387.38" fill="#b0b0d9"/><rect x="389.38" fill="#9f9fd0"/><rect x="391.37" fill="#c3c3e3"/><rect x="393.36" fill="#c5c5e4"/><rect x="395.35" fill="#a7a7d5"/><rect x="397.35" fill="#a9a9d5"/><rect x="399.34" fill="#bbbbdf"/><rect x="401.33" fill="#cfcfe9"/><rect x="403.32" fill="#dcdcef"/><rect x="405.32" fill="#9f9fd0"/><rect x="407.31" fill="#c0c0e2"/><rect x="409.30" fill="#cecee9"/><rect x="411.29" fill="#b2b2da"/><rect x="413.28" fill="#bdbde0"/><rect x="415.28" fill="#c3c3e3"/><rect x="417.27" fill="#b8b8de"/><rect x="419.26" fill="#d6d6ec"/><rect x="421.25" fill="#dcdcef"/><rect x="423.25" fill="#d0d0e9"/><rect x="425.24" fill="#afafd9"/><rect x="427.23" fill="#b3b3db"/><rect x="429.22" fill="#c6c6e5"/><rect x="431.22" fill="#b3b3db"/><rect x="433.21" fill="#d2d2ea"/><rect x="435.20" fill="#a9a9d5"/><rect x="437.19" fill="#b0b0d9"/><rect x="439.18" fill="#c2c2e3"/><rect x="441.18" fill="#ababd7"/><rect x="443.17" fill="#c6c6e5"/><rect x="445.16" fill="#c6c6e5"/><rect x="447.15" fill="#c5c5e4"/><rect x="449.15" fill="#c4c4e4"/><rect x="451.14" fill="#d3d3eb"/><rect x="453.13" fill="#a1a1d1"/><rect x="455.12" fill="#eeeef7"/><rect x="457.12" fill="#cccce7"/><rect x="459.11" fill="#c2c2e3"/><rect x="461.10" fill="#c2c2e3"/><rect x="463.09" fill="#c6c6e5"/><rect x="465.08" fill="#d6d6ec"/><rect x="467.08" fill="#a7a7d4"/><rect x="469.07" fill="#c1c1e2"/><rect x="471.06" fill="#9999cd"/><rect x="473.05" fill="#c6c6e5"/><rect x="475.05" fill="#b0b0d9"/><rect x="477.04" fill="#b0b0d9"/><rect x="479.03" fill="#acacd7"/><rect x="481.02" fill="#c4c4e4"/><rect x="483.02" fill="#d1d1ea"/><rect x="485.01" fill="#cecee8"/></g>
<g transform="translate(0 42.95)"><rect x="357.50" fill="#cfcfe9"/><rect x="359.49" fill="#ababd7"/><rect x="361.48" fill="#afafd9"/><rect x="363.48" fill="#bbbbdf"/><rect x="365.47" fill="#cdcde7"/><rect x="367.46" fill="#b6b6dd"/><rect x="369.45" fill="#cacae6"/><rect x="371.45" fill="#c1c1e2"/><rect x="373.44" fill="#babadf"/><rect x="375.43" fill="#b9b9de"/><rect x="377.42" fill="#c0c0e2"/><rect x="379.42" fill="#e1e1f1"/><rect x="381.41" fill="#a3a3d3"/><rect x="383.40" fill="#a2a2d2"/><rect x="385.39" fill="#d4d4eb"/><rect x="387.38" fill="#c0c0e1"/><rect x="389.38" fill="#9494ca"/><rect x="391.37" fill="#aeaed9"/><rect x="393.36" fill="#cbcbe7"/><rect x="395.35" fill="#acacd8"/><rect x="397.35" fill="#a7a7d5"/><rect x="399.34" fill="#c1c1e2"/><rect x="401.33" fill="#ababd7"/><rect x="403.32" fill="#c5c5e4"/><rect x="405.32" fill="#bbbbdf"/><rect x="407.31" fill="#bbbbdf"/><rect x="409.30" fill="#d1d1ea"/><rect x="411.29" fill="#c2c2e2"/><rect x="413.28" fill="#b3b3dc"/><rect x="415.28" fill="#b1b1da"/><rect x="417.27" fill="#bcbce0"/><rect x="419.26" fill="#d2d2ea"/><rect x="421.25" fill="#b2b2db"/><rect x="423.25" fill="#acacd8"/><rect x="425.24" fill="#cecee8"/><rect x="427.23" fill="#bbbbdf"/><rect x="429.22" fill="#cccce7"/><rect x="431.22" fill="#d7d7ec"/><rect x="433.21" fill="#c6c6e4"/><rect x="435.20" fill="#cfcfe9"/><rect x="437.19" fill="#c8c8e5"/><rect x="439.18" fill="#bcbce0"/><rect x="441.18" fill="#b7b7dd"/><rect x="443.17" fill="#a8a8d6"/><rect x="445.16" fill="#b3b3dc"/><rect x="447.15" fill="#cbcbe7"/><rect x="449.15" fill="#afafd9"/><rect x="451.14" fill="#bebee1"/><rect x="453.13" fill="#b2b2db"/><rect x="455.12" fill="#cdcde7"/><rect x="457.12" fill="#aeaed8"/><rect x="459.11" fill="#aeaed9"/><rect x="461.10" fill="#adadd8"/><rect x="463.09" fill="#a7a7d5"/><rect x="465.08" fill="#b4b4dc"/><rect x="467.08" fill="#9c9ccf"/><rect x="469.07" fill="#bebee1"/><rect x="471.06" fill="#9898cd"/><rect x="473.05" fill="#cacae6"/><rect x="475.05" fill="#aaaad6"/><rect x="477.04" fill="#8888c4"/><rect x="479.03" fill="#a4a4d3"/><rect x="481.02" fill="#b6b6dd"/><rect x="483.02" fill="#b5b5dc"/><rect x="485.01" fill="#c2c2e3"/></g>
<g transform="translate(0 49.18)"><rect x="357.50" fill="#cccce8"/><rect x="359.49" fill="#b1b1db"/><rect x="361.48" fill="#c4c4e5"/><rect x="363.48" fill="#aeaed9"/><rect x="365.47" fill="#dbdbef"/><rect x="367.46" fill="#bfbfe2"/><rect x="369.45" fill="#cbcbe8"/><rect x="371.45" fill="#bebee2"/><rect x="373.44" fill="#b4b4dd"/><rect x="375.43" fill="#c6c6e6"/><rect x="377.42" fill="#c0c0e3"/><rect x="379.42" fill="#e0e0f1"/><rect x="381.41" fill="#b2b2dc"/><rect x="383.40" fill="#c1c1e3"/><rect x="385.39" fill="#c9c9e7"/><rect x="387.38" fill="#c5c5e5"/><rect x="389.38" fill="#9595cb"/><rect x="391.37" fill="#b2b2db"/><rect x="393.36" fill="#c2c2e4"/><rect x="395.35" fill="#b8b8df"/><rect x="397.35" fill="#a1a1d2"/><rect x="399.34" fill="#b4b4dc"/><rect x="401.33" fill="#c0c0e3"/><rect x="403.32" fill="#dedef0"/><rect x="405.32" fill="#cecee9"/><rect x="407.31" fill="#a9a9d6"/><rect x="409.30" fill="#b6b6de"/><rect x="411.29" fill="#bfbfe2"/><rect x="413.28" fill="#cecee9"/><rect x="415.28" fill="#cbcbe8"/><rect x="417.27" fill="#b7b7de"/><rect x="419.26" fill="#aeaed9"/><rect x="421.25" fill="#cacae7"/><rect x="423.25" fill="#bfbfe2"/><rect x="425.24" fill="#dadaef"/><rect x="427.23" fill="#b7b7de"/><rect x="429.22" fill="#c6c6e5"/><rect x="431.22" fill="#c1c1e3"/><rect x="433.21" fill="#d0d0ea"/><rect x="435.20" fill="#bebee2"/><rect x="437.19" fill="#cccce8"/><rect x="439.18" fill="#c7c7e6"/><rect x="441.18" fill="#a9a9d6"/><rect x="443.17" fill="#a8a8d6"/><rect x="445.16" fill="#b1b1db"/><rect x="447.15" fill="#c3c3e4"/><rect x="449.15" fill="#c1c1e3"/><rect x="451.14" fill="#b2b2db"/><rect x="453.13" fill="#b1b1db"/><rect x="455.12" fill="#d8d8ed"/><rect x="457.12" fill="#b7b7de"/><rect x="459.11" fill="#c5c5e5"/><rect x="461.10" fill="#c2c2e4"/><rect x="463.09" fill="#d4d4ec"/><rect x="465.08" fill="#d6d6ed"/><rect x="467.08" fill="#bdbde1"/><rect x="469.07" fill="#acacd8"/><rect x="471.06" fill="#a5a5d4"/><rect x="473.05" fill="#bdbde2"/><rect x="475.05" fill="#d1d1eb"/><rect x="477.04" fill="#9f9fd1"/><rect x="479.03" fill="#d6d6ed"/><rect x="481.02" fill="#d3d3eb"/><rect x="483.02" fill="#c5c5e5"/><rect x="485.01" fill="#b9b9df"/></g>
<g transform="translate(0 55.41)"><rect x="357.50" fill="#dbdbee"/><rect x="359.49" fill="#9a9acd"/><rect x="361.48" fill="#a1a1d1"/><rect x="363.48" fill="#b4b4db"/><rect x="365.47" fill="#c2c2e3"/><rect x="367.46" fill="#c7c7e5"/><rect x="369.45" fill="#d0d0e9"/><rect x="371.45" fill="#bbbbdf"/><rect x="373.44" fill="#d6d6ec"/><rect x="375.43" fill="#a9a9d5"/><rect x="377.42" fill="#b0b0d9"/><rect x="379.42" fill="#e3e3f2"/><rect x="381.41" fill="#b0b0d9"/><rect x="383.40" fill="#aeaed8"/><rect x="385.39" fill="#c0c0e2"/><rect x="387.38" fill="#b6b6dd"/><rect x="389.38" fill="#c8c8e6"/><rect x="391.37" fill="#b6b6dc"/><rect x="393.36" fill="#c9c9e6"/><rect x="395.35" fill="#a8a8d5"/><rect x="397.35" fill="#bbbbdf"/><rect x="399.34" fill="#b6b6dc"/><rect x="401.33" fill="#acacd7"/><rect x="403.32" fill="#c1c1e2"/><rect x="405.32" fill="#d1d1ea"/><rect x="407.31" fill="#bdbde0"/><rect x="409.30" fill="#d0d0ea"/><rect x="411.29" fill="#c3c3e3"/><rect x="413.28" fill="#cacae7"/><rect x="415.28" fill="#cbcbe7"/><rect x="417.27" fill="#c7c7e6"/><rect x="419.26" fill="#d3d3eb"/><rect x="421.25" fill="#cdcde8"/><rect x="423.25" fill="#c7c7e5"/><rect x="425.24" fill="#d0d0ea"/><rect x="427.23" fill="#cecee9"/><rect x="429.22" fill="#d0d0ea"/><rect x="431.22" fill="#cecee9"/><rect x="433.21" fill="#d0d0ea"/><rect x="435.20" fill="#babadf"/><rect x="437.19" fill="#d8d8ed"/><rect x="439.18" fill="#c3c3e3"/><rect x="441.18" fill="#b1b1d9"/><rect x="443.17" fill="#c8c8e6"/><rect x="445.16" fill="#c0c0e2"/><rect x="447.15" fill="#bcbce0"/><rect x="449.15" fill="#a9a9d6"/><rect x="451.14" fill="#cbcbe7"/><rect x="453.13" fill="#aaaad6"/><rect x="455.12" fill="#cacae7"/><rect x="457.12" fill="#c1c1e2"/><rect x="459.11" fill="#cecee9"/><rect x="461.10" fill="#ddddf0"/><rect x="463.09" fill="#cecee9"/><rect x="465.08" fill="#dedef0"/><rect x="467.08" fill="#b6b6dc"/><rect x="469.07" fill="#cccce8"/><rect x="471.06" fill="#d2d2ea"/><rect x="473.05" fill="#b0b0d9"/><rect x="475.05" fill="#c5c5e5"/><rect x="477.04" fill="#c6c6e5"/><rect x="479.03" fill="#c2c2e3"/><rect x="481.02" fill="#c0c0e2"/><rect x="483.02" fill="#dedef0"/><rect x="485.01" fill="#d0d0e9"/></g>
<g transform="translate(0 61.64)"><rect x="357.50" fill="#cdcde7"/><rect x="359.49" fill="#b4b4da"/><rect x="361.48" fill="#babadd"/><rect x="363.48" fill="#dadaed"/><rect x="365.47" fill="#cccce7"/><rect x="367.46" fill="#b9b9dd"/><rect x="369.45" fill="#c3c3e2"/><rect x="371.45" fill="#d0d0e9"/><rect x="373.44" fill="#c2c2e2"/><rect x="375.43" fill="#f4f4fa"/><rect x="377.42" fill="#bdbddf"/><rect x="379.42" fill="#cccce7"/><rect x="381.41" fill="#c1c1e1"/><rect x="383.40" fill="#d8d8ec"/><rect x="385.39" fill="#9696ca"/><rect x="387.38" fill="#9f9fcf"/><rect x="389.38" fill="#c3c3e2"/><rect x="391.37" fill="#bebee0"/><rect x="393.36" fill="#d7d7ec"/><rect x="395.35" fill="#cfcfe9"/><rect x="397.35" fill="#ababd6"/><rect x="399.34" fill="#cacae6"/><rect x="401.33" fill="#c0c0e1"/><rect x="403.32" fill="#d3d3ea"/><rect x="405.32" fill="#b0b0d8"/><rect x="407.31" fill="#e2e2f1"/><rect x="409.30" fill="#cecee8"/><rect x="411.29" fill="#dcdcee"/><rect x="413.28" fill="#e1e1f1"/><rect x="415.28" fill="#c2c2e2"/><rect x="417.27" fill="#bfbfe0"/><rect x="419.26" fill="#dedef0"/><rect x="421.25" fill="#dedeef"/><rect x="423.25" fill="#cbcbe7"/><rect x="425.24" fill="#c3c3e2"/><rect x="427.23" fill="#ededf6"/><rect x="429.22" fill="#d3d3ea"/><rect x="431.22" fill="#c1c1e1"/><rect x="433.21" fill="#d8d8ec"/><rect x="435.20" fill="#a4a4d2"/><rect x="437.19" fill="#d7d7ec"/><rect x="439.18" fill="#d3d3ea"/><rect x="441.18" fill="#d1d1e9"/><rect x="443.17" fill="#a2a2d1"/><rect x="445.16" fill="#9797cb"/><rect x="447.15" fill="#d4d4eb"/><rect x="449.15" fill="#d3d3ea"/><rect x="451.14" fill="#bebedf"/><rect x="453.13" fill="#9c9ccd"/><rect x="455.12" fill="#dedeef"/><rect x="457.12" fill="#adadd6"/><rect x="459.11" fill="#dcdcef"/><rect x="461.10" fill="#c6c6e4"/><rect x="463.09" fill="#d0d0e9"/><rect x="465.08" fill="#d0d0e9"/><rect x="467.08" fill="#dadaee"/><rect x="469.07" fill="#d5d5eb"/><rect x="471.06" fill="#b7b7dc"/><rect x="473.05" fill="#c1c1e1"/><rect x="475.05" fill="#adadd7"/><rect x="477.04" fill="#9191c8"/><rect x="479.03" fill="#a9a9d4"/><rect x="481.02" fill="#cacae6"/><rect x="483.02" fill="#d8d8ed"/><rect x="485.01" fill="#b7b7dc"/></g>
<g transform="translate(0 67.86)"><rect x="357.50" fill="#efeff8"/><rect x="359.49" fill="#cdcde7"/><rect x="361.48" fill="#f0f0f9"/><rect x="363.48" fill="#cfcfe8"/><rect x="365.47" fill="#e3e3f2"/><rect x="367.46" fill="#dadaee"/><rect x="369.45" fill="#efeff8"/><rect x="371.45" fill="#f0f0f9"/><rect x="373.44" fill="#f0f0f9"/><rect x="375.43" fill="#f1f1f9"/><rect x="377.42" fill="#dadaed"/><rect x="379.42" fill="#f3f3fa"/><rect x="381.41" fill="#d7d7ec"/><rect x="383.40" fill="#e4e4f3"/><rect x="385.39" fill="#ededf7"/><rect x="387.38" fill="#f1f1f9"/><rect x="389.38" fill="#c4c4e2"/><rect x="391.37" fill="#ececf7"/><rect x="393.36" fill="#e8e8f5"/><rect x="395.35" fill="#eeeef8"/><rect x="397.35" fill="#e2e2f2"/><rect x="399.34" fill="#cfcfe8"/><rect x="401.33" fill="#ddddef"/><rect x="403.32" fill="#f2f2fa"/><rect x="405.32" fill="#f1f1f9"/><rect x="407.31" fill="#efeff8"/><rect x="409.30" fill="#f0f0f9"/><rect x="411.29" fill="#e3e3f2"/><rect x="413.28" fill="#f0f0f9"/><rect x="415.28" fill="#cacae5"/><rect x="417.27" fill="#e2e2f1"/><rect x="419.26" fill="#efeff8"/><rect x="421.25" fill="#f0f0f9"/><rect x="423.25" fill="#efeff9"/><rect x="425.24" fill="#eeeef8"/><rect x="427.23" fill="#f1f1f9"/><rect x="429.22" fill="#f1f1f9"/><rect x="431.22" fill="#dfdff0"/><rect x="433.21" fill="#efeff9"/><rect x="435.20" fill="#f0f0f9"/><rect x="437.19" fill="#e9e9f6"/><rect x="439.18" fill="#d5d5eb"/><rect x="441.18" fill="#dbdbee"/><rect x="443.17" fill="#dbdbee"/><rect x="445.16" fill="#eeeef8"/><rect x="447.15" fill="#e8e8f5"/><rect x="449.15" fill="#dbdbee"/><rect x="451.14" fill="#efeff8"/><rect x="453.13" fill="#d4d4eb"/><rect x="455.12" fill="#f0f0f9"/><rect x="457.12" fill="#efeff8"/><rect x="459.11" fill="#f0f0f9"/><rect x="461.10" fill="#f2f2fa"/><rect x="463.09" fill="#efeff8"/><rect x="465.08" fill="#f0f0f9"/><rect x="467.08" fill="#e4e4f3"/><rect x="469.07" fill="#f0f0f9"/><rect x="471.06" fill="#dbdbee"/><rect x="473.05" fill="#f3f3fa"/><rect x="475.05" fill="#d9d9ed"/><rect x="477.04" fill="#eeeef8"/><rect x="479.03" fill="#eeeef8"/><rect x="481.02" fill="#e4e4f3"/><rect x="483.02" fill="#efeff8"/><rect x="485.01" fill="#f0f0f9"/></g>
<g transform="translate(0 74.09)"><rect x="357.50" fill="#eeeef7"/><rect x="359.49" fill="#c0c0df"/><rect x="361.48" fill="#ededf7"/><rect x="363.48" fill="#dedeef"/><rect x="365.47" fill="#e9e9f4"/><rect x="367.46" fill="#dedeef"/><rect x="369.45" fill="#eeeef7"/><rect x="371.45" fill="#e8e8f4"/><rect x="373.44" fill="#e6e6f3"/><rect x="375.43" fill="#e7e7f4"/><rect x="377.42" fill="#d2d2e9"/><rect x="379.42" fill="#eaeaf5"/><rect x="381.41" fill="#d7d7eb"/><rect x="383.40" fill="#eaeaf5"/><rect x="385.39" fill="#ebebf5"/><rect x="387.38" fill="#e0e0f0"/><rect x="389.38" fill="#dfdff0"/><rect x="391.37" fill="#dbdbed"/><rect x="393.36" fill="#eaeaf5"/><rect x="395.35" fill="#eaeaf5"/><rect x="397.35" fill="#d7d7eb"/><rect x="399.34" fill="#d3d3e9"/><rect x="401.33" fill="#e9e9f5"/><rect x="403.32" fill="#eaeaf5"/><rect x="405.32" fill="#e9e9f4"/><rect x="407.31" fill="#eaeaf5"/><rect x="409.30" fill="#dcdcee"/><rect x="411.29" fill="#ddddee"/><rect x="413.28" fill="#dcdcee"/><rect x="415.28" fill="#e3e3f2"/><rect x="417.27" fill="#eeeef7"/><rect x="419.26" fill="#ebebf5"/><rect x="421.25" fill="#e4e4f2"/><rect x="423.25" fill="#ebebf5"/><rect x="425.24" fill="#e7e7f4"/><rect x="427.23" fill="#eaeaf5"/><rect x="429.22" fill="#eeeef7"/><rect x="431.22" fill="#ececf6"/><rect x="433.21" fill="#efeff7"/><rect x="435.20" fill="#e1e1f0"/><rect x="437.19" fill="#e8e8f4"/><rect x="439.18" fill="#e9e9f4"/><rect x="441.18" fill="#eaeaf5"/><rect x="443.17" fill="#d1d1e8"/><rect x="445.16" fill="#ededf6"/><rect x="447.15" fill="#e7e7f3"/><rect x="449.15" fill="#d8d8ec"/><rect x="451.14" fill="#eaeaf5"/><rect x="453.13" fill="#dcdcee"/><rect x="455.12" fill="#eaeaf5"/><rect x="457.12" fill="#d4d4ea"/><rect x="459.11" fill="#ebebf5"/><rect x="461.10" fill="#d9d9ec"/><rect x="463.09" fill="#d4d4e9"/><rect x="465.08" fill="#eaeaf5"/><rect x="467.08" fill="#e9e9f5"/><rect x="469.07" fill="#eaeaf5"/><rect x="471.06" fill="#d0d0e7"/><rect x="473.05" fill="#d4d4e9"/><rect x="475.05" fill="#d9d9ec"/><rect x="477.04" fill="#e7e7f3"/><rect x="479.03" fill="#dbdbed"/><rect x="481.02" fill="#eaeaf5"/><rect x="483.02" fill="#eaeaf5"/><rect x="485.01" fill="#ededf6"/></g>
<g transform="translate(0 80.32)"><rect x="357.50" fill="#efeff6"/><rect x="359.49" fill="#f0f0f7"/><rect x="361.48" fill="#ececf5"/><rect x="363.48" fill="#f0f0f7"/><rect x="365.47" fill="#efeff7"/><rect x="367.46" fill="#e9e9f4"/><rect x="369.45" fill="#eaeaf4"/><rect x="371.45" fill="#f0f0f7"/><rect x="373.44" fill="#e5e5f2"/><rect x="375.43" fill="#f0f0f7"/><rect x="377.42" fill="#dfdfee"/><rect x="379.42" fill="#f1f1f8"/><rect x="381.41" fill="#e7e7f2"/><rect x="383.40" fill="#e6e6f2"/><rect x="385.39" fill="#d6d6ea"/><rect x="387.38" fill="#f3f3f9"/><rect x="389.38" fill="#ededf6"/><rect x="391.37" fill="#e9e9f3"/><rect x="393.36" fill="#f1f1f7"/><rect x="395.35" fill="#efeff7"/><rect x="397.35" fill="#dcdced"/><rect x="399.34" fill="#e3e3f0"/><rect x="401.33" fill="#eeeef6"/><rect x="403.32" fill="#dcdced"/><rect x="405.32" fill="#f2f2f8"/><rect x="407.31" fill="#e2e2f0"/><rect x="409.30" fill="#ececf5"/><rect x="411.29" fill="#f1f1f8"/><rect x="413.28" fill="#eeeef6"/><rect x="415.28" fill="#f1f1f7"/><rect x="417.27" fill="#efeff7"/><rect x="419.26" fill="#e6e6f2"/><rect x="421.25" fill="#efeff6"/><rect x="423.25" fill="#dedeee"/><rect x="425.24" fill="#eeeef6"/><rect x="427.23" fill="#f3f3f9"/><rect x="429.22" fill="#eeeef6"/><rect x="431.22" fill="#d9d9eb"/><rect x="433.21" fill="#f0f0f7"/><rect x="435.20" fill="#d7d7ea"/><rect x="437.19" fill="#f2f2f8"/><rect x="439.18" fill="#eeeef6"/><rect x="441.18" fill="#e0e0ef"/><rect x="443.17" fill="#e6e6f2"/><rect x="445.16" fill="#ececf5"/><rect x="447.15" fill="#efeff7"/><rect x="449.15" fill="#dedeee"/><rect x="451.14" fill="#cecee6"/><rect x="453.13" fill="#dedeee"/><rect x="455.12" fill="#dfdfee"/><rect x="457.12" fill="#e0e0ef"/><rect x="459.11" fill="#d8d8eb"/><rect x="461.10" fill="#efeff7"/><rect x="463.09" fill="#efeff7"/><rect x="465.08" fill="#f3f3f9"/><rect x="467.08" fill="#eaeaf4"/><rect x="469.07" fill="#f0f0f7"/><rect x="471.06" fill="#d7d7ea"/><rect x="473.05" fill="#f0f0f7"/><rect x="475.05" fill="#eeeef6"/><rect x="477.04" fill="#f0f0f7"/><rect x="479.03" fill="#e6e6f2"/><rect x="481.02" fill="#eeeef6"/><rect x="483.02" fill="#f0f0f7"/><rect x="485.01" fill="#d5d5e9"/></g>
<g transform="translate(0 86.55)"><rect x="357.50" fill="#f7eded"/><rect x="359.49" fill="#f6e9ea"/><rect x="361.48" fill="#f7eded"/><rect x="363.48" fill="#f8f0f0"/><rect x="365.47" fill="#f8f0f0"/><rect x="367.46" fill="#f1d2d3"/><rect x="369.45" fill="#f7eded"/><rect x="371.45" fill="#f1cfd1"/><rect x="373.44" fill="#f7efef"/><rect x="375.43" fill="#f6ecec"/><rect x="377.42" fill="#f1d2d3"/><rect x="379.42" fill="#f7efef"/><rect x="381.41" fill="#f2d4d5"/><rect x="383.40" fill="#f7eded"/><rect x="385.39" fill="#f7eded"/><rect x="387.38" fill="#f7efef"/><rect x="389.38" fill="#f6eded"/><rect x="391.37" fill="#f6eded"/><rect x="393.36" fill="#f7eeee"/><rect x="395.35" fill="#efc5c7"/><rect x="397.35" fill="#f3dcdd"/><rect x="399.34" fill="#f7eded"/><rect x="401.33" fill="#f6eded"/><rect x="403.32" fill="#f7efef"/><rect x="405.32" fill="#eebcbf"/><rect x="407.31" fill="#f7efef"/><rect x="409.30" fill="#faf5f5"/><rect x="411.29" fill="#f9f2f2"/><rect x="413.28" fill="#f2d7d8"/><rect x="415.28" fill="#f7eeee"/><rect x="417.27" fill="#f1d2d4"/><rect x="419.26" fill="#f5e8e8"/><rect x="421.25" fill="#f7efef"/><rect x="423.25" fill="#f5e9e9"/><rect x="425.24" fill="#f6eded"/><rect x="427.23" fill="#f9f3f3"/><rect x="429.22" fill="#f8f1f1"/><rect x="431.22" fill="#f6eded"/><rect x="433.21" fill="#f8efef"/><rect x="435.20" fill="#f1d0d2"/><rect x="437.19" fill="#f7efef"/><rect x="439.18" fill="#f7efef"/><rect x="441.18" fill="#f6eded"/><rect x="443.17" fill="#f7efef"/><rect x="445.16" fill="#f8f0f0"/><rect x="447.15" fill="#f6eded"/><rect x="449.15" fill="#f6eded"/><rect x="451.14" fill="#f4e1e1"/><rect x="453.13" fill="#f2d8d9"/><rect x="455.12" fill="#f6ecec"/><rect x="457.12" fill="#f6eded"/><rect x="459.11" fill="#f6ecec"/><rect x="461.10" fill="#f7efef"/><rect x="463.09" fill="#f7eeee"/><rect x="465.08" fill="#f4dfdf"/><rect x="467.08" fill="#f1d0d2"/><rect x="469.07" fill="#f7eeee"/><rect x="471.06" fill="#f7eeee"/><rect x="473.05" fill="#f7eded"/><rect x="475.05" fill="#f1ced0"/><rect x="477.04" fill="#f6eaea"/><rect x="479.03" fill="#f2d5d6"/><rect x="481.02" fill="#f5e7e8"/><rect x="483.02" fill="#f6ebeb"/><rect x="485.01" fill="#f6eded"/></g>
<g transform="translate(0 92.77)"><rect x="357.50" fill="#cbcbe8"/><rect x="359.49" fill="#acacd9"/><rect x="361.48" fill="#bdbde2"/><rect x="363.48" fill="#b4b4de"/><rect x="365.47" fill="#c8c8e7"/><rect x="367.46" fill="#b6b6df"/><rect x="369.45" fill="#b6b6df"/><rect x="371.45" fill="#bcbce2"/><rect x="373.44" fill="#bebee3"/><rect x="375.43" fill="#b0b0dc"/><rect x="377.42" fill="#b9b9e1"/><rect x="379.42" fill="#d8d8ee"/><rect x="381.41" fill="#b4b4dd"/><rect x="383.40" fill="#b4b4de"/><rect x="385.39" fill="#b6b6df"/><rect x="387.38" fill="#c2c2e4"/><rect x="389.38" fill="#a3a3d4"/><rect x="391.37" fill="#b2b2dc"/><rect x="393.36" fill="#c1c1e4"/><rect x="395.35" fill="#afafdb"/><rect x="397.35" fill="#ababd9"/><rect x="399.34" fill="#cacae8"/><rect x="401.33" fill="#bcbce2"/><rect x="403.32" fill="#c8c8e7"/><rect x="405.32" fill="#b3b3dd"/><rect x="407.31" fill="#c1c1e4"/><rect x="409.30" fill="#c2c2e4"/><rect x="411.29" fill="#c7c7e6"/><rect x="413.28" fill="#b8b8e0"/><rect x="415.28" fill="#bcbce2"/><rect x="417.27" fill="#bdbde2"/><rect x="419.26" fill="#bebee3"/><rect x="421.25" fill="#b9b9e0"/><rect x="423.25" fill="#aaaad8"/><rect x="425.24" fill="#b7b7df"/><rect x="427.23" fill="#c4c4e5"/><rect x="429.22" fill="#b9b9e1"/><rect x="431.22" fill="#bbbbe1"/><rect x="433.21" fill="#b5b5de"/><rect x="435.20" fill="#babae1"/><rect x="437.19" fill="#cbcbe8"/><rect x="439.18" fill="#a8a8d7"/><rect x="441.18" fill="#b8b8e0"/><rect x="443.17" fill="#c4c4e5"/><rect x="445.16" fill="#b0b0dc"/><rect x="447.15" fill="#a9a9d7"/><rect x="449.15" fill="#b2b2dc"/><rect x="451.14" fill="#bbbbe1"/><rect x="453.13" fill="#acacd9"/><rect x="455.12" fill="#c7c7e7"/><rect x="457.12" fill="#b9b9e1"/><rect x="459.11" fill="#a6a6d6"/><rect x="461.10" fill="#a6a6d6"/><rect x="463.09" fill="#c3c3e5"/><rect x="465.08" fill="#c6c6e6"/><rect x="467.08" fill="#babae1"/><rect x="469.07" fill="#cdcde9"/><rect x="471.06" fill="#a3a3d4"/><rect x="473.05" fill="#c2c2e4"/><rect x="475.05" fill="#b9b9e1"/><rect x="477.04" fill="#bebee3"/><rect x="479.03" fill="#bcbce2"/><rect x="481.02" fill="#c3c3e5"/><rect x="483.02" fill="#aeaeda"/><rect x="485.01" fill="#c5c5e6"/></g>
<g transform="translate(0 99.00)"><rect x="357.50" fill="#bbbbe0"/><rect x="359.49" fill="#a8a8d6"/><rect x="361.48" fill="#cdcde9"/><rect x="363.48" fill="#c9c9e7"/><rect x="365.47" fill="#dbdbef"/><rect x="367.46" fill="#b7b7de"/><rect x="369.45" fill="#cbcbe8"/><rect x="371.45" fill="#b6b6dd"/><rect x="373.44" fill="#cdcde9"/><rect x="375.43" fill="#c7c7e6"/><rect x="377.42" fill="#c7c7e6"/><rect x="379.42" fill="#cecee9"/><rect x="381.41" fill="#bbbbe0"/><rect x="383.40" fill="#aeaed9"/><rect x="385.39" fill="#c0c0e3"/><rect x="387.38" fill="#c1c1e4"/><rect x="389.38" fill="#c1c1e3"/><rect x="391.37" fill="#b0b0da"/><rect x="393.36" fill="#b4b4dc"/><rect x="395.35" fill="#bebee2"/><rect x="397.35" fill="#c5c5e5"/><rect x="399.34" fill="#c1c1e4"/><rect x="401.33" fill="#d0d0ea"/><rect x="403.32" fill="#cccce8"/><rect x="405.32" fill="#c5c5e5"/><rect x="407.31" fill="#c5c5e5"/><rect x="409.30" fill="#c6c6e6"/><rect x="411.29" fill="#c3c3e4"/><rect x="413.28" fill="#b8b8de"/><rect x="415.28" fill="#c1c1e4"/><rect x="417.27" fill="#b6b6de"/><rect x="419.26" fill="#a5a5d4"/><rect x="421.25" fill="#cccce8"/><rect x="423.25" fill="#c1c1e3"/><rect x="425.24" fill="#cdcde9"/><rect x="427.23" fill="#d2d2eb"/><rect x="429.22" fill="#d2d2eb"/><rect x="431.22" fill="#bcbce1"/><rect x="433.21" fill="#cbcbe8"/><rect x="435.20" fill="#c6c6e6"/><rect x="437.19" fill="#c0c0e3"/><rect x="439.18" fill="#b5b5dd"/><rect x="441.18" fill="#c5c5e5"/><rect x="443.17" fill="#cccce9"/><rect x="445.16" fill="#c1c1e4"/><rect x="447.15" fill="#c1c1e4"/><rect x="449.15" fill="#b1b1db"/><rect x="451.14" fill="#babae0"/><rect x="453.13" fill="#a0a0d1"/><rect x="455.12" fill="#cfcfea"/><rect x="457.12" fill="#c7c7e6"/><rect x="459.11" fill="#c5c5e5"/><rect x="461.10" fill="#c9c9e7"/><rect x="463.09" fill="#aeaed9"/><rect x="465.08" fill="#c7c7e6"/><rect x="467.08" fill="#bbbbe0"/><rect x="469.07" fill="#cfcfea"/><rect x="471.06" fill="#aeaed9"/><rect x="473.05" fill="#d2d2eb"/><rect x="475.05" fill="#cecee9"/><rect x="477.04" fill="#b4b4dc"/><rect x="479.03" fill="#c7c7e6"/><rect x="481.02" fill="#afafda"/><rect x="483.02" fill="#cdcde9"/><rect x="485.01" fill="#c3c3e5"/></g>
<g transform="translate(0 105.23)"><rect x="357.50" fill="#f5f0f4"/><rect x="359.49" fill="#f2e1e5"/><rect x="361.48" fill="#f3e8ec"/><rect x="363.48" fill="#edc2c8"/><rect x="365.47" fill="#f6f0f4"/><rect x="367.46" fill="#f5eff3"/><rect x="369.45" fill="#f6f0f4"/><rect x="371.45" fill="#f6f1f5"/><rect x="373.44" fill="#f2e0e5"/><rect x="375.43" fill="#f1dfe3"/><rect x="377.42" fill="#f3e8ec"/><rect x="379.42" fill="#f5f0f3"/><rect x="381.41" fill="#f1dee3"/><rect x="383.40" fill="#f4ecf0"/><rect x="385.39" fill="#f4eff3"/><rect x="387.38" fill="#f5f0f3"/><rect x="389.38" fill="#f5eff3"/><rect x="391.37" fill="#f4ecf0"/><rect x="393.36" fill="#f3eaee"/><rect x="395.35" fill="#f4eef2"/><rect x="397.35" fill="#efcdd3"/><rect x="399.34" fill="#f4eff3"/><rect x="401.33" fill="#f3e7eb"/><rect x="403.32" fill="#f6f1f5"/><rect x="405.32" fill="#f4eef2"/><rect x="407.31" fill="#f3eaee"/><rect x="409.30" fill="#f1dde2"/><rect x="411.29" fill="#f5f0f3"/><rect x="413.28" fill="#f1dde2"/><rect x="415.28" fill="#f2e1e5"/><rect x="417.27" fill="#f5eff3"/><rect x="419.26" fill="#f3eaee"/><rect x="421.25" fill="#f7f2f5"/><rect x="423.25" fill="#f5f0f3"/><rect x="425.24" fill="#f5f0f4"/><rect x="427.23" fill="#f7f2f5"/><rect x="429.22" fill="#f5eff3"/><rect x="431.22" fill="#f4eef2"/><rect x="433.21" fill="#f3e8ed"/><rect x="435.20" fill="#f0d3d8"/><rect x="437.19" fill="#f7f2f5"/><rect x="439.18" fill="#f2e2e6"/><rect x="441.18" fill="#f1dee2"/><rect x="443.17" fill="#f2e0e4"/><rect x="445.16" fill="#f6f1f5"/><rect x="447.15" fill="#f3eaee"/><rect x="449.15" fill="#f2e2e7"/><rect x="451.14" fill="#f6f0f4"/><rect x="453.13" fill="#f1dce1"/><rect x="455.12" fill="#f6f1f4"/><rect x="457.12" fill="#f1dee3"/><rect x="459.11" fill="#eecacf"/><rect x="461.10" fill="#f5f0f4"/><rect x="463.09" fill="#f5f0f3"/><rect x="465.08" fill="#f8f4f7"/><rect x="467.08" fill="#f2e0e4"/><rect x="469.07" fill="#f3e6ea"/><rect x="471.06" fill="#ecbdc3"/><rect x="473.05" fill="#f4eef2"/><rect x="475.05" fill="#f5eff3"/><rect x="477.04" fill="#f4eef2"/><rect x="479.03" fill="#f2dfe3"/><rect x="481.02" fill="#f4eef2"/><rect x="483.02" fill="#f7f2f5"/><rect x="485.01" fill="#f3e8ec"/></g>
<g transform="translate(0 111.45)"><rect x="357.50" fill="#f3cfd0"/><rect x="359.49" fill="#efbabc"/><rect x="361.48" fill="#f7e1e1"/><rect x="363.48" fill="#efb8bb"/><rect x="365.47" fill="#f8e4e4"/><rect x="367.46" fill="#f9e8e8"/><rect x="369.45" fill="#f2cbcc"/><rect x="371.45" fill="#faeded"/><rect x="373.44" fill="#f7e3e3"/><rect x="375.43" fill="#f7e1e1"/><rect x="377.42" fill="#f1c5c6"/><rect x="379.42" fill="#f8e5e5"/><rect x="381.41" fill="#edb0b3"/><rect x="383.40" fill="#ea9fa3"/><rect x="385.39" fill="#f3cfd0"/><rect x="387.38" fill="#f9e9e9"/><rect x="389.38" fill="#f9eaea"/><rect x="391.37" fill="#f1c5c6"/><rect x="393.36" fill="#e79196"/><rect x="395.35" fill="#f7e2e2"/><rect x="397.35" fill="#f7e0e0"/><rect x="399.34" fill="#f7e2e2"/><rect x="401.33" fill="#f6dfdf"/><rect x="403.32" fill="#f7e3e3"/><rect x="405.32" fill="#f3cccd"/><rect x="407.31" fill="#f0c0c2"/><rect x="409.30" fill="#faeded"/><rect x="411.29" fill="#f8e6e6"/><rect x="413.28" fill="#f2c8c9"/><rect x="415.28" fill="#f8e5e5"/><rect x="417.27" fill="#f6dcdc"/><rect x="419.26" fill="#f8e6e6"/><rect x="421.25" fill="#f6e0e0"/><rect x="423.25" fill="#f4d1d2"/><rect x="425.24" fill="#f8e5e5"/><rect x="427.23" fill="#faeded"/><rect x="429.22" fill="#f6dede"/><rect x="431.22" fill="#f5d7d8"/><rect x="433.21" fill="#f8e6e6"/><rect x="435.20" fill="#f6e0e0"/><rect x="437.19" fill="#f8e4e4"/><rect x="439.18" fill="#f7e1e1"/><rect x="441.18" fill="#f9e8e8"/><rect x="443.17" fill="#f2c7c9"/><rect x="445.16" fill="#f7e2e2"/><rect x="447.15" fill="#f7e3e3"/><rect x="449.15" fill="#f4d4d5"/><rect x="451.14" fill="#eba6a9"/><rect x="453.13" fill="#f6dddd"/><rect x="455.12" fill="#fbf0f0"/><rect x="457.12" fill="#f7e2e2"/><rect x="459.11" fill="#f8e6e6"/><rect x="461.10" fill="#f7e3e3"/><rect x="463.09" fill="#f6dfdf"/><rect x="465.08" fill="#faeded"/><rect x="467.08" fill="#f3cfd0"/><rect x="469.07" fill="#f7e3e3"/><rect x="471.06" fill="#eaa1a5"/><rect x="473.05" fill="#f2c9cb"/><rect x="475.05" fill="#f4d4d5"/><rect x="477.04" fill="#f3ccce"/><rect x="479.03" fill="#f0c1c3"/><rect x="481.02" fill="#f7e3e3"/><rect x="483.02" fill="#f7e3e3"/><rect x="485.01" fill="#f7e1e1"/></g>
<g transform="translate(0 117.68)"><rect x="357.50" fill="#f6e1e1"/><rect x="359.49" fill="#e79196"/><rect x="361.48" fill="#f6e1e1"/><rect x="363.48" fill="#f2cacc"/><rect x="365.47" fill="#f6e1e1"/><rect x="367.46" fill="#f3cecf"/><rect x="369.45" fill="#f3cecf"/><rect x="371.45" fill="#f6e1e1"/><rect x="373.44" fill="#f6e0e0"/><rect x="375.43" fill="#f4d7d8"/><rect x="377.42" fill="#f6e1e1"/><rect x="379.42" fill="#f7e2e2"/><rect x="381.41" fill="#efbabc"/><rect x="383.40" fill="#efbdbf"/><rect x="385.39" fill="#eeb6b9"/><rect x="387.38" fill="#f7e3e3"/><rect x="389.38" fill="#f3d0d1"/><rect x="391.37" fill="#f6e1e1"/><rect x="393.36" fill="#edb0b3"/><rect x="395.35" fill="#eeb8ba"/><rect x="397.35" fill="#f3d1d2"/><rect x="399.34" fill="#f3d2d3"/><rect x="401.33" fill="#f4d7d7"/><rect x="403.32" fill="#faeded"/><rect x="405.32" fill="#f4d6d6"/><rect x="407.31" fill="#f7e4e4"/><rect x="409.30" fill="#f8e6e6"/><rect x="411.29" fill="#f2c8ca"/><rect x="413.28" fill="#f0c0c2"/><rect x="415.28" fill="#fbf0f0"/><rect x="417.27" fill="#faeeee"/><rect x="419.26" fill="#f5dadb"/><rect x="421.25" fill="#f8e7e7"/><rect x="423.25" fill="#f1c7c9"/><rect x="425.24" fill="#f8e8e8"/><rect x="427.23" fill="#faeded"/><rect x="429.22" fill="#f5d9d9"/><rect x="431.22" fill="#f7e4e4"/><rect x="433.21" fill="#f9ebeb"/><rect x="435.20" fill="#f3d0d1"/><rect x="437.19" fill="#f7e4e4"/><rect x="439.18" fill="#f5dbdc"/><rect x="441.18" fill="#f7e2e2"/><rect x="443.17" fill="#f0bfc1"/><rect x="445.16" fill="#f6e0e0"/><rect x="447.15" fill="#f6e0e0"/><rect x="449.15" fill="#f7e3e3"/><rect x="451.14" fill="#f8e7e7"/><rect x="453.13" fill="#f2cbcd"/><rect x="455.12" fill="#f9e9e9"/><rect x="457.12" fill="#f8e6e6"/><rect x="459.11" fill="#f3cecf"/><rect x="461.10" fill="#f1c7c8"/><rect x="463.09" fill="#f7e5e5"/><rect x="465.08" fill="#f6e2e2"/><rect x="467.08" fill="#efbcbe"/><rect x="469.07" fill="#fdf9f9"/><rect x="471.06" fill="#f4d7d8"/><rect x="473.05" fill="#faecec"/><rect x="475.05" fill="#f3cfd0"/><rect x="477.04" fill="#faeded"/><rect x="479.03" fill="#f1c4c6"/><rect x="481.02" fill="#f9ebeb"/><rect x="483.02" fill="#f8e7e7"/><rect x="485.01" fill="#f0c2c4"/></g>
<g transform="translate(0 123.91)"><rect x="357.50" fill="#f6d7d7"/><rect x="359.49" fill="#f0bebf"/><rect x="361.48" fill="#f1c2c2"/><rect x="363.48" fill="#f0bdbe"/><rect x="365.47" fill="#f3c9c9"/><rect x="367.46" fill="#f4d0d0"/><rect x="369.45" fill="#f4cfcf"/><rect x="371.45" fill="#f4cdcd"/><rect x="373.44" fill="#efb6b7"/><rect x="375.43" fill="#f2c3c4"/><rect x="377.42" fill="#f5d2d2"/><rect x="379.42" fill="#f5d1d1"/><rect x="381.41" fill="#e99a9d"/><rect x="383.40" fill="#f3c9c9"/><rect x="385.39" fill="#f4d0d0"/><rect x="387.38" fill="#f8e1e1"/><rect x="389.38" fill="#f1bfc0"/><rect x="391.37" fill="#f3c9c9"/><rect x="393.36" fill="#f5d2d2"/><rect x="395.35" fill="#efb9ba"/><rect x="397.35" fill="#edafb1"/><rect x="399.34" fill="#f3c9c9"/><rect x="401.33" fill="#f5d1d1"/><rect x="403.32" fill="#f5d2d2"/><rect x="405.32" fill="#f3c9c9"/><rect x="407.31" fill="#f4cfcf"/><rect x="409.30" fill="#f5d5d5"/><rect x="411.29" fill="#f1c0c1"/><rect x="413.28" fill="#edaeb0"/><rect x="415.28" fill="#f2c5c5"/><rect x="417.27" fill="#eeb4b5"/><rect x="419.26" fill="#f4cdcd"/><rect x="421.25" fill="#f0b9ba"/><rect x="423.25" fill="#f0bebf"/><rect x="425.24" fill="#f4d1d1"/><rect x="427.23" fill="#f3cccc"/><rect x="429.22" fill="#f3cccc"/><rect x="431.22" fill="#eeb4b5"/><rect x="433.21" fill="#f0bbbc"/><rect x="435.20" fill="#f1c0c0"/><rect x="437.19" fill="#f3cbcb"/><rect x="439.18" fill="#f3c9c9"/><rect x="441.18" fill="#f7dada"/><rect x="443.17" fill="#eba0a3"/><rect x="445.16" fill="#f6d8d8"/><rect x="447.15" fill="#f3cccc"/><rect x="449.15" fill="#edadaf"/><rect x="451.14" fill="#efb8b9"/><rect x="453.13" fill="#f5d2d2"/><rect x="455.12" fill="#f6d6d6"/><rect x="457.12" fill="#f3c9c9"/><rect x="459.11" fill="#f4cdcd"/><rect x="461.10" fill="#f3cbcb"/><rect x="463.09" fill="#f6d8d8"/><rect x="465.08" fill="#f9e5e5"/><rect x="467.08" fill="#ea9c9f"/><rect x="469.07" fill="#f6d8d8"/><rect x="471.06" fill="#eba1a4"/><rect x="473.05" fill="#f3cccc"/><rect x="475.05" fill="#eca5a8"/><rect x="477.04" fill="#f8e1e1"/><rect x="479.03" fill="#efb8b9"/><rect x="481.02" fill="#f8e1e1"/><rect x="483.02" fill="#f3caca"/><rect x="485.01" fill="#eeb4b5"/></g>
<g transform="translate(0 130.14)"><rect x="357.50" fill="#f1c0c1"/><rect x="359.49" fill="#ea9c9f"/><rect x="361.48" fill="#f4d1d1"/><rect x="363.48" fill="#f0bdbe"/><rect x="365.47" fill="#f7dddd"/><rect x="367.46" fill="#f0bbbd"/><rect x="369.45" fill="#f5d3d3"/><rect x="371.45" fill="#f5d3d3"/><rect x="373.44" fill="#f1c0c1"/><rect x="375.43" fill="#eeb1b3"/><rect x="377.42" fill="#f0bdbe"/><rect x="379.42" fill="#f5d6d6"/><rect x="381.41" fill="#f3caca"/><rect x="383.40" fill="#f1c1c2"/><rect x="385.39" fill="#f1c2c2"/><rect x="387.38" fill="#faeaea"/><rect x="389.38" fill="#eba1a4"/><rect x="391.37" fill="#eba3a6"/><rect x="393.36" fill="#f7dcdc"/><rect x="395.35" fill="#f4d0d0"/><rect x="397.35" fill="#e9999c"/><rect x="399.34" fill="#faebeb"/><rect x="401.33" fill="#f6d9d9"/><rect x="403.32" fill="#f4d0d0"/><rect x="405.32" fill="#f4d2d2"/><rect x="407.31" fill="#f7dddd"/><rect x="409.30" fill="#f8dfdf"/><rect x="411.29" fill="#f4d1d1"/><rect x="413.28" fill="#f2c7c7"/><rect x="415.28" fill="#f6dada"/><rect x="417.27" fill="#f5d3d3"/><rect x="419.26" fill="#f4cfcf"/><rect x="421.25" fill="#f4d0d0"/><rect x="423.25" fill="#f5d6d6"/><rect x="425.24" fill="#f4d1d1"/><rect x="427.23" fill="#f7dcdc"/><rect x="429.22" fill="#f8e0e0"/><rect x="431.22" fill="#f1c3c3"/><rect x="433.21" fill="#eba1a4"/><rect x="435.20" fill="#f4cfcf"/><rect x="437.19" fill="#f3cdcd"/><rect x="439.18" fill="#f1c2c3"/><rect x="441.18" fill="#f3cdcd"/><rect x="443.17" fill="#f3cccc"/><rect x="445.16" fill="#f6d7d7"/><rect x="447.15" fill="#f6d7d7"/><rect x="449.15" fill="#eba4a7"/><rect x="451.14" fill="#f4d1d1"/><rect x="453.13" fill="#efbabb"/><rect x="455.12" fill="#f4d0d0"/><rect x="457.12" fill="#f5d6d6"/><rect x="459.11" fill="#f3cdcd"/><rect x="461.10" fill="#f4d2d2"/><rect x="463.09" fill="#f6d9d9"/><rect x="465.08" fill="#efb8b9"/><rect x="467.08" fill="#efb8b9"/><rect x="469.07" fill="#f3caca"/><rect x="471.06" fill="#efb8b9"/><rect x="473.05" fill="#f5d4d4"/><rect x="475.05" fill="#eeb2b4"/><rect x="477.04" fill="#f1c2c3"/><rect x="479.03" fill="#f3cccc"/><rect x="481.02" fill="#f9e5e5"/><rect x="483.02" fill="#f8e0e0"/><rect x="485.01" fill="#f5d4d4"/></g>
<g transform="translate(0 136.36)"><rect x="357.50" fill="#f1bcbc"/><rect x="359.49" fill="#ea999c"/><rect x="361.48" fill="#f2c3c3"/><rect x="363.48" fill="#eeafb0"/><rect x="365.47" fill="#efb2b3"/><rect x="367.46" fill="#f6d4d4"/><rect x="369.45" fill="#f4cdcd"/><rect x="371.45" fill="#efb1b2"/><rect x="373.44" fill="#f2bfbf"/><rect x="375.43" fill="#f2c3c3"/><rect x="377.42" fill="#f3c5c5"/><rect x="379.42" fill="#f1bcbc"/><rect x="381.41" fill="#eca5a6"/><rect x="383.40" fill="#e68589"/><rect x="385.39" fill="#f1bebe"/><rect x="387.38" fill="#f7dbdb"/><rect x="389.38" fill="#e89194"/><rect x="391.37" fill="#f2c4c4"/><rect x="393.36" fill="#f0b6b6"/><rect x="395.35" fill="#eeaeaf"/><rect x="397.35" fill="#f1bfbf"/><rect x="399.34" fill="#eda9aa"/><rect x="401.33" fill="#e47c81"/><rect x="403.32" fill="#eeb0b1"/><rect x="405.32" fill="#eca5a6"/><rect x="407.31" fill="#eeaeaf"/><rect x="409.30" fill="#f1bebe"/><rect x="411.29" fill="#f4caca"/><rect x="413.28" fill="#f0b6b7"/><rect x="415.28" fill="#efb3b3"/><rect x="417.27" fill="#f2c3c3"/><rect x="419.26" fill="#f3c7c7"/><rect x="421.25" fill="#f4caca"/><rect x="423.25" fill="#f0b7b7"/><rect x="425.24" fill="#f2c0c0"/><rect x="427.23" fill="#edabac"/><rect x="429.22" fill="#f5cfcf"/><rect x="431.22" fill="#e99598"/><rect x="433.21" fill="#efb4b4"/><rect x="435.20" fill="#efb2b2"/><rect x="437.19" fill="#f1bdbd"/><rect x="439.18" fill="#eeaeaf"/><rect x="441.18" fill="#f4cccc"/><rect x="443.17" fill="#f2c4c4"/><rect x="445.16" fill="#eca2a4"/><rect x="447.15" fill="#eca6a7"/><rect x="449.15" fill="#eeadae"/><rect x="451.14" fill="#f0b9b9"/><rect x="453.13" fill="#edabac"/><rect x="455.12" fill="#efb3b4"/><rect x="457.12" fill="#edacad"/><rect x="459.11" fill="#f2c0c0"/><rect x="461.10" fill="#ea989b"/><rect x="463.09" fill="#eeacad"/><rect x="465.08" fill="#f5cfcf"/><rect x="467.08" fill="#edaaab"/><rect x="469.07" fill="#f5d2d2"/><rect x="471.06" fill="#ea989b"/><rect x="473.05" fill="#e89194"/><rect x="475.05" fill="#f4caca"/><rect x="477.04" fill="#f2c2c2"/><rect x="479.03" fill="#eeadae"/><rect x="481.02" fill="#eda8a9"/><rect x="483.02" fill="#f2c3c3"/><rect x="485.01" fill="#f1bfbf"/></g>
<g transform="translate(0 142.59)"><rect x="357.50" fill="#eeb0b1"/><rect x="359.49" fill="#eba1a4"/><rect x="361.48" fill="#f5d4d4"/><rect x="363.48" fill="#f0bdbd"/><rect x="365.47" fill="#f3cbcb"/><rect x="367.46" fill="#f0baba"/><rect x="369.45" fill="#f1c1c1"/><rect x="371.45" fill="#f2c4c4"/><rect x="373.44" fill="#f2c5c5"/><rect x="375.43" fill="#f1c1c1"/><rect x="377.42" fill="#e68a8e"/><rect x="379.42" fill="#f2c3c3"/><rect x="381.41" fill="#e78f92"/><rect x="383.40" fill="#edaaab"/><rect x="385.39" fill="#f2c6c6"/><rect x="387.38" fill="#f4cece"/><rect x="389.38" fill="#eca8aa"/><rect x="391.37" fill="#f3c9c9"/><rect x="393.36" fill="#f3cbcb"/><rect x="395.35" fill="#f0bbbc"/><rect x="397.35" fill="#efb5b5"/><rect x="399.34" fill="#e99598"/><rect x="401.33" fill="#f2c4c4"/><rect x="403.32" fill="#f0bdbd"/><rect x="405.32" fill="#edabac"/><rect x="407.31" fill="#f1c0c0"/><rect x="409.30" fill="#f6d7d7"/><rect x="411.29" fill="#f2c5c5"/><rect x="413.28" fill="#f4cece"/><rect x="415.28" fill="#f5d2d2"/><rect x="417.27" fill="#f3c7c7"/><rect x="419.26" fill="#f3c9c9"/><rect x="421.25" fill="#f1c2c2"/><rect x="423.25" fill="#edaaac"/><rect x="425.24" fill="#f6d7d7"/><rect x="427.23" fill="#f9e3e3"/><rect x="429.22" fill="#f4cdcd"/><rect x="431.22" fill="#edaaac"/><rect x="433.21" fill="#f1bfbf"/><rect x="435.20" fill="#edaeaf"/><rect x="437.19" fill="#edadae"/><rect x="439.18" fill="#f9e6e6"/><rect x="441.18" fill="#eba2a4"/><rect x="443.17" fill="#f2c4c4"/><rect x="445.16" fill="#eeb3b4"/><rect x="447.15" fill="#f8dede"/><rect x="449.15" fill="#eeb1b2"/><rect x="451.14" fill="#f3c7c7"/><rect x="453.13" fill="#f4cccc"/><rect x="455.12" fill="#f4cfcf"/><rect x="457.12" fill="#f3c9c9"/><rect x="459.11" fill="#f2c3c3"/><rect x="461.10" fill="#f0bbbc"/><rect x="463.09" fill="#f1c2c2"/><rect x="465.08" fill="#f6d7d7"/><rect x="467.08" fill="#edacae"/><rect x="469.07" fill="#efb6b7"/><rect x="471.06" fill="#efb5b6"/><rect x="473.05" fill="#f8dede"/><rect x="475.05" fill="#ea9ea1"/><rect x="477.04" fill="#f0babb"/><rect x="479.03" fill="#e78c90"/><rect x="481.02" fill="#f7dada"/><rect x="483.02" fill="#f3caca"/><rect x="485.01" fill="#f6d6d6"/></g>
<g transform="translate(0 148.82)"><rect x="357.50" fill="#f2bfbf"/><rect x="359.49" fill="#f2bdbd"/><rect x="361.48" fill="#f0b8b8"/><rect x="363.48" fill="#f1b9b9"/><rect x="365.47" fill="#f5cfcf"/><rect x="367.46" fill="#eb9c9e"/><rect x="369.45" fill="#efb3b3"/><rect x="371.45" fill="#eb9fa0"/><rect x="373.44" fill="#f0b7b7"/><rect x="375.43" fill="#ea999b"/><rect x="377.42" fill="#efb1b1"/><rect x="379.42" fill="#f6d2d2"/><rect x="381.41" fill="#eca3a3"/><rect x="383.40" fill="#f1bcbc"/><rect x="385.39" fill="#e88f92"/><rect x="387.38" fill="#eca4a5"/><rect x="389.38" fill="#eca0a1"/><rect x="391.37" fill="#f4caca"/><rect x="393.36" fill="#eda5a5"/><rect x="395.35" fill="#ea989a"/><rect x="397.35" fill="#e89193"/><rect x="399.34" fill="#e58084"/><rect x="401.33" fill="#f1bbbb"/><rect x="403.32" fill="#eda9a9"/><rect x="405.32" fill="#ea9799"/><rect x="407.31" fill="#f2c1c1"/><rect x="409.30" fill="#f4c8c8"/><rect x="411.29" fill="#eeadad"/><rect x="413.28" fill="#f0b8b8"/><rect x="415.28" fill="#f0b7b7"/><rect x="417.27" fill="#f3c4c4"/><rect x="419.26" fill="#f0b7b7"/><rect x="421.25" fill="#f0b7b7"/><rect x="423.25" fill="#e47c81"/><rect x="425.24" fill="#eeadad"/><rect x="427.23" fill="#f7d7d7"/><rect x="429.22" fill="#f5d1d1"/><rect x="431.22" fill="#f4cbcb"/><rect x="433.21" fill="#f0b4b4"/><rect x="435.20" fill="#f3c2c2"/><rect x="437.19" fill="#f7d6d6"/><rect x="439.18" fill="#e78b8e"/><rect x="441.18" fill="#f1b9b9"/><rect x="443.17" fill="#eda6a7"/><rect x="445.16" fill="#eb9d9e"/><rect x="447.15" fill="#f4cbcb"/><rect x="449.15" fill="#eeabab"/><rect x="451.14" fill="#f1bcbc"/><rect x="453.13" fill="#eca5a5"/><rect x="455.12" fill="#f0b6b6"/><rect x="457.12" fill="#eeabab"/><rect x="459.11" fill="#f1b9b9"/><rect x="461.10" fill="#e99597"/><rect x="463.09" fill="#e88f92"/><rect x="465.08" fill="#efb3b3"/><rect x="467.08" fill="#e89193"/><rect x="469.07" fill="#f2c1c1"/><rect x="471.06" fill="#ea9798"/><rect x="473.05" fill="#f3c4c4"/><rect x="475.05" fill="#f3c6c6"/><rect x="477.04" fill="#eba0a1"/><rect x="479.03" fill="#e27479"/><rect x="481.02" fill="#eda9a9"/><rect x="483.02" fill="#f3c3c3"/><rect x="485.01" fill="#f7d9d9"/></g>
<g transform="translate(0 155.05)"><rect x="357.50" fill="#f9e9e9"/><rect x="359.49" fill="#edb2b5"/><rect x="361.48" fill="#f7e0e0"/><rect x="363.48" fill="#f5dbdb"/><rect x="365.47" fill="#efbcbe"/><rect x="367.46" fill="#f4d5d5"/><rect x="369.45" fill="#f7e0e0"/><rect x="371.45" fill="#f7e2e2"/><rect x="373.44" fill="#f6dddd"/><rect x="375.43" fill="#f3d1d2"/><rect x="377.42" fill="#e8969a"/><rect x="379.42" fill="#f7e2e2"/><rect x="381.41" fill="#f5d9d9"/><rect x="383.40" fill="#f5dbdb"/><rect x="385.39" fill="#f6dede"/><rect x="387.38" fill="#faebeb"/><rect x="389.38" fill="#efbbbd"/><rect x="391.37" fill="#eeb7b9"/><rect x="393.36" fill="#f7e0e0"/><rect x="395.35" fill="#f6dede"/><rect x="397.35" fill="#f4d3d3"/><rect x="399.34" fill="#eeb4b6"/><rect x="401.33" fill="#f6dfdf"/><rect x="403.32" fill="#eeb7ba"/><rect x="405.32" fill="#f8e4e4"/><rect x="407.31" fill="#eeb4b6"/><rect x="409.30" fill="#fcf2f2"/><rect x="411.29" fill="#f6dfdf"/><rect x="413.28" fill="#f2cccd"/><rect x="415.28" fill="#f3d2d2"/><rect x="417.27" fill="#f6dede"/><rect x="419.26" fill="#f6dcdc"/><rect x="421.25" fill="#f4d5d5"/><rect x="423.25" fill="#eba5a8"/><rect x="425.24" fill="#f6dede"/><rect x="427.23" fill="#f8e3e3"/><rect x="429.22" fill="#f6dede"/><rect x="431.22" fill="#f7e0e0"/><rect x="433.21" fill="#f2c9ca"/><rect x="435.20" fill="#f7e0e0"/><rect x="437.19" fill="#f8e6e6"/><rect x="439.18" fill="#f8e5e5"/><rect x="441.18" fill="#f0c1c3"/><rect x="443.17" fill="#efbbbd"/><rect x="445.16" fill="#f1c4c5"/><rect x="447.15" fill="#f8e4e4"/><rect x="449.15" fill="#f3cecf"/><rect x="451.14" fill="#f2cbcc"/><rect x="453.13" fill="#f0bebf"/><rect x="455.12" fill="#f7e1e1"/><rect x="457.12" fill="#f5dbdb"/><rect x="459.11" fill="#f6dfdf"/><rect x="461.10" fill="#f6dfdf"/><rect x="463.09" fill="#f7e1e1"/><rect x="465.08" fill="#faeeee"/><rect x="467.08" fill="#f5dada"/><rect x="469.07" fill="#f6dede"/><rect x="471.06" fill="#f2c9ca"/><rect x="473.05" fill="#f7e3e3"/><rect x="475.05" fill="#f6dede"/><rect x="477.04" fill="#f3cecf"/><rect x="479.03" fill="#edafb1"/><rect x="481.02" fill="#f9eaea"/><rect x="483.02" fill="#f7e2e2"/><rect x="485.01" fill="#f4d4d4"/></g>
<g transform="translate(0 161.27)"><rect x="357.50" fill="#edacae"/><rect x="359.49" fill="#f0bfc0"/><rect x="361.48" fill="#f2c7c7"/><rect x="363.48" fill="#f6d7d7"/><rect x="365.47" fill="#f5d6d6"/><rect x="367.46" fill="#f3cbcb"/><rect x="369.45" fill="#f1c4c4"/><rect x="371.45" fill="#f7dcdc"/><rect x="373.44" fill="#f3caca"/><rect x="375.43" fill="#f2c7c8"/><rect x="377.42" fill="#efb8b9"/><rect x="379.42" fill="#faebeb"/><rect x="381.41" fill="#edacae"/><rect x="383.40" fill="#edaeb0"/><rect x="385.39" fill="#eba4a7"/><rect x="387.38" fill="#f3cbcb"/><rect x="389.38" fill="#f5d4d4"/><rect x="391.37" fill="#eeb1b3"/><rect x="393.36" fill="#f3cccc"/><rect x="395.35" fill="#f0bdbe"/><rect x="397.35" fill="#e58489"/><rect x="399.34" fill="#f3cdcd"/><rect x="401.33" fill="#f3cbcb"/><rect x="403.32" fill="#f6dada"/><rect x="405.32" fill="#f7dcdc"/><rect x="407.31" fill="#f5d5d5"/><rect x="409.30" fill="#f8e1e1"/><rect x="411.29" fill="#f6d8d8"/><rect x="413.28" fill="#efb8b9"/><rect x="415.28" fill="#f2c5c5"/><rect x="417.27" fill="#f4d0d0"/><rect x="419.26" fill="#f2c9c9"/><rect x="421.25" fill="#f4d1d1"/><rect x="423.25" fill="#f2c6c6"/><rect x="425.24" fill="#f8e0e0"/><rect x="427.23" fill="#f8e0e0"/><rect x="429.22" fill="#f4d0d0"/><rect x="431.22" fill="#f8e2e2"/><rect x="433.21" fill="#f5d3d3"/><rect x="435.20" fill="#f1c2c3"/><rect x="437.19" fill="#f7dbdb"/><rect x="439.18" fill="#ecaaad"/><rect x="441.18" fill="#f6d7d7"/><rect x="443.17" fill="#efb7b9"/><rect x="445.16" fill="#f3cccc"/><rect x="447.15" fill="#f5d5d5"/><rect x="449.15" fill="#f6d9d9"/><rect x="451.14" fill="#faeaea"/><rect x="453.13" fill="#edadaf"/><rect x="455.12" fill="#f6dada"/><rect x="457.12" fill="#f5d5d5"/><rect x="459.11" fill="#f8e1e1"/><rect x="461.10" fill="#f2c7c8"/><rect x="463.09" fill="#f2c5c5"/><rect x="465.08" fill="#fcf0f0"/><rect x="467.08" fill="#f7dbdb"/><rect x="469.07" fill="#f7dfdf"/><rect x="471.06" fill="#e89599"/><rect x="473.05" fill="#e6898e"/><rect x="475.05" fill="#f1c2c3"/><rect x="477.04" fill="#eca9ab"/><rect x="479.03" fill="#f4cfcf"/><rect x="481.02" fill="#f7dbdb"/><rect x="483.02" fill="#f7dede"/><rect x="485.01" fill="#f5d6d6"/></g>
</g>
<text x="490.30" y="36.13" font-size="7" fill="#2a2a2a" stroke="#2a2a2a">Cebpe</text>
<text x="490.30" y="42.36" font-size="7" fill="#2a2a2a" stroke="#2a2a2a">Ltf</text>
<text x="490.30" y="48.59" font-size="7" fill="#2a2a2a" stroke="#2a2a2a">Ngp</text>
<text x="490.30" y="54.82" font-size="7" fill="#2a2a2a" stroke="#2a2a2a">Camp</text>
<text x="490.30" y="61.04" font-size="7" fill="#2a2a2a" stroke="#2a2a2a">Chil3</text>
<text x="490.30" y="67.27" font-size="7" fill="#2a2a2a" stroke="#2a2a2a">Ifitm6</text>
<text x="490.30" y="73.50" font-size="7" fill="#2a2a2a" stroke="#2a2a2a">Fcnb</text>
<text x="490.30" y="79.72" font-size="7" fill="#2a2a2a" stroke="#2a2a2a">Cxcr4</text>
<text x="490.30" y="85.95" font-size="7" fill="#2a2a2a" stroke="#2a2a2a">Prok2</text>
<text x="490.30" y="92.18" font-size="7" fill="#2a2a2a" stroke="#2a2a2a">S100a6</text>
<text x="490.30" y="98.41" font-size="7" fill="#2a2a2a" stroke="#2a2a2a">Mmp25</text>
<text x="490.30" y="104.63" font-size="7" fill="#2a2a2a" stroke="#2a2a2a">Mmp8</text>
<text x="490.30" y="110.86" font-size="7" fill="#2a2a2a" stroke="#2a2a2a">Retnlg</text>
<text x="490.30" y="117.09" font-size="7" fill="#2a2a2a" stroke="#2a2a2a">CD101</text>
<text x="490.30" y="123.32" font-size="7" fill="#2a2a2a" stroke="#2a2a2a">Sell</text>
<text x="490.30" y="129.54" font-size="7" fill="#2a2a2a" stroke="#2a2a2a">Ifitm1</text>
<text x="490.30" y="135.77" font-size="7" fill="#2a2a2a" stroke="#2a2a2a">Csf3r</text>
<text x="490.30" y="142.00" font-size="7" fill="#2a2a2a" stroke="#2a2a2a">Jaml</text>
<text x="490.30" y="148.22" font-size="7" fill="#2a2a2a" stroke="#2a2a2a">Ccl6</text>
<text x="490.30" y="154.45" font-size="7" fill="#2a2a2a" stroke="#2a2a2a">Il1b</text>
<text x="490.30" y="160.68" font-size="7" fill="#2a2a2a" stroke="#2a2a2a">Cxcr2</text>
<text x="490.30" y="166.91" font-size="7" fill="#2a2a2a" stroke="#2a2a2a">Wfdc</text>
<text x="352.00" y="180.22" font-size="7.56" fill="#2a2a2a" stroke="#2a2a2a" textLength="21.00" lengthAdjust="spacingAndGlyphs">Z-score</text>
<defs><linearGradient id="zg" x1="0" x2="1" y1="0" y2="0"><stop offset="0" stop-color="#2e3a96"/><stop offset="0.25" stop-color="#8e92cc"/><stop offset="0.514" stop-color="#ffffff"/><stop offset="0.76" stop-color="#f4b09c"/><stop offset="1" stop-color="#d02a1e"/></linearGradient></defs>
<rect x="325.8" y="182.9" width="73.2" height="7.5" fill="url(#zg)"/>
<text x="322.50" y="199.42" font-size="7.56" fill="#2a2a2a" stroke="#2a2a2a" textLength="16.00" lengthAdjust="spacingAndGlyphs">−2.34</text>
<text x="363.50" y="199.22" font-size="7" fill="#3a3a3a" stroke="#3a3a3a" text-anchor="middle">0</text>
<text x="386.50" y="199.42" font-size="7.56" fill="#2a2a2a" stroke="#2a2a2a" textLength="12.50" lengthAdjust="spacingAndGlyphs">2.21</text>
<text x="7.99" y="231.40" font-size="10.5" font-weight="bold" fill="#000" stroke="#000" stroke-width="0.35" textLength="8.34" lengthAdjust="spacingAndGlyphs">C</text>
<line x1="42.10" y1="238.50" x2="42.10" y2="401.80" stroke="#111" stroke-width="1.2"/>
<line x1="41.50" y1="401.20" x2="202.00" y2="401.20" stroke="#111" stroke-width="1.2"/>
<line x1="39.30" y1="241.20" x2="42.10" y2="241.20" stroke="#111" stroke-width="0.9"/>
<text x="35.50" y="243.08" font-size="6.6" fill="#3a3a3a" stroke="#3a3a3a" text-anchor="end">7</text>
<line x1="39.30" y1="294.20" x2="42.10" y2="294.20" stroke="#111" stroke-width="0.9"/>
<text x="35.50" y="296.08" font-size="6.6" fill="#3a3a3a" stroke="#3a3a3a" text-anchor="end">3.01</text>
<line x1="39.30" y1="346.80" x2="42.10" y2="346.80" stroke="#111" stroke-width="0.9"/>
<text x="35.50" y="348.68" font-size="6.6" fill="#3a3a3a" stroke="#3a3a3a" text-anchor="end">−0.98</text>
<line x1="39.30" y1="399.80" x2="42.10" y2="399.80" stroke="#111" stroke-width="0.9"/>
<text x="35.50" y="401.68" font-size="6.6" fill="#3a3a3a" stroke="#3a3a3a" text-anchor="end">−4.97</text>
<line x1="43.10" y1="401.20" x2="43.10" y2="403.60" stroke="#111" stroke-width="0.9"/>
<text x="43.30" y="412.98" font-size="6.6" fill="#3a3a3a" stroke="#3a3a3a" text-anchor="middle">−8.9</text>
<line x1="95.70" y1="401.20" x2="95.70" y2="403.60" stroke="#111" stroke-width="0.9"/>
<text x="95.70" y="412.98" font-size="6.6" fill="#3a3a3a" stroke="#3a3a3a" text-anchor="middle">−5.6</text>
<line x1="147.60" y1="401.20" x2="147.60" y2="403.60" stroke="#111" stroke-width="0.9"/>
<text x="147.60" y="412.98" font-size="6.6" fill="#3a3a3a" stroke="#3a3a3a" text-anchor="middle">−2.3</text>
<line x1="199.50" y1="401.20" x2="199.50" y2="403.60" stroke="#111" stroke-width="0.9"/>
<text x="199.50" y="412.98" font-size="6.6" fill="#3a3a3a" stroke="#3a3a3a" text-anchor="middle">1</text>
<text x="108.90" y="425.31" font-size="8.64" fill="#2a2a2a" stroke="#2a2a2a" textLength="24.90" lengthAdjust="spacingAndGlyphs">UMAP 1</text>
<text x="-12.15" y="3.31" font-size="9.2" fill="#2a2a2a" stroke="#2a2a2a" textLength="24.30" lengthAdjust="spacingAndGlyphs" transform="translate(12.10 319.50) rotate(-90)">UMAP 2</text>
<path d="M169.1 315.2h0M124.8 339.4h0M140.0 276.9h0M156.3 298.9h0M109.5 337.3h0M71.8 383.9h0M65.0 374.4h0M172.0 293.6h0M178.3 276.6h0M68.2 368.0h0M114.4 362.3h0M109.0 303.3h0M91.9 375.7h0M111.1 333.4h0M89.9 366.0h0M93.7 367.7h0M73.3 352.8h0M174.3 258.9h0M88.6 376.7h0M161.3 295.7h0M126.8 282.6h0M187.2 265.6h0M152.8 274.0h0M78.4 382.1h0M185.3 271.0h0M134.7 313.3h0M138.5 314.7h0M148.5 285.0h0M81.2 356.5h0M106.9 340.3h0M122.5 308.9h0M55.0 358.0h0M100.2 339.1h0M106.1 310.2h0M64.2 360.2h0M119.6 312.6h0M129.3 273.6h0M115.3 313.3h0M73.7 352.4h0M88.2 371.6h0M75.4 377.2h0M55.3 363.4h0M111.3 343.5h0M58.6 378.6h0M72.1 382.7h0M123.6 288.7h0M118.5 319.5h0M175.1 282.8h0M84.6 357.7h0M83.6 341.2h0M91.3 376.2h0M176.8 268.9h0M121.8 342.3h0M112.5 293.8h0M86.1 375.8h0M130.5 305.6h0M104.0 358.0h0M91.5 371.5h0M182.2 269.1h0M110.2 344.8h0M57.6 364.1h0M166.4 288.5h0M66.3 363.4h0M175.3 287.9h0M57.0 367.7h0M91.5 355.1h0M63.6 374.9h0M54.4 365.1h0M89.1 351.5h0M158.5 313.1h0M122.9 292.3h0M174.9 315.7h0M87.7 372.0h0M160.6 282.2h0M127.4 281.0h0M88.2 361.1h0M85.6 339.4h0M99.6 367.6h0M92.2 333.9h0M74.3 375.7h0M167.4 299.1h0M81.4 371.8h0M97.0 340.0h0M106.3 337.9h0M94.0 311.6h0M112.3 305.5h0M134.4 270.8h0M58.4 364.1h0M102.2 325.8h0M83.5 358.8h0M99.4 356.1h0M65.7 384.6h0M96.0 352.2h0M55.7 368.5h0M166.2 296.4h0M68.9 344.1h0M63.7 354.3h0M104.2 351.7h0M91.5 345.5h0M134.6 309.5h0M116.3 337.0h0M114.6 334.8h0M113.9 319.8h0M124.7 303.1h0M69.3 353.5h0M142.0 326.7h0M149.6 299.0h0M79.4 369.0h0M62.2 370.9h0M142.3 311.7h0M99.4 363.3h0M129.5 281.2h0M122.0 302.6h0M66.4 361.0h0M164.9 322.0h0M88.1 346.7h0M91.3 341.1h0M97.7 319.7h0M187.4 301.3h0M127.5 331.9h0M130.1 327.2h0M90.2 364.8h0M161.4 305.3h0M72.4 369.2h0M135.7 341.8h0M121.8 324.4h0M119.0 320.4h0M82.3 354.7h0M141.5 274.8h0M121.2 349.7h0M78.1 370.3h0M57.2 381.8h0M119.6 294.5h0M129.1 280.6h0M110.0 349.8h0M120.3 309.1h0M137.5 304.0h0M135.2 282.0h0M181.3 263.1h0M161.3 315.6h0M127.7 299.4h0M90.2 352.3h0M155.1 319.6h0M146.5 340.9h0M98.2 373.8h0M162.5 321.2h0M166.8 292.4h0M171.3 268.3h0M62.4 364.9h0M54.0 366.6h0M98.6 342.9h0M73.9 354.7h0M87.2 365.1h0M163.4 299.8h0M57.8 371.3h0M137.8 314.2h0M187.4 300.6h0M141.9 288.5h0M93.8 349.0h0M132.0 313.7h0M104.9 362.1h0M55.7 363.0h0M61.7 367.6h0M115.8 307.6h0M107.8 351.7h0M108.2 294.0h0M68.6 355.5h0M109.5 331.5h0M71.8 386.5h0M74.6 375.3h0M142.1 277.1h0M62.8 371.6h0M87.8 363.3h0M128.5 291.6h0M60.3 379.2h0M159.3 273.0h0M152.0 301.6h0M108.3 363.2h0M61.0 360.1h0M60.0 351.4h0M124.6 290.5h0M124.8 296.6h0M131.4 341.1h0M137.7 279.3h0M144.8 297.6h0M91.0 365.4h0M68.6 371.4h0M113.7 345.7h0M67.5 362.6h0M97.1 317.9h0M147.7 288.7h0M133.5 351.0h0M86.3 333.5h0M148.9 311.0h0M86.6 355.2h0M83.1 370.6h0M97.5 370.7h0M96.0 372.9h0M126.3 278.6h0M87.0 333.6h0M73.2 366.1h0M169.0 292.7h0M166.5 281.3h0M166.2 295.2h0M96.2 370.3h0M62.7 384.9h0M131.5 335.2h0M151.8 309.5h0M93.4 377.8h0M110.5 338.1h0M87.6 365.9h0M79.7 362.8h0M180.2 295.8h0M122.5 347.3h0M56.5 357.1h0M72.3 373.1h0M126.0 290.7h0M87.9 370.7h0M64.1 385.9h0M69.1 383.3h0M106.0 314.7h0M63.5 383.4h0M167.2 286.6h0M178.6 266.3h0M131.7 272.5h0M69.9 382.4h0M113.1 357.8h0M107.6 321.9h0M141.3 331.6h0M153.1 302.6h0M123.2 349.9h0M111.8 334.1h0M96.8 314.1h0M126.4 282.5h0M98.4 354.6h0M76.3 375.2h0M149.3 275.7h0M105.3 361.5h0M108.6 346.0h0M157.5 309.0h0M114.2 331.0h0M102.7 362.5h0M112.8 354.2h0M99.2 370.9h0M118.4 323.5h0M115.2 357.0h0M79.3 381.0h0M64.7 364.6h0M133.4 338.5h0M86.9 340.3h0M94.9 317.8h0M97.2 362.0h0M156.1 288.8h0M84.5 356.5h0M55.5 377.1h0M71.7 387.0h0M65.4 376.1h0M75.8 366.1h0M63.2 368.7h0M172.5 312.2h0M114.5 336.9h0M74.9 373.3h0M179.6 284.1h0M178.2 269.6h0M156.5 290.8h0M112.9 358.4h0M77.3 364.7h0M95.4 350.0h0M144.5 292.0h0M68.4 350.5h0M151.1 273.6h0M158.0 320.9h0M85.1 361.5h0M136.5 331.4h0M91.2 376.7h0M125.2 306.3h0M75.1 342.7h0M82.6 364.3h0M180.0 307.0h0M63.3 351.8h0M67.0 373.9h0M84.6 361.0h0M128.1 323.3h0M57.8 361.6h0M60.1 353.7h0M116.6 296.4h0M66.5 358.0h0M128.0 281.6h0M73.4 359.7h0M54.8 367.5h0M92.0 375.4h0M137.6 285.9h0M77.3 383.3h0M164.5 289.0h0M119.9 301.3h0M62.3 382.9h0M100.7 330.5h0M70.7 357.2h0M72.0 387.8h0M82.8 367.8h0M148.2 276.9h0M112.3 322.9h0M87.7 367.1h0M154.3 268.3h0M92.4 353.6h0M90.9 377.7h0M124.4 297.5h0M118.6 290.3h0M133.7 319.1h0M120.6 298.4h0M118.4 342.8h0M153.2 321.7h0M175.8 290.2h0M152.8 301.5h0M89.7 348.3h0M148.9 308.5h0M65.5 351.6h0M122.7 288.4h0M183.5 287.2h0M179.0 306.0h0M90.7 376.6h0M128.2 336.2h0M101.4 371.2h0M99.2 321.6h0M181.6 269.5h0M86.5 368.6h0M173.8 307.8h0M83.1 334.8h0M68.9 381.9h0M60.7 347.3h0M108.8 310.5h0M86.5 381.4h0M152.3 285.1h0M121.1 348.2h0M81.8 372.3h0M143.4 337.7h0M97.6 361.1h0M146.7 322.1h0M55.2 366.5h0M64.8 365.8h0M62.9 372.2h0M65.0 379.5h0M183.1 304.9h0M86.2 359.4h0M77.6 376.7h0M58.4 364.9h0M122.5 294.9h0M140.7 307.6h0M114.5 339.5h0M89.9 362.2h0M113.0 361.6h0M82.8 364.4h0M152.7 278.5h0M131.8 284.2h0M150.7 312.8h0M82.2 366.9h0M162.7 277.1h0M102.4 330.9h0M189.0 303.5h0M95.3 326.5h0M84.3 345.0h0M81.3 381.0h0M60.2 363.3h0M170.0 310.8h0M71.3 367.2h0M163.1 296.4h0M163.0 298.0h0M87.7 381.0h0M171.7 312.2h0M59.9 380.9h0M133.4 291.8h0M74.3 385.0h0M61.2 356.5h0M129.0 343.0h0M122.9 330.8h0M102.5 313.2h0M55.8 366.0h0M166.1 313.5h0M149.0 289.5h0M78.9 370.8h0M185.0 270.8h0M167.9 308.9h0M121.4 345.4h0M97.2 330.4h0M100.0 372.5h0M98.9 360.5h0M117.0 307.3h0M174.1 262.4h0M92.4 362.8h0M142.9 312.8h0M99.5 368.3h0M94.1 353.1h0M100.1 354.5h0M92.2 373.5h0M121.7 300.6h0M128.6 347.2h0M138.6 317.6h0M85.7 383.0h0M126.7 349.4h0M69.8 347.1h0M58.1 353.0h0M64.0 372.5h0M131.3 295.5h0M116.5 338.3h0M167.5 276.9h0M120.4 328.3h0M161.5 322.6h0M140.3 344.9h0M169.2 289.9h0M68.9 376.9h0M160.7 274.7h0M71.6 366.3h0M97.5 352.7h0M143.9 295.5h0M77.5 386.9h0M82.1 345.1h0M71.4 367.8h0M183.1 286.2h0M84.7 362.5h0M188.1 262.3h0M173.8 273.8h0M170.0 278.4h0M85.1 376.7h0M103.9 313.3h0M86.9 354.4h0M78.0 368.5h0M128.7 327.6h0M55.5 366.2h0M86.2 370.9h0M58.9 368.4h0M151.3 276.5h0M89.8 377.0h0M69.8 383.0h0M62.9 350.0h0M120.9 335.5h0M124.2 280.4h0M66.9 357.1h0M160.4 267.0h0M121.7 354.4h0M124.9 308.0h0M72.7 368.5h0M164.2 322.9h0M95.1 367.3h0M154.9 318.1h0M126.8 345.7h0M132.5 335.8h0M109.5 322.5h0M95.7 361.8h0M156.0 288.7h0M113.2 314.1h0M156.1 316.1h0M136.4 313.5h0M147.1 303.0h0M152.4 306.6h0M108.8 333.0h0M89.6 373.3h0M70.1 383.1h0M79.1 382.4h0M87.1 375.4h0M121.6 292.4h0M116.8 288.0h0M58.0 362.6h0M105.4 366.3h0M76.7 363.6h0M146.9 280.8h0M77.5 371.0h0M63.6 369.2h0M138.5 307.5h0M156.4 267.4h0M124.6 320.6h0M180.2 274.7h0M81.5 364.3h0M110.8 322.5h0M154.8 334.4h0M98.9 365.3h0M119.0 287.7h0M85.5 380.8h0M78.5 367.3h0M117.2 328.6h0M64.8 363.0h0M101.4 303.8h0M158.8 319.9h0M154.8 288.6h0M182.4 293.6h0M141.7 285.3h0M69.3 344.8h0M67.9 375.4h0M132.2 301.9h0M72.9 363.5h0M70.0 377.8h0M59.8 374.1h0M99.9 364.1h0M164.1 272.6h0M104.3 314.8h0M91.3 357.0h0M184.3 290.4h0M103.4 362.2h0M75.0 372.4h0M78.5 359.6h0M119.3 327.9h0M161.3 326.6h0M141.8 306.6h0M153.0 322.3h0M109.5 363.6h0M183.4 310.1h0M59.6 369.5h0M110.1 330.2h0M67.0 364.9h0M180.3 284.2h0M175.6 295.6h0M90.9 372.3h0M159.9 311.5h0M125.1 317.8h0M146.3 286.2h0M84.7 373.8h0M87.7 360.4h0M63.4 363.6h0M127.9 332.6h0M113.3 357.0h0M170.5 273.3h0M112.1 299.7h0M142.7 283.5h0M78.8 362.8h0M59.0 366.1h0M92.2 364.7h0M114.7 320.7h0M83.2 371.4h0M85.7 377.7h0M140.1 345.0h0M66.4 350.5h0M187.4 298.5h0M59.1 373.7h0M67.9 374.4h0M135.0 291.5h0M151.3 319.6h0M169.6 314.5h0M149.1 326.1h0M97.6 372.4h0M104.5 360.4h0M159.6 306.6h0M133.0 328.5h0M78.7 367.9h0M129.2 303.2h0M129.6 287.4h0M63.5 357.7h0M127.0 289.2h0M170.1 310.9h0M78.6 362.5h0M121.1 288.7h0M85.5 365.9h0M136.0 298.1h0M154.7 330.8h0M94.8 342.2h0M156.2 279.9h0M140.5 348.3h0M112.0 352.7h0M157.5 301.5h0M188.0 297.9h0M109.4 348.4h0M143.7 293.9h0M141.6 279.8h0M98.6 356.1h0M95.1 347.8h0M163.8 295.8h0M109.1 361.6h0M162.2 270.6h0M140.1 294.2h0M117.0 319.3h0M101.6 356.1h0M72.4 381.2h0M118.1 346.9h0M187.7 296.7h0M109.9 328.5h0M96.7 330.9h0M133.7 303.3h0M151.6 336.9h0M172.2 274.9h0M168.9 297.1h0M105.3 355.1h0M100.9 342.2h0M66.7 367.9h0M75.3 384.8h0M174.1 304.5h0M69.3 365.2h0M69.4 376.2h0M163.9 321.4h0M186.2 288.2h0M131.3 308.4h0M139.6 343.6h0M125.3 338.5h0M97.2 315.8h0M152.8 295.0h0M109.5 298.4h0M123.4 320.9h0M106.4 298.9h0M130.8 276.4h0M186.8 280.5h0M97.4 356.5h0M185.8 262.5h0M81.2 368.7h0M84.6 367.4h0M100.8 362.8h0M150.2 325.8h0M165.7 303.9h0M65.6 350.4h0M94.6 372.6h0M149.0 285.1h0M73.2 382.0h0M71.9 358.0h0M104.7 302.7h0M187.1 282.1h0M87.1 378.6h0M80.0 378.7h0M84.2 369.2h0M109.6 351.8h0M109.8 351.2h0M144.4 330.3h0M110.5 313.5h0M100.3 316.1h0M110.2 353.6h0M67.5 357.5h0M184.1 285.0h0M63.1 369.0h0M105.4 296.4h0M160.9 297.9h0M89.6 350.6h0M64.4 380.4h0M153.2 322.2h0M171.6 264.5h0M83.8 350.2h0M116.7 333.1h0M123.8 304.6h0M184.9 287.9h0M90.7 366.5h0M65.8 363.3h0M89.3 371.0h0M149.6 294.6h0M72.9 363.2h0M58.9 363.3h0M159.8 313.4h0M125.8 353.9h0M58.5 360.5h0M186.5 261.9h0M145.2 279.8h0M72.5 361.2h0M180.5 281.1h0M54.5 357.5h0M101.0 320.7h0M76.1 386.7h0M102.0 361.4h0M73.8 371.5h0M109.9 362.0h0M158.0 308.9h0M157.9 312.7h0M170.0 305.6h0M186.7 275.8h0M137.5 275.3h0M110.8 294.7h0M123.2 352.5h0M126.8 314.3h0M96.1 363.8h0M106.5 323.1h0M69.0 345.7h0M106.8 338.8h0M89.9 376.1h0M60.3 374.5h0M143.3 310.6h0M164.7 280.0h0M171.1 302.9h0M185.2 304.9h0M54.9 372.2h0M111.5 345.7h0M129.3 301.9h0M136.0 323.9h0M85.5 378.8h0M61.8 380.4h0M99.2 372.5h0M155.4 331.3h0M142.1 281.3h0M63.6 365.0h0M63.9 373.5h0M156.7 294.3h0M161.5 286.2h0M179.8 260.6h0M95.0 376.3h0M119.5 297.5h0M91.9 366.0h0M62.0 376.6h0M96.6 370.4h0M86.5 376.4h0M71.0 363.9h0M61.1 375.7h0M77.7 375.0h0M150.2 279.1h0M124.8 344.3h0M81.9 380.4h0M66.0 375.8h0M74.8 375.4h0M95.2 358.2h0M178.3 296.5h0M73.3 368.7h0M130.5 335.8h0M111.2 334.0h0M134.5 299.0h0M165.6 292.3h0M179.1 306.7h0M83.3 364.4h0M171.7 268.6h0M60.6 354.7h0M127.3 312.9h0M72.6 362.1h0M77.9 373.0h0M96.8 340.4h0M80.1 376.0h0M59.0 362.8h0M122.0 285.2h0M78.2 354.8h0M185.6 300.6h0M152.8 328.9h0M151.6 317.2h0M175.9 282.9h0M74.2 377.7h0M161.9 269.2h0M70.0 376.5h0M79.8 380.3h0M80.5 368.7h0M62.7 371.1h0M74.3 348.9h0M109.6 363.2h0M74.3 358.4h0M152.8 317.8h0M166.7 316.5h0M85.1 378.6h0M138.6 346.7h0M70.7 369.1h0M113.0 337.9h0M76.4 364.1h0M139.8 318.2h0M98.9 335.7h0M96.6 349.7h0M112.8 300.1h0M101.2 368.2h0M142.0 290.8h0M91.7 350.4h0M61.6 367.1h0M58.2 381.4h0M145.2 301.6h0M178.5 291.7h0M119.6 289.1h0M126.9 317.3h0M156.6 305.7h0M96.7 354.0h0M164.6 327.9h0M68.4 379.4h0M86.1 376.9h0M119.6 303.5h0M59.8 366.6h0M131.2 290.2h0M150.2 333.7h0M90.2 356.3h0M108.5 365.0h0M100.1 356.5h0M113.3 301.5h0M150.5 295.8h0M110.8 352.8h0M125.6 339.4h0M180.5 271.2h0M172.2 280.4h0M114.6 315.2h0M59.2 380.3h0M146.7 273.0h0M153.3 332.9h0M95.3 321.5h0M56.8 370.3h0M59.1 372.3h0M161.1 286.0h0M150.8 293.5h0M101.8 313.5h0M81.4 383.7h0M156.0 311.0h0M99.4 371.9h0M100.2 369.0h0M170.3 313.4h0M142.4 303.1h0M123.6 308.7h0M90.7 327.0h0M106.8 361.7h0M110.4 309.3h0M83.5 366.6h0M164.5 264.8h0M67.9 371.7h0M68.4 355.9h0M146.9 320.0h0M106.8 357.5h0M138.6 310.1h0M134.7 286.2h0M178.8 262.9h0M149.2 292.6h0M123.5 306.1h0M125.2 314.0h0M148.0 332.3h0M141.0 341.2h0M183.7 280.1h0M80.6 362.2h0M60.8 360.8h0" stroke="#2d4f9c" stroke-width="1.10" stroke-linecap="round" fill="none" opacity="0.9"/>
<path d="M95.2 359.3h0M156.5 291.2h0M117.5 345.6h0M126.6 311.4h0M104.3 314.5h0M122.7 299.1h0M96.6 333.3h0M80.4 364.5h0M138.9 284.2h0M91.0 330.2h0M164.3 270.3h0M144.5 277.5h0M139.5 309.4h0M131.0 275.4h0M146.3 275.1h0M126.9 326.2h0M144.4 311.2h0M177.1 307.0h0M59.4 359.5h0M169.2 279.1h0M176.0 281.8h0M147.8 307.3h0M125.3 311.0h0M129.6 323.5h0M154.2 278.2h0M103.4 324.9h0M172.0 311.3h0M154.3 315.0h0M102.0 348.8h0M120.7 350.9h0M174.5 298.9h0M145.4 322.0h0M178.5 298.9h0M110.6 298.1h0M59.3 357.0h0M150.6 305.7h0M123.1 346.5h0M138.9 290.3h0M178.8 262.2h0M173.8 307.4h0M117.6 296.1h0M101.5 327.2h0M159.4 298.9h0M178.1 271.6h0M109.8 300.4h0M160.0 288.1h0M166.6 309.3h0M98.6 366.1h0M105.6 338.9h0M64.1 345.9h0M129.2 298.7h0M140.9 326.8h0M152.4 278.7h0M122.0 296.3h0M125.9 336.2h0M100.7 358.7h0M180.8 302.3h0M87.4 331.4h0M182.0 279.2h0M135.2 276.4h0M103.6 361.4h0M97.4 336.6h0M108.4 324.6h0M155.9 285.2h0M65.8 341.5h0M58.3 362.3h0M68.5 348.6h0M144.4 300.1h0M75.9 376.6h0M73.9 355.5h0M159.5 274.6h0M122.6 302.3h0M141.8 288.9h0M67.2 370.2h0M108.3 333.3h0M154.0 283.6h0M149.0 326.8h0M123.6 344.2h0M90.1 350.8h0M90.4 331.2h0M111.0 308.3h0M142.8 278.1h0M151.3 286.1h0M108.6 342.5h0M148.8 331.2h0M177.0 304.9h0M110.4 332.4h0M86.2 344.9h0M188.7 259.0h0M185.1 299.1h0M148.0 301.8h0M129.5 325.4h0M176.2 284.1h0M64.4 346.0h0M121.3 328.9h0M110.0 296.1h0M150.4 338.8h0M145.8 276.9h0M109.2 328.2h0M98.9 360.6h0M154.6 275.8h0M128.0 291.7h0M144.8 320.6h0M105.7 321.3h0M87.8 330.5h0M137.9 311.4h0M131.7 336.6h0M143.3 281.4h0M105.5 296.0h0M132.2 312.5h0M151.1 333.2h0M93.0 358.1h0M121.9 287.8h0M132.4 277.4h0M85.7 336.7h0M124.4 347.2h0M127.5 306.0h0M112.0 322.3h0M152.1 305.2h0M128.7 346.2h0M116.4 302.4h0M137.6 348.8h0M105.5 357.2h0M169.5 284.6h0M127.0 319.1h0M176.7 303.0h0M108.7 346.1h0M74.2 356.8h0M69.5 369.5h0M184.4 274.0h0M94.1 366.1h0M124.6 318.3h0M76.0 341.1h0M79.8 360.4h0M163.7 277.4h0M59.9 350.5h0M136.3 329.4h0M125.1 304.2h0M184.8 257.3h0M106.5 322.9h0M121.6 316.3h0M132.8 332.9h0M178.0 297.0h0M112.6 355.8h0M148.4 297.7h0M120.4 343.9h0M160.9 290.6h0M179.6 311.2h0M115.1 332.3h0M87.2 375.3h0M144.9 286.0h0M135.1 278.5h0M184.8 274.4h0M162.3 302.6h0M129.5 294.4h0M99.7 347.7h0M164.5 303.2h0M71.6 352.2h0M174.0 298.5h0M163.8 293.9h0M79.1 340.5h0M118.1 343.8h0M119.5 309.8h0M123.6 288.3h0M127.7 346.0h0M179.4 285.3h0M179.8 307.4h0M93.2 342.2h0M178.9 276.6h0M164.2 291.3h0M170.1 289.9h0M123.5 282.6h0M185.8 287.1h0M93.3 344.0h0M124.5 327.1h0M110.7 352.3h0M88.0 370.6h0M110.5 315.2h0M151.8 302.8h0M120.4 322.0h0M174.2 265.2h0M123.8 307.5h0M158.6 277.8h0M96.2 340.9h0M145.0 317.4h0M81.7 358.9h0M114.7 322.7h0M94.9 323.3h0M131.6 329.5h0M78.2 366.0h0M106.5 335.2h0M176.4 279.0h0M115.5 333.8h0M131.1 313.6h0M176.2 305.8h0M108.6 302.6h0M134.0 310.6h0M61.0 360.1h0M74.8 359.8h0M113.8 315.4h0M136.8 319.8h0M153.1 291.9h0M118.0 333.0h0M108.8 338.9h0M161.9 273.8h0M127.4 340.7h0M114.7 338.8h0M178.9 303.5h0M143.5 308.9h0M143.1 287.3h0M165.9 290.5h0M164.0 293.7h0M103.4 307.8h0M133.6 310.6h0M91.1 371.3h0M90.8 326.3h0M91.9 328.5h0M172.6 269.7h0M107.3 368.5h0M149.6 304.0h0M172.8 259.6h0M150.6 279.8h0M105.2 326.3h0M140.3 348.1h0M72.3 344.8h0M142.1 333.7h0M108.0 326.2h0M134.8 308.4h0M118.5 312.4h0M67.3 362.3h0M170.9 301.1h0M151.6 308.8h0M110.4 342.0h0M179.0 300.5h0M139.8 345.7h0M171.5 266.7h0M103.9 327.0h0M87.5 336.9h0M77.4 355.8h0M161.4 273.7h0M97.5 329.5h0M164.8 270.4h0M171.0 274.9h0M163.7 274.3h0M121.2 312.8h0M115.2 312.1h0M127.5 329.6h0M175.5 269.7h0M157.4 296.8h0M177.3 288.9h0M99.3 335.0h0M113.5 327.4h0M166.5 286.0h0M92.0 377.7h0M140.4 298.9h0M131.5 287.5h0M98.8 306.5h0M164.6 326.8h0M180.3 300.6h0M106.2 309.3h0M96.4 325.3h0M161.3 329.1h0M150.6 307.7h0M90.9 321.5h0M92.2 358.1h0M117.9 327.6h0M144.1 315.2h0M144.7 318.9h0M161.4 274.4h0M125.0 290.7h0M114.5 319.5h0M100.7 352.5h0M106.2 340.8h0M103.4 316.5h0M80.3 372.5h0M84.7 341.1h0M178.6 276.8h0M168.4 275.4h0M69.9 382.3h0M175.3 307.4h0M117.9 307.2h0M177.1 288.3h0M162.0 277.4h0M170.4 280.7h0M117.4 343.8h0M164.2 311.0h0M71.0 351.4h0M132.4 309.2h0M177.4 310.3h0M135.2 344.8h0M143.5 274.6h0M185.2 301.4h0M76.3 352.2h0M100.3 319.7h0M118.2 330.5h0M57.9 365.0h0M109.5 339.6h0M169.4 273.5h0M154.8 274.6h0M176.4 271.3h0M55.9 374.4h0M179.5 275.6h0M97.1 337.3h0M113.5 342.4h0M150.0 319.3h0M137.8 319.3h0M135.2 336.6h0M168.8 271.5h0M155.4 303.0h0M132.4 281.7h0M79.7 372.9h0M173.1 298.0h0M175.7 273.1h0M133.4 280.6h0M94.5 323.6h0M122.3 281.0h0M80.0 339.1h0M155.8 325.1h0M169.9 322.7h0M156.0 305.1h0M182.9 291.8h0M164.6 314.1h0M150.9 292.8h0M127.7 348.2h0M102.6 350.6h0M124.1 306.1h0M165.7 292.2h0M54.8 355.0h0M148.7 286.5h0M168.4 310.7h0M181.7 294.9h0M110.1 341.2h0M160.6 314.6h0M91.5 336.6h0M91.4 331.8h0M125.6 288.1h0M86.8 340.0h0M127.2 302.4h0M81.1 342.6h0M136.2 325.5h0M176.3 262.7h0M134.6 327.0h0M127.6 289.4h0M72.5 381.6h0M121.3 344.6h0M153.4 334.4h0M107.0 299.7h0M146.1 282.8h0M98.4 313.3h0M128.3 314.8h0M100.2 313.5h0M121.7 298.9h0M167.0 322.4h0M92.7 344.1h0M108.5 295.8h0M128.0 280.8h0M62.1 358.6h0M107.1 302.2h0M115.8 356.4h0M138.7 341.4h0M144.3 274.7h0M147.1 271.1h0M127.7 318.1h0M146.7 279.2h0M124.2 296.8h0M172.3 266.5h0M121.5 299.3h0M138.5 300.7h0M84.3 345.5h0M117.5 325.5h0M112.2 306.2h0M76.1 371.1h0M152.3 299.4h0M69.0 342.0h0M174.9 315.2h0M87.7 333.8h0M152.0 297.4h0M160.1 295.8h0M178.8 312.0h0M81.4 347.9h0M174.8 265.1h0M101.5 347.4h0M106.4 323.4h0M97.8 372.8h0M121.6 320.2h0M101.9 336.1h0M67.1 372.8h0M93.5 373.2h0M129.1 312.2h0M115.7 336.6h0M96.8 313.7h0M126.2 329.8h0M188.1 294.4h0M129.3 330.6h0M132.3 297.5h0M106.2 328.8h0M78.1 376.9h0M114.8 347.4h0M93.5 324.0h0M120.7 303.4h0M164.2 305.3h0M154.2 285.6h0M163.3 328.7h0M138.4 281.8h0M178.6 283.4h0M164.4 298.0h0M75.5 379.8h0M133.3 321.8h0M126.0 345.2h0M186.0 288.7h0M99.4 323.0h0M90.8 333.2h0M107.1 326.7h0M112.1 359.1h0M114.3 341.1h0M97.2 335.9h0M87.6 352.6h0M176.4 303.8h0M170.0 304.5h0M113.8 315.7h0M92.6 333.6h0M120.9 315.4h0M116.7 316.2h0M166.8 284.6h0M179.0 285.0h0M135.3 341.9h0M174.4 276.6h0M179.6 312.3h0M179.6 312.6h0M85.1 355.3h0M113.7 295.4h0M178.7 272.8h0M128.6 283.0h0M96.9 352.4h0M113.5 290.8h0M139.0 334.8h0M141.0 273.9h0M116.1 303.2h0M166.8 271.8h0M139.6 316.0h0M112.7 302.0h0M87.5 332.3h0M171.4 278.6h0M163.7 306.7h0M53.9 360.9h0M187.9 262.9h0M154.5 321.7h0M189.6 300.1h0M183.5 273.1h0M132.6 334.8h0M177.0 273.6h0M129.7 334.6h0M181.0 268.1h0M139.9 342.2h0M76.6 380.9h0M167.6 271.6h0M127.5 287.3h0M180.1 262.6h0M86.1 331.7h0M181.3 286.0h0M167.2 305.4h0M87.9 365.3h0M150.3 298.1h0M89.7 350.9h0M164.8 272.1h0M136.9 277.3h0M137.2 286.4h0M134.9 282.1h0M124.3 282.4h0M182.1 278.1h0M95.3 343.6h0M152.5 325.4h0M157.2 304.5h0M162.2 295.6h0M99.8 347.5h0M131.4 291.1h0M94.1 350.4h0M135.3 345.5h0M153.3 294.0h0M94.5 344.9h0M107.1 355.1h0M181.0 259.3h0M131.6 305.2h0M165.6 319.4h0M147.0 277.4h0M99.1 373.5h0M187.1 264.8h0M89.7 335.5h0M130.2 280.9h0M103.5 312.5h0M128.0 343.4h0M115.5 320.1h0M157.3 286.3h0M133.9 306.1h0M98.6 308.6h0M188.0 301.0h0M155.7 314.2h0M115.0 341.4h0M112.9 347.1h0M110.3 292.2h0M52.8 361.6h0M145.4 320.9h0M136.3 335.9h0M166.5 296.4h0M133.4 308.3h0M157.9 304.7h0M141.7 324.3h0M108.6 315.6h0M115.2 329.3h0M75.4 387.3h0M138.6 306.5h0M133.4 335.1h0M147.3 273.8h0M127.3 350.9h0M109.6 294.7h0M168.0 313.5h0M54.1 365.6h0M91.0 345.2h0M164.4 307.6h0M162.9 325.0h0M137.1 311.7h0M82.2 360.2h0M98.4 324.8h0M126.7 321.8h0M153.7 275.6h0M143.3 331.1h0M94.9 359.8h0M97.9 323.9h0M163.5 304.6h0M113.5 348.9h0M105.1 326.2h0M141.1 287.0h0M140.8 338.4h0M150.0 298.6h0M143.4 272.6h0M182.6 263.6h0M141.4 309.7h0M79.1 349.9h0M129.4 280.8h0M164.6 310.2h0M177.7 316.0h0M132.6 312.8h0M125.1 290.8h0M70.3 372.1h0M169.7 292.2h0M121.8 283.2h0M88.5 361.8h0M88.2 335.1h0M102.1 326.4h0M181.2 274.5h0M122.9 305.6h0M124.2 277.2h0M138.6 287.7h0M132.2 316.7h0M174.2 312.9h0M146.8 314.3h0M164.9 289.3h0M182.7 304.9h0M62.0 358.2h0M150.4 282.5h0M77.0 336.6h0M141.9 308.1h0M149.6 301.9h0M121.1 340.4h0M179.1 296.3h0M121.8 282.3h0M60.9 356.6h0M127.5 284.9h0M127.8 315.7h0M102.8 360.1h0M91.8 361.8h0M130.3 317.3h0M119.8 295.6h0M159.4 294.2h0M171.1 274.3h0M111.5 304.7h0M130.7 307.0h0M171.6 310.7h0M145.6 332.2h0M112.8 297.7h0M160.5 302.9h0M164.0 309.9h0M127.4 331.1h0M99.9 329.1h0M159.1 316.5h0M159.3 298.0h0M132.2 321.8h0M124.9 318.2h0M131.8 329.5h0M175.1 266.9h0M141.7 276.2h0M69.7 348.7h0M150.7 327.5h0M115.2 313.0h0M163.4 322.0h0M171.2 300.1h0M108.1 348.0h0M156.5 312.4h0M105.3 360.5h0M134.0 320.2h0M138.4 321.7h0M178.5 298.8h0M177.4 264.2h0M138.2 332.3h0M176.8 269.8h0M94.8 348.7h0M90.4 351.1h0M138.5 317.3h0M145.7 319.9h0M83.9 336.1h0M143.1 311.1h0M151.4 309.5h0M111.0 344.3h0M106.6 298.2h0M168.1 308.6h0M93.0 347.6h0M113.3 335.9h0M137.2 295.8h0M110.5 357.9h0M134.7 342.7h0M102.1 316.9h0M128.3 305.4h0M164.4 314.4h0M188.5 299.3h0M129.6 340.3h0M153.8 278.1h0M148.1 271.7h0M112.1 346.9h0M188.8 288.5h0M99.1 333.5h0M148.5 331.3h0M105.5 313.0h0M105.4 301.5h0M71.8 341.5h0M148.6 333.0h0M148.8 336.1h0M104.3 356.1h0M177.2 314.4h0M108.8 338.4h0M159.5 311.4h0M137.5 348.0h0M150.0 330.1h0M177.2 272.4h0M137.8 287.5h0M111.5 363.5h0M96.0 359.0h0M72.6 338.6h0M182.4 264.9h0M171.3 285.2h0M173.9 269.6h0M170.1 293.0h0M102.9 358.5h0M68.8 368.1h0M159.3 288.7h0M185.5 304.2h0M153.5 328.5h0M173.7 286.3h0M160.3 298.6h0M97.5 336.6h0M156.2 308.3h0M111.7 337.2h0M91.1 347.2h0M97.5 331.2h0M186.3 258.7h0M185.2 269.5h0M182.0 298.9h0M133.8 348.3h0M182.3 269.2h0M112.8 306.8h0M152.3 273.8h0M156.9 316.7h0M115.2 332.5h0M152.4 325.9h0M80.0 355.8h0M123.6 280.4h0M67.6 378.1h0M162.2 325.8h0M69.6 347.7h0M131.5 288.9h0M142.3 315.4h0M119.0 346.4h0M179.9 292.0h0M58.5 369.1h0M162.4 271.4h0M79.4 336.2h0M79.3 375.0h0M139.2 279.8h0M152.6 290.7h0M98.5 330.6h0M61.8 373.8h0M175.7 275.4h0M119.8 297.0h0M68.5 351.0h0M113.7 344.6h0M85.7 337.1h0M107.3 319.9h0M85.4 338.7h0M104.2 311.1h0M93.5 324.4h0M105.2 308.2h0M161.9 303.4h0M99.3 344.2h0M85.4 354.1h0M125.8 340.2h0M174.5 277.0h0M118.0 351.7h0M177.1 280.2h0M150.9 327.6h0M171.4 309.7h0M172.6 278.2h0M110.8 313.8h0M99.2 369.2h0M121.2 298.1h0M114.4 334.9h0M159.8 316.2h0M138.6 308.4h0M142.6 318.5h0M169.6 303.3h0M139.9 326.2h0M129.5 291.4h0M158.7 322.3h0M90.5 345.0h0M145.9 303.9h0M132.4 346.3h0M142.9 339.1h0M91.2 321.4h0M135.4 334.3h0M122.8 307.8h0M151.5 308.9h0M108.5 310.4h0M78.2 385.0h0M143.2 277.3h0M140.5 276.0h0M133.1 290.1h0M125.8 336.7h0M82.2 350.4h0M160.3 323.2h0M169.3 265.9h0M139.7 275.5h0M92.8 337.9h0M83.2 366.9h0M178.6 295.2h0M107.0 359.2h0M128.6 313.8h0M134.6 300.4h0M131.8 274.8h0M57.2 356.8h0M135.9 276.8h0M144.2 281.3h0M181.8 277.3h0M179.6 270.4h0M132.2 320.5h0M156.2 292.4h0M180.9 264.9h0M122.8 329.5h0M183.7 290.4h0M147.9 307.6h0M114.4 357.2h0M128.1 278.5h0M111.8 302.1h0M152.7 298.7h0M152.1 328.8h0M124.5 317.7h0M121.8 350.4h0M139.8 294.0h0M102.9 367.3h0M160.2 319.1h0M96.2 321.3h0M83.1 333.8h0M61.3 355.8h0M154.6 270.8h0M135.8 271.9h0M114.4 342.1h0M128.2 342.4h0M152.8 298.1h0M177.9 265.6h0M149.5 319.7h0M82.5 342.4h0M133.9 286.0h0M85.0 344.8h0M60.6 356.3h0M107.6 309.9h0M134.7 329.0h0M165.1 265.2h0M146.3 335.2h0M124.8 326.8h0" stroke="#cc4a32" stroke-width="1.10" stroke-linecap="round" fill="none" opacity="0.9"/>
<path d="M133.0 343.6h0M170.0 278.8h0M91.0 372.2h0M73.6 367.2h0M137.0 282.5h0M75.0 382.9h0M70.5 365.9h0M91.9 374.3h0M67.7 369.3h0M92.4 367.1h0M70.9 364.5h0M74.4 379.8h0M106.0 366.7h0M153.6 301.0h0M102.4 312.0h0M105.2 298.5h0M66.1 358.3h0M77.0 368.1h0M128.5 306.5h0M86.2 361.0h0M163.8 327.6h0M140.1 293.1h0M179.6 281.8h0M70.7 383.7h0M133.3 316.6h0M101.1 372.8h0M59.0 369.9h0M180.4 300.3h0M97.3 314.4h0M99.7 337.1h0M137.1 305.0h0M172.2 287.1h0M178.0 312.1h0M65.3 375.1h0M75.0 379.0h0M100.8 366.0h0M67.8 386.5h0M88.7 337.4h0M131.3 302.3h0M78.3 372.1h0M86.4 369.5h0M102.4 335.3h0M81.5 375.3h0M69.9 378.4h0M155.6 296.5h0M157.5 291.9h0M59.5 350.1h0M99.5 327.2h0M74.6 347.1h0M154.4 327.2h0M67.4 383.2h0M182.0 276.7h0M129.9 326.1h0M171.2 310.5h0M169.4 266.7h0M160.7 315.8h0M131.1 320.0h0M125.7 339.5h0M145.1 331.0h0M89.0 367.2h0M90.2 362.7h0M172.9 304.9h0M64.9 356.5h0M80.9 350.5h0M149.2 291.1h0M145.3 328.9h0M139.8 305.1h0M74.1 370.4h0M183.3 261.6h0M66.2 382.2h0M109.4 342.9h0M69.5 342.6h0M177.9 297.0h0M124.7 354.4h0M125.9 305.1h0M75.5 362.1h0M82.2 375.4h0M187.3 299.4h0M129.5 336.5h0M70.4 352.8h0M95.0 348.2h0M74.0 376.3h0M86.6 363.1h0M140.9 305.8h0M114.6 310.9h0M110.1 361.1h0M86.1 360.7h0M145.6 271.6h0M122.9 310.3h0M154.7 308.5h0M73.9 363.1h0M149.4 332.4h0M177.4 286.5h0M155.3 272.6h0M112.5 341.7h0M139.6 321.0h0M165.3 270.6h0M75.3 373.8h0M111.9 311.9h0M157.5 293.3h0M100.1 324.5h0M143.6 313.8h0M178.2 306.5h0M110.4 318.5h0M151.0 294.0h0M120.3 286.7h0M79.3 349.2h0M150.0 275.0h0M57.5 373.6h0M164.1 316.6h0M62.4 354.5h0M77.5 343.5h0M160.7 291.4h0M77.7 374.7h0M55.0 368.5h0M114.9 309.0h0M165.3 316.7h0M144.2 313.9h0M136.3 284.3h0M62.8 365.3h0M107.7 360.3h0M97.0 358.3h0M161.5 324.3h0M148.0 290.3h0M117.0 349.1h0M158.5 307.1h0M112.8 342.1h0M93.1 373.9h0M116.4 327.7h0M149.5 272.4h0M102.2 361.3h0M110.4 343.7h0M117.9 343.4h0M173.3 310.0h0M123.6 347.4h0M125.0 339.7h0M99.2 343.6h0M170.7 281.6h0M128.3 324.3h0M91.3 358.1h0M59.9 375.6h0M96.4 353.4h0M63.4 367.8h0M101.7 365.4h0M111.6 325.2h0M162.3 269.5h0M177.2 299.9h0M116.5 344.1h0M62.2 368.2h0M149.0 274.7h0M112.4 352.0h0M84.4 377.3h0M176.9 265.4h0M91.2 377.6h0M129.9 346.2h0M131.7 283.9h0M74.4 385.9h0M96.4 332.4h0M71.7 368.0h0M137.5 319.3h0M159.6 302.4h0M135.7 273.4h0M69.9 368.1h0M118.2 296.9h0M117.8 293.7h0M123.4 329.1h0M172.2 288.8h0M119.6 307.5h0M83.9 370.4h0M73.0 368.0h0M59.6 381.8h0M80.0 385.7h0M79.8 367.8h0M72.2 357.6h0M55.9 366.1h0M75.7 346.7h0M160.6 291.7h0M70.5 373.8h0M61.4 382.3h0M70.4 371.3h0M114.9 353.3h0M82.6 371.2h0M75.3 387.4h0M139.4 329.9h0M172.4 269.8h0M95.9 372.6h0M72.9 372.3h0M75.3 359.9h0M62.6 346.4h0M104.8 308.0h0M95.0 373.6h0M73.2 377.0h0M60.4 373.6h0M109.0 361.8h0M185.3 270.4h0M93.8 359.2h0M166.8 291.4h0M62.3 374.3h0M95.4 371.1h0M96.8 342.4h0M146.9 315.3h0M62.8 370.0h0M123.4 313.0h0M152.2 279.3h0M74.6 363.7h0M182.9 263.0h0M111.5 292.9h0M113.2 362.7h0M94.6 327.1h0M127.1 321.9h0M74.3 376.5h0M87.5 367.5h0M173.0 296.3h0M108.2 364.8h0M71.7 376.6h0M116.1 356.4h0M85.9 376.6h0M136.0 319.3h0M106.3 335.5h0M162.3 290.7h0M159.2 271.7h0M94.5 361.8h0M106.6 315.3h0M125.5 325.7h0M122.5 343.2h0M103.5 305.1h0M64.5 357.8h0M86.2 380.0h0M137.2 315.3h0M74.0 379.8h0M120.6 293.2h0M97.4 351.0h0M146.5 284.4h0M162.8 295.6h0M107.1 324.6h0M79.6 374.0h0M177.9 298.1h0M143.5 311.8h0M87.7 375.1h0M88.9 357.9h0M131.0 320.8h0M93.6 359.7h0M159.5 318.1h0M151.5 301.2h0M132.7 344.6h0M185.8 265.4h0M56.1 360.2h0M168.5 307.2h0M149.8 317.9h0M164.4 294.7h0M115.4 349.2h0M138.8 341.2h0M73.3 360.0h0M96.1 358.1h0M100.4 337.3h0M116.8 303.9h0M83.6 365.1h0M159.6 271.6h0M57.7 373.4h0M65.9 381.4h0M84.5 370.3h0M89.6 378.7h0M74.5 376.9h0M79.3 365.6h0M53.6 372.3h0M77.9 363.1h0M113.8 333.7h0M165.8 326.7h0M155.1 300.7h0M135.4 329.8h0M114.3 311.9h0M91.4 336.4h0M129.5 273.7h0M81.3 368.5h0M170.7 270.2h0M80.3 356.1h0M81.3 373.3h0M103.4 362.5h0M69.1 363.4h0M130.1 290.6h0M115.4 296.3h0M174.5 279.9h0M107.8 313.8h0M111.2 348.2h0M118.3 354.0h0M107.7 364.9h0M78.0 366.5h0M176.8 277.3h0M77.2 356.0h0M99.7 337.4h0M67.3 355.4h0M75.9 358.4h0M86.4 368.3h0M173.6 282.5h0M115.1 314.8h0M81.7 370.3h0M90.6 372.7h0M73.8 341.9h0M122.3 329.3h0M126.0 296.5h0M120.2 351.4h0M54.9 370.9h0M180.8 292.0h0M62.3 376.8h0M170.5 289.3h0M171.0 311.4h0M72.0 374.1h0M114.0 297.0h0M71.5 375.8h0M144.1 336.7h0M104.9 330.5h0M189.0 265.5h0M67.5 384.0h0M121.9 333.5h0M152.8 321.8h0M120.3 305.7h0M96.0 314.7h0M73.6 349.1h0M150.9 277.1h0M72.5 361.7h0M183.9 269.6h0M93.9 346.9h0M172.9 312.9h0M71.8 359.5h0M110.1 359.0h0M128.5 308.1h0M149.2 306.2h0M78.9 367.2h0M161.8 272.0h0M74.6 385.2h0M164.3 295.7h0M138.7 324.2h0M130.4 309.9h0M186.3 265.5h0M71.9 360.5h0M99.9 359.3h0M67.1 374.1h0M79.8 373.0h0M81.4 371.9h0M155.6 272.2h0M99.1 317.2h0M99.1 359.1h0M116.2 322.2h0M85.8 368.9h0M92.1 344.0h0M80.4 366.1h0M95.4 321.9h0M67.8 382.0h0M69.5 387.4h0M163.7 268.8h0M63.1 354.5h0M54.7 363.0h0M58.5 364.8h0M55.8 361.8h0M109.4 363.0h0M58.7 374.5h0M134.5 315.5h0M77.5 372.8h0M91.7 375.6h0M91.8 361.2h0M109.7 294.8h0M121.1 341.9h0M131.3 317.7h0M80.3 376.4h0M93.7 352.2h0M149.5 298.1h0M172.3 299.2h0M140.0 271.8h0M71.1 362.4h0M65.2 360.3h0M154.1 309.2h0M183.7 292.8h0M162.2 298.0h0M152.9 324.5h0M87.6 370.3h0M174.8 299.3h0M134.0 283.4h0M87.5 362.0h0M120.1 285.0h0M101.6 366.8h0M103.9 327.1h0M149.2 287.6h0M143.0 328.3h0M176.8 278.5h0M55.4 366.4h0M56.5 379.2h0M77.1 356.8h0M177.5 298.1h0M79.1 375.5h0M131.6 296.8h0M151.0 312.4h0M55.5 377.9h0M65.2 368.1h0M60.3 378.0h0M90.4 333.7h0M85.8 376.7h0M85.8 361.7h0M177.0 287.8h0M167.0 307.4h0M86.9 362.7h0M78.3 371.5h0M74.3 359.6h0M170.2 308.1h0M81.5 361.8h0M176.6 292.0h0M76.7 378.0h0M132.0 277.2h0M82.1 347.1h0M83.4 367.2h0M71.3 341.6h0M142.2 328.5h0M161.0 288.5h0M85.4 362.7h0M130.9 326.9h0M112.1 305.1h0M60.3 380.6h0M155.1 304.1h0M161.5 308.1h0M173.6 311.1h0M144.8 269.6h0M122.9 347.4h0M62.3 382.2h0M70.3 374.0h0M116.7 346.4h0M155.5 327.7h0M87.0 374.7h0M125.9 334.9h0M66.7 355.8h0M70.8 377.2h0M147.7 290.7h0M157.4 287.8h0M76.1 378.1h0M132.9 340.6h0M148.6 278.6h0M64.6 370.5h0M79.0 385.5h0M79.9 369.5h0M97.1 377.4h0M159.4 313.8h0M87.4 377.5h0M91.9 360.2h0M155.4 288.5h0M102.8 317.1h0M156.1 299.4h0M132.0 345.9h0M84.7 374.1h0M80.3 370.6h0M70.0 375.4h0M75.3 373.0h0M122.2 309.9h0M169.9 297.7h0M174.4 267.4h0M175.8 274.0h0M125.0 296.0h0M182.4 264.3h0M104.8 368.9h0M123.9 325.2h0M109.7 356.4h0M168.8 298.3h0M127.9 347.7h0M117.4 345.9h0M63.6 380.4h0M129.3 332.2h0M181.8 285.9h0M75.4 359.2h0M171.0 295.7h0M167.7 266.6h0M100.6 361.8h0M141.6 344.6h0M110.6 301.2h0M143.5 334.6h0M80.5 379.5h0M79.7 371.5h0M164.1 287.5h0M109.8 362.9h0M173.7 265.0h0M92.5 371.6h0M147.7 300.3h0M152.1 309.9h0M58.4 382.2h0M81.1 339.9h0M170.9 271.0h0M166.4 317.3h0M69.0 369.1h0M167.9 278.6h0M62.0 372.3h0M79.3 344.8h0M100.8 331.9h0M185.9 266.1h0M174.1 285.3h0M120.9 330.0h0M168.8 311.6h0M62.4 366.4h0M138.2 314.0h0M96.3 334.0h0M102.1 370.3h0M100.2 345.9h0M119.3 298.5h0M143.2 316.6h0M110.3 349.1h0M85.7 365.6h0M178.7 306.7h0M102.2 329.2h0M133.2 341.2h0M64.5 367.6h0M91.0 368.0h0M96.8 374.5h0M172.9 266.5h0M70.2 360.0h0M92.8 368.8h0M121.6 293.5h0M77.9 380.6h0M145.8 325.2h0M136.1 348.5h0M119.8 323.2h0M184.7 297.1h0M157.2 325.5h0M60.7 350.7h0M83.5 370.6h0M59.3 381.9h0M70.3 356.7h0M69.0 359.5h0M112.5 333.7h0M86.0 374.6h0M111.6 303.5h0M110.6 339.2h0M59.3 357.8h0M75.6 381.7h0M135.3 312.0h0M132.2 296.2h0M176.6 281.6h0M168.4 321.7h0M100.4 357.0h0M150.3 284.4h0M128.6 318.2h0M155.5 267.8h0M138.9 315.5h0M127.7 335.0h0M102.2 357.9h0M109.2 359.9h0M149.7 289.6h0M57.8 363.6h0M100.9 344.9h0M186.6 270.6h0M181.3 312.5h0M98.2 372.3h0M99.3 340.5h0M60.1 376.7h0M73.9 368.6h0M78.0 365.8h0M69.8 357.9h0M113.7 310.6h0M161.9 330.0h0M98.8 323.9h0M88.4 357.2h0M74.8 361.3h0M68.0 363.4h0M67.6 382.7h0M106.5 356.2h0M61.5 378.3h0M93.2 343.1h0M138.4 327.0h0M79.5 352.4h0M92.5 355.3h0M68.1 352.9h0M143.4 307.2h0M67.7 389.1h0M70.6 342.4h0M126.9 285.4h0M104.3 369.4h0M81.2 367.2h0M141.6 347.4h0M124.8 293.0h0M75.6 373.3h0M74.0 382.4h0M66.5 384.5h0M121.1 290.6h0M64.3 371.1h0M147.9 309.0h0M124.0 305.8h0M108.7 353.6h0M169.6 314.3h0M83.8 355.6h0M66.6 384.2h0M157.3 295.0h0M185.3 280.9h0M178.0 284.7h0M141.2 320.0h0M87.7 355.4h0M85.8 337.1h0M91.8 365.1h0M76.7 359.0h0M73.8 343.9h0M123.6 339.4h0M98.9 353.4h0M93.5 323.0h0M176.8 280.0h0M82.6 367.2h0M125.7 315.9h0M146.5 271.1h0M80.0 383.6h0M117.6 344.6h0M62.1 356.6h0M123.4 280.0h0M68.4 352.4h0M106.7 315.2h0M168.6 268.9h0M156.2 326.3h0M172.0 271.1h0M103.3 354.9h0M108.4 359.8h0M81.7 354.0h0M142.2 286.7h0M174.9 305.6h0M163.4 317.9h0M93.2 367.5h0M62.5 358.9h0M85.9 368.4h0M97.0 360.6h0M74.8 379.5h0M157.6 285.1h0M99.2 356.9h0M102.1 360.3h0M90.4 365.4h0M119.2 297.9h0M145.1 309.1h0M80.8 362.8h0M72.1 358.9h0M121.6 316.6h0M88.1 361.0h0M68.4 362.6h0M99.2 349.8h0M78.7 370.6h0M151.8 288.1h0M125.4 347.5h0M172.9 294.8h0M146.4 305.3h0M118.3 316.8h0M126.3 319.4h0M62.6 383.8h0M152.9 283.4h0M89.3 328.1h0M184.5 288.6h0M109.0 363.7h0M153.3 274.1h0M175.8 300.8h0M57.7 381.9h0M117.8 354.9h0M116.5 312.5h0M115.4 292.2h0M127.3 326.3h0M77.6 352.3h0M171.7 261.0h0M119.8 332.7h0M108.9 321.3h0M60.3 357.1h0M114.5 349.2h0M109.0 363.2h0M61.0 382.6h0M81.4 369.2h0M136.8 280.4h0M88.6 378.3h0M142.6 309.8h0M78.5 344.0h0M165.3 271.6h0M149.4 333.5h0M90.6 379.6h0M84.1 375.2h0M118.2 308.8h0M92.3 359.5h0M63.6 374.1h0M89.8 358.9h0M77.1 364.1h0M78.8 366.4h0M77.7 367.3h0M129.3 353.3h0M90.6 378.5h0M108.7 320.3h0M172.9 279.3h0M143.0 314.7h0M123.6 284.1h0M179.0 263.8h0M142.3 343.7h0M94.6 369.3h0M131.9 285.9h0M100.6 315.2h0M111.9 315.1h0M109.1 324.4h0M78.6 374.1h0M120.3 352.0h0M76.8 356.2h0M155.9 331.5h0M179.6 291.8h0M147.9 324.5h0M144.9 324.3h0M156.6 295.4h0M75.1 355.3h0M150.2 307.4h0M137.8 288.5h0M56.1 371.1h0M84.7 363.6h0M91.8 376.1h0M150.6 318.6h0M67.5 355.4h0M76.1 369.8h0M179.5 293.0h0M164.6 295.7h0M118.5 322.2h0M154.1 301.3h0M75.0 342.6h0M129.2 280.7h0M161.5 314.7h0M189.1 260.5h0M170.2 322.0h0M165.9 272.6h0M82.7 364.0h0M87.1 344.3h0M118.8 331.6h0M137.8 272.9h0M179.4 297.2h0M73.9 378.8h0M177.3 302.5h0M103.0 337.0h0M114.1 335.5h0M165.3 325.3h0M54.2 374.6h0M114.2 355.3h0M151.0 286.7h0M133.6 322.2h0M152.9 321.5h0M132.0 308.9h0M104.3 349.9h0M93.0 363.9h0M72.5 354.6h0M148.6 315.7h0M72.1 379.5h0M63.2 378.8h0M113.1 309.9h0M80.9 360.9h0M145.2 328.0h0M61.2 379.8h0M168.2 271.8h0M96.9 314.7h0M149.1 332.6h0M151.4 316.2h0M62.6 348.4h0M80.6 345.6h0M180.6 302.8h0M176.6 306.4h0M182.3 303.0h0M85.8 344.1h0M102.4 337.9h0M104.2 370.1h0M94.3 364.9h0M94.5 325.6h0M165.2 302.2h0M91.3 372.5h0M129.5 276.1h0M152.7 286.6h0M167.1 307.8h0M117.3 353.8h0M89.9 361.9h0M183.4 282.6h0M109.4 306.8h0M144.1 281.0h0M74.8 383.1h0M101.1 353.5h0M69.6 389.8h0M83.8 373.9h0M92.4 319.1h0M101.0 320.8h0M64.9 373.7h0M69.3 386.8h0M153.9 272.1h0M106.7 330.4h0M145.1 308.5h0M172.1 307.7h0M135.2 301.4h0M177.6 286.2h0M112.6 321.4h0M95.6 365.4h0M114.0 357.9h0M99.0 365.4h0M115.4 360.6h0M128.9 297.5h0M79.0 373.7h0M179.7 268.7h0M178.7 308.5h0M180.2 276.7h0M100.8 328.5h0M66.1 373.6h0M134.6 274.2h0M158.1 331.7h0M89.1 376.1h0M118.1 337.7h0M78.6 379.2h0M74.8 368.9h0M130.9 327.8h0M161.9 283.0h0M99.9 342.4h0M62.3 355.6h0M174.4 292.7h0M61.1 376.7h0M166.3 301.6h0M83.1 370.0h0" stroke="#2d4f9c" stroke-width="1.10" stroke-linecap="round" fill="none" opacity="0.9"/>
<path d="M182.3 267.6h0M87.8 341.1h0M168.1 305.1h0M128.9 314.5h0M115.4 311.1h0M132.1 347.6h0M121.2 289.5h0M161.9 272.8h0M155.3 290.8h0M132.8 287.9h0M90.3 337.3h0M118.7 310.3h0M111.9 361.0h0M59.1 356.1h0M133.6 335.2h0M120.0 287.5h0M117.0 349.4h0M127.0 307.8h0M147.9 276.3h0M109.7 326.5h0M156.0 329.3h0M98.0 367.3h0M70.1 373.0h0M182.2 312.1h0M101.1 358.3h0M136.9 329.7h0M152.8 325.6h0M178.8 268.0h0M187.5 261.9h0M100.9 338.5h0M82.9 356.1h0M116.8 290.6h0M138.7 350.5h0M180.0 267.2h0M155.6 320.1h0M85.9 340.0h0M130.0 305.5h0M120.1 295.8h0M125.0 309.9h0M114.9 304.8h0M130.2 285.6h0M138.0 307.3h0M127.9 325.3h0M160.7 305.3h0M125.9 328.5h0M177.3 291.4h0M141.0 279.4h0M137.8 295.6h0M166.6 266.9h0M106.8 324.8h0M61.6 380.1h0M81.1 358.4h0M174.3 263.3h0M160.0 302.1h0M130.5 319.8h0M68.8 363.8h0M115.7 341.5h0M170.6 300.7h0M183.7 286.3h0M132.5 351.6h0M113.9 308.9h0M141.4 333.8h0M128.5 302.1h0M130.9 345.1h0M160.7 328.5h0M126.6 333.0h0M185.1 297.7h0M148.6 309.7h0M135.6 275.8h0M68.5 358.3h0M154.5 289.8h0M164.5 276.0h0M119.2 345.7h0M107.9 327.6h0M137.9 282.0h0M171.8 263.9h0M181.4 298.2h0M81.0 343.8h0M73.4 361.9h0M89.1 345.6h0M107.4 304.8h0M155.3 315.9h0M158.4 301.7h0M142.3 313.2h0M79.6 361.7h0M116.5 338.5h0M150.0 325.7h0M154.4 275.5h0M55.6 360.4h0M73.3 343.2h0M65.3 358.1h0M146.9 332.2h0M135.7 303.0h0M136.0 321.7h0M183.0 302.3h0M162.7 315.5h0M92.4 347.9h0M137.6 326.5h0M111.2 339.4h0M182.4 296.7h0M77.1 367.3h0M145.1 339.5h0M125.9 286.9h0M132.2 331.9h0M77.2 337.7h0M173.0 275.8h0M54.6 355.6h0M142.1 298.8h0M79.0 372.7h0M105.7 307.7h0M134.6 295.0h0M110.0 338.8h0M151.5 318.3h0M89.4 340.5h0M114.9 318.7h0M163.6 309.2h0M177.5 315.2h0M98.5 345.7h0M158.6 277.8h0M101.8 310.1h0M98.3 359.3h0M149.0 271.0h0M172.8 283.6h0M138.8 343.3h0M178.2 277.7h0M109.6 349.5h0M130.7 312.2h0M76.4 379.0h0M183.6 268.4h0M115.3 320.2h0M115.4 337.8h0M86.4 337.9h0M74.1 356.7h0M118.9 344.6h0M181.4 283.2h0M75.7 343.5h0M152.7 303.1h0M148.6 321.6h0M62.2 361.4h0M143.9 301.9h0M169.6 310.1h0M106.8 365.0h0M115.5 344.9h0M123.9 316.8h0M147.7 322.6h0M171.2 263.7h0M168.9 288.7h0M133.0 320.2h0M182.3 264.7h0M62.3 355.5h0M176.8 269.4h0M93.1 334.6h0M90.0 356.8h0M135.5 342.9h0M179.0 315.6h0M132.5 292.0h0M149.5 280.3h0M147.7 325.3h0M129.5 297.0h0M174.1 305.1h0M172.4 308.1h0M127.7 339.5h0M181.6 259.1h0M120.2 295.1h0M182.9 269.5h0M123.1 348.4h0M143.2 308.2h0M112.3 299.5h0M136.3 306.4h0M68.4 368.1h0M163.0 305.7h0M102.1 314.7h0M180.3 257.8h0M103.8 365.3h0M105.6 304.4h0M139.7 284.7h0M142.7 339.6h0M116.3 314.5h0M161.1 313.5h0M101.4 345.8h0M116.3 290.7h0M157.2 295.2h0M155.0 322.3h0M129.2 321.0h0M75.2 374.5h0M114.4 345.6h0M129.5 305.9h0M139.1 338.2h0M116.1 300.7h0M112.0 347.7h0M57.9 377.9h0M56.0 374.5h0M127.3 294.9h0M114.7 352.2h0M125.9 338.0h0M128.3 279.5h0M167.2 315.0h0M175.7 310.7h0M112.3 331.8h0M107.0 352.1h0M168.6 317.0h0M111.0 331.5h0M137.0 301.8h0M162.3 323.4h0M146.1 301.2h0M162.1 282.8h0M160.8 282.1h0M147.8 312.1h0M122.7 327.6h0M123.8 325.7h0M147.4 304.8h0M182.3 271.9h0M80.8 383.3h0M182.6 298.4h0M96.7 308.7h0M162.2 300.8h0M175.6 270.8h0M116.0 325.5h0M82.4 364.5h0M129.2 300.6h0M68.2 361.1h0M167.2 306.7h0M69.1 347.8h0M158.5 313.7h0M114.1 322.0h0M58.8 365.9h0M100.1 368.3h0M81.3 337.1h0M113.9 306.3h0M92.9 346.5h0M176.2 303.7h0M120.5 295.3h0M144.0 333.0h0M61.2 354.4h0M90.0 337.2h0M119.9 323.6h0M121.9 297.1h0M164.9 321.6h0M109.6 303.1h0M120.0 295.0h0M136.2 282.6h0M138.8 309.8h0M78.1 351.5h0M63.8 362.0h0M174.3 316.9h0M109.0 338.5h0M91.9 361.4h0M151.6 296.2h0M115.0 313.0h0M163.2 301.6h0M177.0 295.8h0M91.5 337.9h0M126.1 349.0h0M99.1 313.4h0M131.7 276.1h0M147.6 321.2h0M118.6 330.8h0M144.3 332.2h0M119.2 353.9h0M99.8 334.0h0M159.9 279.5h0M140.8 316.0h0M111.5 352.6h0M119.8 294.0h0M107.4 343.6h0M169.1 293.8h0M76.3 352.6h0M61.9 355.6h0M150.2 318.0h0M179.4 288.2h0M168.1 315.3h0M94.2 338.2h0M106.9 295.3h0M157.8 323.3h0M115.9 304.7h0M141.4 287.8h0M178.5 306.2h0M146.7 330.7h0M139.0 292.2h0M98.7 318.0h0M73.0 369.1h0M64.3 350.8h0M139.5 283.1h0M154.5 321.7h0M126.4 299.7h0M118.0 306.2h0M73.6 351.1h0M167.4 314.9h0M84.7 360.1h0M177.9 258.7h0M155.1 310.3h0M99.0 350.7h0M182.1 280.9h0M136.1 344.6h0M105.8 301.3h0M79.1 369.6h0M149.4 313.8h0M124.3 297.9h0M156.7 294.0h0M141.0 283.4h0M99.3 305.4h0M127.8 334.6h0M176.5 312.9h0M125.4 333.9h0M183.0 298.3h0M110.7 303.3h0M163.3 324.1h0M142.7 313.0h0M83.3 344.0h0M146.4 278.0h0M144.1 275.3h0M99.8 335.8h0M173.3 313.3h0M172.4 267.4h0M144.3 307.9h0M131.4 282.9h0M92.7 357.2h0M110.1 312.0h0M87.0 350.9h0M127.8 352.1h0M72.3 366.8h0M57.9 366.8h0M123.0 320.3h0M111.4 317.9h0M175.3 259.9h0M111.3 312.4h0M117.5 294.6h0M166.5 278.3h0M169.3 291.7h0M115.7 349.8h0M158.0 284.1h0M126.6 348.6h0M188.7 258.7h0M65.0 343.1h0M77.9 341.4h0M135.9 299.4h0M176.9 278.4h0M182.4 264.0h0M160.2 304.6h0M184.4 260.6h0M153.4 288.9h0M112.1 355.0h0M135.1 276.3h0M171.9 294.3h0M90.0 360.9h0M93.3 337.5h0M152.7 283.3h0M136.7 325.5h0M184.2 274.9h0M97.0 316.1h0M172.0 282.9h0M180.0 296.3h0M109.1 352.0h0M95.0 356.3h0M109.5 293.7h0M162.0 331.1h0M118.6 351.5h0M176.2 295.0h0M131.7 335.4h0M97.0 314.5h0M138.7 271.3h0M155.9 317.2h0M128.7 306.9h0M93.2 348.1h0M173.5 309.4h0M119.7 325.8h0M108.9 325.1h0M109.1 332.6h0M116.8 327.2h0M121.7 315.7h0M65.4 363.7h0M96.5 315.9h0M113.8 358.9h0M134.7 272.4h0M174.4 264.1h0M161.4 299.9h0M124.3 340.8h0M132.4 303.8h0M97.8 372.5h0M103.0 321.5h0M90.1 342.3h0M108.2 306.9h0M101.0 345.2h0M110.2 350.8h0M70.5 360.3h0M106.1 304.0h0M72.0 343.5h0M93.7 351.0h0M88.8 335.5h0M105.8 338.6h0M87.8 356.1h0M131.3 324.8h0M106.8 309.7h0M173.2 259.5h0M75.3 346.5h0M95.2 328.0h0M147.2 320.0h0M152.0 302.5h0M72.9 349.9h0M112.3 349.2h0M181.8 304.7h0M64.2 383.1h0M161.7 296.2h0M101.7 352.2h0M167.6 274.7h0M122.8 349.4h0M86.7 377.1h0M168.3 267.9h0M184.0 275.7h0M128.5 332.8h0M121.4 334.7h0M134.7 286.8h0M99.7 313.8h0M80.9 372.6h0M120.9 295.2h0M177.8 268.4h0M113.1 318.7h0M172.1 282.6h0M100.9 338.9h0M162.6 314.3h0M133.8 324.5h0M165.9 325.0h0M137.8 278.9h0M177.0 312.5h0M189.4 259.2h0M183.0 277.8h0M92.9 347.1h0M147.1 311.7h0M123.4 298.8h0M175.7 307.6h0M59.4 361.3h0M100.5 346.3h0M117.3 298.6h0M98.1 322.3h0M144.9 341.7h0M59.6 381.0h0M141.2 302.0h0M116.7 308.9h0M148.3 289.0h0M97.8 312.5h0M129.1 325.4h0M117.9 325.1h0M91.5 375.0h0M177.0 294.1h0M181.6 307.2h0M154.9 336.6h0M132.6 277.4h0M110.9 304.4h0M115.1 308.3h0M172.1 266.7h0M110.8 317.9h0M132.2 351.7h0M62.0 344.6h0M179.2 262.1h0M179.4 293.6h0M77.3 360.0h0M174.7 303.4h0M172.1 308.7h0M184.6 266.7h0M119.1 311.7h0M123.1 282.9h0M116.4 313.9h0M174.7 297.4h0M70.7 342.5h0M171.1 283.7h0M135.5 309.8h0M184.6 299.0h0M107.0 333.1h0M173.1 297.4h0M132.9 341.1h0M62.8 353.7h0M181.4 313.8h0M147.8 271.4h0M75.0 341.8h0M96.9 326.6h0M93.5 324.0h0M124.3 290.3h0M171.7 279.0h0M137.3 290.7h0M135.8 333.0h0M113.7 325.3h0M158.8 292.1h0M157.4 300.5h0M128.8 283.6h0M101.1 334.8h0M141.8 325.8h0M115.0 325.2h0M173.8 293.5h0M130.7 312.9h0M178.6 258.2h0M144.0 278.5h0M92.7 317.4h0M106.5 321.8h0M184.1 281.0h0M128.5 337.8h0M109.6 330.7h0M116.8 328.1h0M116.1 345.6h0M138.5 275.5h0M125.3 334.7h0M110.0 316.5h0M73.5 339.0h0M141.6 343.3h0M177.7 275.4h0M151.6 310.0h0M160.8 275.4h0M129.8 342.7h0M110.6 339.5h0M104.8 311.0h0M138.7 307.4h0M176.2 297.2h0M168.4 309.1h0M81.5 344.2h0M110.4 297.9h0M173.7 264.7h0M178.1 306.2h0M93.6 370.9h0M73.3 340.8h0M146.1 340.2h0M117.3 302.6h0M185.1 284.4h0M155.6 295.0h0M124.0 310.5h0M174.7 274.3h0M185.7 302.6h0M65.3 348.5h0M143.7 290.0h0M132.2 300.6h0M129.7 338.8h0M173.0 272.8h0M137.2 276.6h0M135.2 308.9h0M169.5 306.1h0M106.9 320.6h0M65.0 358.6h0M131.4 275.8h0M159.9 296.5h0M162.1 296.3h0M116.3 326.5h0M182.5 269.1h0M118.0 322.1h0M145.5 341.4h0M97.7 320.7h0M133.7 322.5h0M98.9 363.8h0M181.5 262.4h0M89.2 343.6h0M73.6 364.4h0M121.3 353.7h0M127.0 298.2h0M128.7 346.4h0M149.7 321.4h0M93.4 345.4h0M136.7 307.3h0M117.7 323.9h0M176.8 267.1h0M101.5 304.8h0M165.5 315.9h0M115.5 354.2h0M161.2 309.3h0M146.8 283.3h0M110.4 300.4h0M91.1 335.3h0M93.7 354.6h0M159.7 272.3h0M146.6 303.9h0M180.2 269.5h0M65.8 345.1h0M176.4 307.0h0M186.0 264.3h0M106.9 327.4h0M116.8 332.6h0M175.2 306.2h0M183.0 262.2h0M100.5 355.4h0M126.7 280.1h0M132.7 313.2h0M73.2 372.2h0M140.3 332.5h0M173.8 264.4h0M123.6 339.4h0M119.4 294.6h0M160.4 302.8h0M135.4 339.4h0M160.8 313.5h0M96.6 359.4h0M143.6 321.4h0M135.2 293.3h0M122.0 320.7h0M77.5 343.6h0M88.9 351.3h0M126.7 279.6h0M99.4 332.1h0M97.3 348.7h0M135.2 304.9h0M113.2 319.9h0M74.5 349.1h0M135.4 336.5h0M92.3 322.3h0M120.3 353.3h0M170.0 289.7h0M105.7 310.0h0M167.0 275.8h0M184.5 304.2h0M96.2 338.1h0M108.6 354.7h0M56.6 375.8h0M116.7 292.4h0M142.3 346.1h0M118.7 330.4h0M187.8 283.6h0M169.7 269.8h0M92.0 323.5h0M147.9 331.3h0M102.2 347.3h0M87.1 359.0h0M113.4 334.8h0M179.4 277.5h0M136.9 330.4h0M137.8 284.4h0M145.8 317.2h0M83.1 357.9h0M171.3 289.0h0M119.0 335.9h0M90.5 346.9h0M165.6 317.3h0M83.1 338.4h0M153.0 278.3h0M103.2 310.6h0M153.5 311.6h0M109.1 349.0h0M156.2 319.5h0M115.2 358.8h0M113.8 294.0h0M142.8 326.9h0M128.9 298.6h0M107.9 334.5h0M157.5 281.7h0M183.4 259.3h0M141.7 314.0h0M131.1 345.1h0M91.5 330.0h0M71.8 338.9h0M65.3 359.2h0M141.8 275.1h0M164.6 271.8h0M58.6 360.0h0M147.7 318.4h0M154.5 334.1h0M171.7 279.8h0M96.9 313.5h0M141.3 301.2h0M150.3 309.9h0M164.4 316.2h0M142.9 322.2h0M150.9 270.5h0M172.2 275.0h0M172.4 306.0h0M169.8 318.4h0M125.6 317.1h0M85.2 348.3h0M66.6 354.7h0M110.8 342.6h0M93.7 340.2h0M102.5 325.0h0M97.6 315.1h0M175.9 312.3h0M154.4 323.1h0M131.8 328.4h0M150.1 335.5h0M106.7 317.9h0M117.3 353.6h0M156.3 315.9h0M130.0 323.3h0M158.8 297.8h0M178.7 295.8h0M87.8 351.2h0M87.9 340.6h0M86.6 367.3h0M99.9 366.9h0M102.7 318.7h0M123.9 331.0h0M149.5 317.1h0M161.3 312.7h0M88.9 379.1h0M75.9 358.0h0M147.9 313.3h0M156.4 311.3h0M83.7 345.2h0M116.9 337.7h0M85.8 341.2h0M109.7 292.6h0M79.0 364.4h0M112.9 310.0h0M185.8 301.4h0M100.5 333.2h0M128.2 278.1h0M169.1 318.0h0M103.4 309.8h0M135.3 320.7h0M148.1 333.3h0M164.6 288.3h0M140.2 318.9h0M154.0 297.8h0M109.7 362.4h0M159.5 319.2h0M58.4 363.0h0M134.9 336.8h0M90.3 363.7h0M183.0 295.2h0M102.9 358.3h0M174.5 277.6h0M137.9 302.4h0M185.7 276.1h0M69.2 342.6h0M96.0 367.9h0M156.4 273.4h0M143.0 288.4h0M139.6 343.5h0M179.6 308.7h0M107.1 309.1h0M115.5 314.1h0M128.9 307.4h0M183.3 263.8h0M110.6 345.2h0M96.2 350.0h0M185.4 290.6h0M80.8 361.5h0M188.8 262.5h0M69.4 346.0h0M170.2 323.4h0M181.6 286.9h0M120.6 291.7h0M133.6 281.8h0M78.8 359.8h0M137.6 304.4h0M137.5 320.0h0M155.1 276.2h0M74.3 360.4h0M180.0 270.1h0M148.2 314.3h0M74.5 345.9h0M62.9 354.1h0M161.2 304.9h0M178.9 264.2h0M68.4 356.5h0M94.3 361.8h0M113.6 333.7h0M63.7 379.0h0M78.4 355.8h0M104.7 329.0h0M169.0 321.2h0M122.7 339.3h0M179.3 257.2h0M99.2 322.3h0M83.8 352.1h0M174.0 315.9h0M168.5 263.5h0M134.8 285.2h0M164.5 284.5h0M135.7 288.1h0M132.9 320.2h0M176.7 287.1h0M165.8 310.6h0M143.0 343.1h0M144.8 324.9h0M178.9 267.4h0M128.8 319.7h0M122.6 289.7h0M106.2 296.5h0M158.1 269.1h0M104.1 333.1h0M168.6 287.4h0M81.6 351.3h0M144.4 286.9h0M114.1 293.1h0M177.0 283.2h0M174.1 303.3h0M66.0 344.0h0M89.0 346.2h0M139.8 281.2h0M154.5 327.7h0M56.0 358.7h0M97.0 327.7h0M93.1 351.1h0M95.1 321.9h0M99.4 354.8h0" stroke="#cc4a32" stroke-width="1.10" stroke-linecap="round" fill="none" opacity="0.9"/>
<rect x="133.80" y="370.80" width="7.00" height="3.80" fill="#1f5080"/>
<rect x="133.80" y="380.00" width="7.00" height="3.80" fill="#c8102e"/>
<text x="143.80" y="375.24" font-size="7.34" fill="#2a2a2a" stroke="#2a2a2a" textLength="22.20" lengthAdjust="spacingAndGlyphs">Healthy</text>
<text x="143.80" y="384.44" font-size="7.34" fill="#2a2a2a" stroke="#2a2a2a" textLength="40.80" lengthAdjust="spacingAndGlyphs">AML-Exposed</text>
<text x="218.44" y="231.30" font-size="10.5" font-weight="bold" fill="#000" stroke="#000" stroke-width="0.35" textLength="8.34" lengthAdjust="spacingAndGlyphs">D</text>
<line x1="249.10" y1="236.00" x2="249.10" y2="310.00" stroke="#111" stroke-width="1.2"/>
<line x1="248.50" y1="309.40" x2="321.70" y2="309.40" stroke="#111" stroke-width="1.3"/>
<line x1="246.30" y1="238.00" x2="249.10" y2="238.00" stroke="#111" stroke-width="0.9"/>
<text x="242.60" y="240.63" font-size="7.3" fill="#3a3a3a" stroke="#3a3a3a" text-anchor="end">60</text>
<line x1="246.30" y1="261.80" x2="249.10" y2="261.80" stroke="#111" stroke-width="0.9"/>
<text x="242.60" y="264.43" font-size="7.3" fill="#3a3a3a" stroke="#3a3a3a" text-anchor="end">40</text>
<line x1="246.30" y1="285.60" x2="249.10" y2="285.60" stroke="#111" stroke-width="0.9"/>
<text x="242.60" y="288.23" font-size="7.3" fill="#3a3a3a" stroke="#3a3a3a" text-anchor="end">20</text>
<line x1="246.30" y1="309.30" x2="249.10" y2="309.30" stroke="#111" stroke-width="0.9"/>
<text x="242.60" y="311.93" font-size="7.3" fill="#3a3a3a" stroke="#3a3a3a" text-anchor="end">0</text>
<rect x="253.10" y="284.94" width="5.90" height="24.36" fill="#0e5590"/>
<rect x="262.20" y="268.30" width="5.90" height="41.00" fill="#a9bcd8"/>
<rect x="277.90" y="274.24" width="5.90" height="35.06" fill="#c8102e"/>
<rect x="287.70" y="254.04" width="5.90" height="55.26" fill="#efb5b1"/>
<rect x="303.10" y="251.43" width="5.90" height="57.87" fill="#3aaa48"/>
<rect x="312.90" y="287.91" width="5.90" height="21.39" fill="#c4e2bc"/>
<line x1="260.60" y1="309.40" x2="260.60" y2="312.20" stroke="#111" stroke-width="0.9"/>
<text x="251.70" y="321.40" font-size="7.78" fill="#2a2a2a" stroke="#2a2a2a" textLength="17.30" lengthAdjust="spacingAndGlyphs">NEU1</text>
<line x1="285.70" y1="309.40" x2="285.70" y2="312.20" stroke="#111" stroke-width="0.9"/>
<text x="276.70" y="321.40" font-size="7.78" fill="#2a2a2a" stroke="#2a2a2a" textLength="17.80" lengthAdjust="spacingAndGlyphs">NEU2</text>
<line x1="310.90" y1="309.40" x2="310.90" y2="312.20" stroke="#111" stroke-width="0.9"/>
<text x="302.50" y="321.40" font-size="7.78" fill="#2a2a2a" stroke="#2a2a2a" textLength="16.90" lengthAdjust="spacingAndGlyphs">NEU3</text>
<text x="-14.60" y="3.15" font-size="8.74" fill="#2a2a2a" stroke="#2a2a2a" textLength="29.20" lengthAdjust="spacingAndGlyphs" transform="translate(226.90 272.50) rotate(-90)">% of cells</text>
<text x="337.74" y="231.60" font-size="10.5" font-weight="bold" fill="#000" stroke="#000" stroke-width="0.35" textLength="7.70" lengthAdjust="spacingAndGlyphs">E</text>
<line x1="371.40" y1="239.30" x2="371.40" y2="310.00" stroke="#111" stroke-width="1.2"/>
<line x1="370.80" y1="309.50" x2="439.00" y2="309.50" stroke="#111" stroke-width="1.3"/>
<line x1="368.70" y1="241.40" x2="371.40" y2="241.40" stroke="#111" stroke-width="0.9"/>
<text x="366.90" y="244.03" font-size="7.3" fill="#3a3a3a" stroke="#3a3a3a" text-anchor="end">400</text>
<line x1="368.70" y1="258.80" x2="371.40" y2="258.80" stroke="#111" stroke-width="0.9"/>
<text x="366.90" y="261.43" font-size="7.3" fill="#3a3a3a" stroke="#3a3a3a" text-anchor="end">300</text>
<line x1="368.70" y1="275.70" x2="371.40" y2="275.70" stroke="#111" stroke-width="0.9"/>
<text x="366.90" y="278.33" font-size="7.3" fill="#3a3a3a" stroke="#3a3a3a" text-anchor="end">200</text>
<line x1="368.70" y1="292.40" x2="371.40" y2="292.40" stroke="#111" stroke-width="0.9"/>
<text x="366.90" y="295.03" font-size="7.3" fill="#3a3a3a" stroke="#3a3a3a" text-anchor="end">100</text>
<line x1="368.70" y1="309.10" x2="371.40" y2="309.10" stroke="#111" stroke-width="0.9"/>
<text x="366.90" y="311.73" font-size="7.3" fill="#3a3a3a" stroke="#3a3a3a" text-anchor="end">0</text>
<text x="-25.40" y="3.23" font-size="8.97" fill="#2a2a2a" stroke="#2a2a2a" textLength="50.80" lengthAdjust="spacingAndGlyphs" transform="translate(346.60 274.20) rotate(-90)">Maturation score</text>
<line x1="378.60" y1="250.40" x2="378.60" y2="297.40" stroke="#333" stroke-width="1.0"/>
<path d="M378.15 265.00 L378.15 265.99 L377.78 266.98 L377.40 267.96 L377.04 268.95 L376.71 269.94 L376.40 270.93 L376.12 271.91 L375.87 272.90 L375.65 273.89 L375.47 274.88 L375.32 275.86 L375.22 276.85 L375.22 277.84 L375.32 278.82 L375.49 279.81 L375.70 280.80 L375.95 281.79 L376.24 282.77 L376.56 283.76 L376.91 284.75 L377.29 285.74 L377.70 286.72 L378.14 287.71 L378.15 288.70 L379.05 288.70 L379.06 287.71 L379.50 286.72 L379.91 285.74 L380.29 284.75 L380.64 283.76 L380.96 282.77 L381.25 281.79 L381.50 280.80 L381.71 279.81 L381.88 278.82 L381.98 277.84 L381.98 276.85 L381.88 275.86 L381.73 274.88 L381.55 273.89 L381.33 272.90 L381.08 271.91 L380.80 270.93 L380.49 269.94 L380.16 268.95 L379.80 267.96 L379.42 266.98 L379.05 265.99 L379.05 265.00Z" fill="#0e5590" stroke="#333" stroke-width="0.55"/>
<line x1="375.70" y1="273.68" x2="381.50" y2="273.68" stroke="#222" stroke-width="0.45" stroke-dasharray="0.8 0.6" opacity="0.8"/>
<line x1="375.20" y1="277.40" x2="382.00" y2="277.40" stroke="#222" stroke-width="0.45" stroke-dasharray="0.8 0.6" opacity="0.8"/>
<line x1="375.70" y1="280.79" x2="381.50" y2="280.79" stroke="#222" stroke-width="0.45" stroke-dasharray="0.8 0.6" opacity="0.8"/>
<line x1="389.40" y1="257.30" x2="389.40" y2="294.30" stroke="#333" stroke-width="1.0"/>
<path d="M388.95 265.20 L388.90 266.11 L388.43 267.02 L387.99 267.93 L387.59 268.83 L387.22 269.74 L386.89 270.65 L386.60 271.56 L386.35 272.47 L386.16 273.38 L386.03 274.28 L386.01 275.19 L386.09 276.10 L386.22 277.01 L386.38 277.92 L386.58 278.82 L386.80 279.73 L387.05 280.64 L387.32 281.55 L387.61 282.46 L387.93 283.37 L388.27 284.27 L388.63 285.18 L388.95 286.09 L388.95 287.00 L389.85 287.00 L389.85 286.09 L390.17 285.18 L390.53 284.27 L390.87 283.37 L391.19 282.46 L391.48 281.55 L391.75 280.64 L392.00 279.73 L392.22 278.82 L392.42 277.92 L392.58 277.01 L392.71 276.10 L392.79 275.19 L392.77 274.28 L392.64 273.38 L392.45 272.47 L392.20 271.56 L391.91 270.65 L391.58 269.74 L391.21 268.83 L390.81 267.93 L390.37 267.02 L389.90 266.11 L389.85 265.20Z" fill="#b4c4e0" stroke="#333" stroke-width="0.55"/>
<line x1="386.50" y1="271.92" x2="392.30" y2="271.92" stroke="#222" stroke-width="0.45" stroke-dasharray="0.8 0.6" opacity="0.8"/>
<line x1="386.00" y1="274.80" x2="392.80" y2="274.80" stroke="#222" stroke-width="0.45" stroke-dasharray="0.8 0.6" opacity="0.8"/>
<line x1="386.50" y1="278.46" x2="392.30" y2="278.46" stroke="#222" stroke-width="0.45" stroke-dasharray="0.8 0.6" opacity="0.8"/>
<line x1="399.90" y1="247.00" x2="399.90" y2="284.30" stroke="#333" stroke-width="1.0"/>
<path d="M399.45 255.70 L399.36 256.39 L398.86 257.07 L398.40 257.76 L397.98 258.45 L397.61 259.14 L397.28 259.82 L397.02 260.51 L396.82 261.20 L396.71 261.89 L396.73 262.57 L396.81 263.26 L396.93 263.95 L397.07 264.64 L397.23 265.32 L397.42 266.01 L397.63 266.70 L397.85 267.39 L398.10 268.07 L398.36 268.76 L398.64 269.45 L398.93 270.14 L399.24 270.82 L399.45 271.51 L399.45 272.20 L400.35 272.20 L400.35 271.51 L400.56 270.82 L400.87 270.14 L401.16 269.45 L401.44 268.76 L401.70 268.07 L401.95 267.39 L402.17 266.70 L402.38 266.01 L402.57 265.32 L402.73 264.64 L402.87 263.95 L402.99 263.26 L403.07 262.57 L403.09 261.89 L402.98 261.20 L402.78 260.51 L402.52 259.82 L402.19 259.14 L401.82 258.45 L401.40 257.76 L400.94 257.07 L400.44 256.39 L400.35 255.70Z" fill="#c8102e" stroke="#333" stroke-width="0.55"/>
<line x1="397.17" y1="260.11" x2="402.63" y2="260.11" stroke="#222" stroke-width="0.45" stroke-dasharray="0.8 0.6" opacity="0.8"/>
<line x1="396.70" y1="262.00" x2="403.10" y2="262.00" stroke="#222" stroke-width="0.45" stroke-dasharray="0.8 0.6" opacity="0.8"/>
<line x1="397.17" y1="265.06" x2="402.63" y2="265.06" stroke="#222" stroke-width="0.45" stroke-dasharray="0.8 0.6" opacity="0.8"/>
<line x1="410.40" y1="249.00" x2="410.40" y2="284.80" stroke="#333" stroke-width="1.0"/>
<path d="M409.95 256.50 L409.90 257.33 L409.43 258.17 L408.99 259.00 L408.59 259.83 L408.22 260.67 L407.90 261.50 L407.62 262.33 L407.38 263.17 L407.21 264.00 L407.11 264.83 L407.13 265.67 L407.23 266.50 L407.36 267.33 L407.52 268.17 L407.71 269.00 L407.92 269.83 L408.16 270.67 L408.42 271.50 L408.71 272.33 L409.01 273.17 L409.33 274.00 L409.67 274.83 L409.95 275.67 L409.95 276.50 L410.85 276.50 L410.85 275.67 L411.13 274.83 L411.47 274.00 L411.79 273.17 L412.09 272.33 L412.38 271.50 L412.64 270.67 L412.88 269.83 L413.09 269.00 L413.28 268.17 L413.44 267.33 L413.57 266.50 L413.67 265.67 L413.69 264.83 L413.59 264.00 L413.42 263.17 L413.18 262.33 L412.90 261.50 L412.58 260.67 L412.21 259.83 L411.81 259.00 L411.37 258.17 L410.90 257.33 L410.85 256.50Z" fill="#efb5b1" stroke="#333" stroke-width="0.55"/>
<line x1="407.58" y1="262.45" x2="413.22" y2="262.45" stroke="#222" stroke-width="0.45" stroke-dasharray="0.8 0.6" opacity="0.8"/>
<line x1="407.10" y1="265.00" x2="413.70" y2="265.00" stroke="#222" stroke-width="0.45" stroke-dasharray="0.8 0.6" opacity="0.8"/>
<line x1="407.58" y1="268.45" x2="413.22" y2="268.45" stroke="#222" stroke-width="0.45" stroke-dasharray="0.8 0.6" opacity="0.8"/>
<line x1="421.30" y1="247.00" x2="421.30" y2="283.80" stroke="#333" stroke-width="1.0"/>
<path d="M420.85 252.00 L420.82 252.75 L420.37 253.50 L419.95 254.25 L419.56 255.00 L419.20 255.75 L418.88 256.50 L418.60 257.25 L418.36 258.00 L418.17 258.75 L418.04 259.50 L418.01 260.25 L418.08 261.00 L418.20 261.75 L418.36 262.50 L418.55 263.25 L418.76 264.00 L419.00 264.75 L419.27 265.50 L419.56 266.25 L419.86 267.00 L420.19 267.75 L420.54 268.50 L420.85 269.25 L420.85 270.00 L421.75 270.00 L421.75 269.25 L422.06 268.50 L422.41 267.75 L422.74 267.00 L423.04 266.25 L423.33 265.50 L423.60 264.75 L423.84 264.00 L424.05 263.25 L424.24 262.50 L424.40 261.75 L424.52 261.00 L424.59 260.25 L424.56 259.50 L424.43 258.75 L424.24 258.00 L424.00 257.25 L423.72 256.50 L423.40 255.75 L423.04 255.00 L422.65 254.25 L422.23 253.50 L421.78 252.75 L421.75 252.00Z" fill="#3aaa48" stroke="#333" stroke-width="0.55"/>
<line x1="418.48" y1="257.60" x2="424.12" y2="257.60" stroke="#222" stroke-width="0.45" stroke-dasharray="0.8 0.6" opacity="0.8"/>
<line x1="418.00" y1="260.00" x2="424.60" y2="260.00" stroke="#222" stroke-width="0.45" stroke-dasharray="0.8 0.6" opacity="0.8"/>
<line x1="418.48" y1="263.00" x2="424.12" y2="263.00" stroke="#222" stroke-width="0.45" stroke-dasharray="0.8 0.6" opacity="0.8"/>
<line x1="432.00" y1="245.00" x2="432.00" y2="284.80" stroke="#333" stroke-width="1.0"/>
<path d="M431.55 254.00 L431.55 254.71 L431.17 255.42 L430.79 256.12 L430.44 256.83 L430.12 257.54 L429.82 258.25 L429.56 258.96 L429.33 259.67 L429.14 260.38 L429.00 261.08 L428.91 261.79 L428.93 262.50 L429.02 263.21 L429.16 263.92 L429.33 264.62 L429.53 265.33 L429.76 266.04 L430.02 266.75 L430.29 267.46 L430.59 268.17 L430.91 268.88 L431.26 269.58 L431.55 270.29 L431.55 271.00 L432.45 271.00 L432.45 270.29 L432.74 269.58 L433.09 268.88 L433.41 268.17 L433.71 267.46 L433.98 266.75 L434.24 266.04 L434.47 265.33 L434.67 264.62 L434.84 263.92 L434.98 263.21 L435.07 262.50 L435.09 261.79 L435.00 261.08 L434.86 260.38 L434.67 259.67 L434.44 258.96 L434.18 258.25 L433.88 257.54 L433.56 256.83 L433.21 256.12 L432.83 255.42 L432.45 254.71 L432.45 254.00Z" fill="#c8e6c0" stroke="#333" stroke-width="0.55"/>
<line x1="429.35" y1="259.60" x2="434.65" y2="259.60" stroke="#222" stroke-width="0.45" stroke-dasharray="0.8 0.6" opacity="0.8"/>
<line x1="428.90" y1="262.00" x2="435.10" y2="262.00" stroke="#222" stroke-width="0.45" stroke-dasharray="0.8 0.6" opacity="0.8"/>
<line x1="429.35" y1="264.70" x2="434.65" y2="264.70" stroke="#222" stroke-width="0.45" stroke-dasharray="0.8 0.6" opacity="0.8"/>
<path d="M378.60 246.50 V236.80 H389.40 V252.20" fill="none" stroke="#555" stroke-width="0.8"/>
<text x="380.25" y="238.58" font-size="9" fill="#2a2a2a" stroke="#2a2a2a" textLength="7.50" lengthAdjust="spacingAndGlyphs">***</text>
<path d="M399.90 246.50 V236.80 H410.40 V244.00" fill="none" stroke="#555" stroke-width="0.8"/>
<text x="400.15" y="238.58" font-size="9" fill="#2a2a2a" stroke="#2a2a2a" textLength="10.00" lengthAdjust="spacingAndGlyphs">****</text>
<path d="M421.30 246.50 V236.80 H432.00 V244.00" fill="none" stroke="#555" stroke-width="0.8"/>
<text x="422.90" y="238.58" font-size="9" fill="#2a2a2a" stroke="#2a2a2a" textLength="7.50" lengthAdjust="spacingAndGlyphs">***</text>
<line x1="378.60" y1="309.50" x2="378.60" y2="312.20" stroke="#111" stroke-width="0.8"/>
<line x1="389.40" y1="309.50" x2="389.40" y2="312.20" stroke="#111" stroke-width="0.8"/>
<text x="-15.60" y="0" font-size="7.6" fill="#2a2a2a" stroke="#2a2a2a" textLength="15.60" lengthAdjust="spacingAndGlyphs" transform="translate(390.20 319.80) rotate(-45)">NEU1</text>
<line x1="399.60" y1="309.50" x2="399.60" y2="312.20" stroke="#111" stroke-width="0.8"/>
<line x1="410.40" y1="309.50" x2="410.40" y2="312.20" stroke="#111" stroke-width="0.8"/>
<text x="-15.60" y="0" font-size="7.6" fill="#2a2a2a" stroke="#2a2a2a" textLength="15.60" lengthAdjust="spacingAndGlyphs" transform="translate(411.70 319.80) rotate(-45)">NEU2</text>
<line x1="421.20" y1="309.50" x2="421.20" y2="312.20" stroke="#111" stroke-width="0.8"/>
<line x1="432.00" y1="309.50" x2="432.00" y2="312.20" stroke="#111" stroke-width="0.8"/>
<text x="-15.60" y="0" font-size="7.6" fill="#2a2a2a" stroke="#2a2a2a" textLength="15.60" lengthAdjust="spacingAndGlyphs" transform="translate(432.60 319.80) rotate(-45)">NEU3</text>
<rect x="445.00" y="239.50" width="12.20" height="5.50" fill="#111"/>
<rect x="445.00" y="250.80" width="12.20" height="5.40" fill="#bdbdbd"/>
<text x="460.80" y="244.88" font-size="7.99" fill="#2a2a2a" stroke="#2a2a2a" textLength="22.00" lengthAdjust="spacingAndGlyphs">Healthy</text>
<text x="460.80" y="256.28" font-size="7.99" fill="#2a2a2a" stroke="#2a2a2a" textLength="40.70" lengthAdjust="spacingAndGlyphs">AML-Exposed</text>
<text x="218.29" y="348.40" font-size="10.5" font-weight="bold" fill="#000" stroke="#000" stroke-width="0.35" textLength="7.06" lengthAdjust="spacingAndGlyphs">F</text>
<line x1="253.00" y1="358.80" x2="253.00" y2="433.60" stroke="#111" stroke-width="1.2"/>
<line x1="252.40" y1="433.10" x2="320.00" y2="433.10" stroke="#111" stroke-width="1.3"/>
<line x1="250.30" y1="360.75" x2="253.00" y2="360.75" stroke="#111" stroke-width="0.9"/>
<text x="247.40" y="363.38" font-size="7.3" fill="#3a3a3a" stroke="#3a3a3a" text-anchor="end">600</text>
<line x1="250.30" y1="385.00" x2="253.00" y2="385.00" stroke="#111" stroke-width="0.9"/>
<text x="247.40" y="387.63" font-size="7.3" fill="#3a3a3a" stroke="#3a3a3a" text-anchor="end">400</text>
<line x1="250.30" y1="409.25" x2="253.00" y2="409.25" stroke="#111" stroke-width="0.9"/>
<text x="247.40" y="411.88" font-size="7.3" fill="#3a3a3a" stroke="#3a3a3a" text-anchor="end">200</text>
<line x1="250.30" y1="433.00" x2="253.00" y2="433.00" stroke="#111" stroke-width="0.9"/>
<text x="247.40" y="435.63" font-size="7.3" fill="#3a3a3a" stroke="#3a3a3a" text-anchor="end">0</text>
<text x="-29.38" y="3.23" font-size="8.97" fill="#2a2a2a" stroke="#2a2a2a" textLength="58.75" lengthAdjust="spacingAndGlyphs" transform="translate(228.70 395.60) rotate(-90)">Inflammation score</text>
<line x1="260.10" y1="385.30" x2="260.10" y2="425.70" stroke="#333" stroke-width="1.0"/>
<path d="M259.65 398.60 L259.65 399.39 L259.22 400.18 L258.82 400.98 L258.44 401.77 L258.10 402.56 L257.77 403.35 L257.48 404.14 L257.22 404.93 L257.00 405.73 L256.82 406.52 L256.68 407.31 L256.60 408.10 L256.65 408.89 L256.78 409.68 L256.96 410.48 L257.18 411.27 L257.44 412.06 L257.73 412.85 L258.06 413.64 L258.41 414.43 L258.80 415.23 L259.21 416.02 L259.64 416.81 L259.65 417.60 L260.55 417.60 L260.56 416.81 L260.99 416.02 L261.40 415.23 L261.79 414.43 L262.14 413.64 L262.47 412.85 L262.76 412.06 L263.02 411.27 L263.24 410.48 L263.42 409.68 L263.55 408.89 L263.60 408.10 L263.52 407.31 L263.38 406.52 L263.20 405.73 L262.98 404.93 L262.72 404.14 L262.43 403.35 L262.10 402.56 L261.76 401.77 L261.38 400.98 L260.98 400.18 L260.55 399.39 L260.55 398.60Z" fill="#0e5590" stroke="#333" stroke-width="0.55"/>
<line x1="257.11" y1="405.32" x2="263.09" y2="405.32" stroke="#222" stroke-width="0.45" stroke-dasharray="0.8 0.6" opacity="0.8"/>
<line x1="256.60" y1="408.20" x2="263.60" y2="408.20" stroke="#222" stroke-width="0.45" stroke-dasharray="0.8 0.6" opacity="0.8"/>
<line x1="257.11" y1="411.02" x2="263.09" y2="411.02" stroke="#222" stroke-width="0.45" stroke-dasharray="0.8 0.6" opacity="0.8"/>
<line x1="270.60" y1="385.30" x2="270.60" y2="429.70" stroke="#333" stroke-width="1.0"/>
<path d="M270.15 398.60 L270.15 399.43 L269.74 400.25 L269.34 401.08 L268.97 401.90 L268.63 402.73 L268.31 403.55 L268.02 404.38 L267.76 405.20 L267.54 406.02 L267.35 406.85 L267.20 407.68 L267.11 408.50 L267.13 409.32 L267.25 410.15 L267.43 410.98 L267.64 411.80 L267.90 412.62 L268.20 413.45 L268.53 414.27 L268.88 415.10 L269.27 415.92 L269.69 416.75 L270.13 417.57 L270.15 418.40 L271.05 418.40 L271.07 417.57 L271.51 416.75 L271.93 415.92 L272.32 415.10 L272.67 414.27 L273.00 413.45 L273.30 412.62 L273.56 411.80 L273.77 410.98 L273.95 410.15 L274.07 409.32 L274.09 408.50 L274.00 407.68 L273.85 406.85 L273.66 406.02 L273.44 405.20 L273.18 404.38 L272.89 403.55 L272.57 402.73 L272.23 401.90 L271.86 401.08 L271.46 400.25 L271.05 399.43 L271.05 398.60Z" fill="#b4c4e0" stroke="#333" stroke-width="0.55"/>
<line x1="267.61" y1="405.74" x2="273.59" y2="405.74" stroke="#222" stroke-width="0.45" stroke-dasharray="0.8 0.6" opacity="0.8"/>
<line x1="267.10" y1="408.80" x2="274.10" y2="408.80" stroke="#222" stroke-width="0.45" stroke-dasharray="0.8 0.6" opacity="0.8"/>
<line x1="267.61" y1="411.68" x2="273.59" y2="411.68" stroke="#222" stroke-width="0.45" stroke-dasharray="0.8 0.6" opacity="0.8"/>
<line x1="281.20" y1="385.30" x2="281.20" y2="423.60" stroke="#333" stroke-width="1.0"/>
<path d="M280.75 397.40 L280.73 398.20 L280.30 399.00 L279.88 399.80 L279.50 400.60 L279.15 401.40 L278.82 402.20 L278.54 403.00 L278.29 403.80 L278.08 404.60 L277.92 405.40 L277.81 406.20 L277.83 407.00 L277.93 407.80 L278.08 408.60 L278.26 409.40 L278.48 410.20 L278.73 411.00 L279.01 411.80 L279.32 412.60 L279.65 413.40 L280.00 414.20 L280.38 415.00 L280.75 415.80 L280.75 416.60 L281.65 416.60 L281.65 415.80 L282.02 415.00 L282.40 414.20 L282.75 413.40 L283.08 412.60 L283.39 411.80 L283.67 411.00 L283.92 410.20 L284.14 409.40 L284.32 408.60 L284.47 407.80 L284.57 407.00 L284.59 406.20 L284.48 405.40 L284.32 404.60 L284.11 403.80 L283.86 403.00 L283.58 402.20 L283.25 401.40 L282.90 400.60 L282.52 399.80 L282.10 399.00 L281.67 398.20 L281.65 397.40Z" fill="#c8102e" stroke="#333" stroke-width="0.55"/>
<line x1="278.30" y1="403.77" x2="284.10" y2="403.77" stroke="#222" stroke-width="0.45" stroke-dasharray="0.8 0.6" opacity="0.8"/>
<line x1="277.80" y1="406.50" x2="284.60" y2="406.50" stroke="#222" stroke-width="0.45" stroke-dasharray="0.8 0.6" opacity="0.8"/>
<line x1="278.30" y1="409.53" x2="284.10" y2="409.53" stroke="#222" stroke-width="0.45" stroke-dasharray="0.8 0.6" opacity="0.8"/>
<line x1="291.80" y1="385.30" x2="291.80" y2="421.60" stroke="#333" stroke-width="1.0"/>
<path d="M291.35 398.00 L291.32 398.75 L290.87 399.50 L290.45 400.25 L290.06 401.00 L289.70 401.75 L289.38 402.50 L289.10 403.25 L288.86 404.00 L288.67 404.75 L288.54 405.50 L288.51 406.25 L288.58 407.00 L288.70 407.75 L288.86 408.50 L289.05 409.25 L289.26 410.00 L289.50 410.75 L289.77 411.50 L290.06 412.25 L290.36 413.00 L290.69 413.75 L291.04 414.50 L291.35 415.25 L291.35 416.00 L292.25 416.00 L292.25 415.25 L292.56 414.50 L292.91 413.75 L293.24 413.00 L293.54 412.25 L293.83 411.50 L294.10 410.75 L294.34 410.00 L294.55 409.25 L294.74 408.50 L294.90 407.75 L295.02 407.00 L295.09 406.25 L295.06 405.50 L294.93 404.75 L294.74 404.00 L294.50 403.25 L294.22 402.50 L293.90 401.75 L293.54 401.00 L293.15 400.25 L292.73 399.50 L292.28 398.75 L292.25 398.00Z" fill="#efb5b1" stroke="#333" stroke-width="0.55"/>
<line x1="288.98" y1="403.60" x2="294.62" y2="403.60" stroke="#222" stroke-width="0.45" stroke-dasharray="0.8 0.6" opacity="0.8"/>
<line x1="288.50" y1="406.00" x2="295.10" y2="406.00" stroke="#222" stroke-width="0.45" stroke-dasharray="0.8 0.6" opacity="0.8"/>
<line x1="288.98" y1="409.00" x2="294.62" y2="409.00" stroke="#222" stroke-width="0.45" stroke-dasharray="0.8 0.6" opacity="0.8"/>
<line x1="302.40" y1="385.30" x2="302.40" y2="429.70" stroke="#333" stroke-width="1.0"/>
<path d="M301.95 399.20 L301.95 400.02 L301.59 400.83 L301.22 401.65 L300.87 402.47 L300.54 403.28 L300.23 404.10 L299.95 404.92 L299.69 405.73 L299.46 406.55 L299.27 407.37 L299.10 408.18 L298.98 409.00 L298.91 409.82 L298.95 410.63 L299.10 411.45 L299.30 412.27 L299.55 413.08 L299.85 413.90 L300.19 414.72 L300.57 415.53 L300.98 416.35 L301.42 417.17 L301.89 417.98 L301.95 418.80 L302.85 418.80 L302.91 417.98 L303.38 417.17 L303.82 416.35 L304.23 415.53 L304.61 414.72 L304.95 413.90 L305.25 413.08 L305.50 412.27 L305.70 411.45 L305.85 410.63 L305.89 409.82 L305.82 409.00 L305.70 408.18 L305.53 407.37 L305.34 406.55 L305.11 405.73 L304.85 404.92 L304.57 404.10 L304.26 403.28 L303.93 402.47 L303.58 401.65 L303.21 400.83 L302.85 400.02 L302.85 399.20Z" fill="#3aaa48" stroke="#333" stroke-width="0.55"/>
<line x1="299.41" y1="406.76" x2="305.39" y2="406.76" stroke="#222" stroke-width="0.45" stroke-dasharray="0.8 0.6" opacity="0.8"/>
<line x1="298.90" y1="410.00" x2="305.90" y2="410.00" stroke="#222" stroke-width="0.45" stroke-dasharray="0.8 0.6" opacity="0.8"/>
<line x1="299.41" y1="412.64" x2="305.39" y2="412.64" stroke="#222" stroke-width="0.45" stroke-dasharray="0.8 0.6" opacity="0.8"/>
<line x1="313.10" y1="385.30" x2="313.10" y2="422.30" stroke="#333" stroke-width="1.0"/>
<path d="M312.65 399.40 L312.65 400.09 L312.34 400.78 L311.99 401.47 L311.67 402.17 L311.36 402.86 L311.08 403.55 L310.82 404.24 L310.60 404.93 L310.40 405.62 L310.23 406.32 L310.10 407.01 L310.01 407.70 L310.02 408.39 L310.13 409.08 L310.28 409.77 L310.47 410.47 L310.70 411.16 L310.96 411.85 L311.25 412.54 L311.57 413.23 L311.92 413.93 L312.29 414.62 L312.65 415.31 L312.65 416.00 L313.55 416.00 L313.55 415.31 L313.91 414.62 L314.28 413.93 L314.63 413.23 L314.95 412.54 L315.24 411.85 L315.50 411.16 L315.73 410.47 L315.92 409.77 L316.07 409.08 L316.18 408.39 L316.19 407.70 L316.10 407.01 L315.97 406.32 L315.80 405.62 L315.60 404.93 L315.38 404.24 L315.12 403.55 L314.84 402.86 L314.53 402.17 L314.21 401.47 L313.86 400.78 L313.55 400.09 L313.55 399.40Z" fill="#c8e6c0" stroke="#333" stroke-width="0.55"/>
<line x1="310.45" y1="405.42" x2="315.75" y2="405.42" stroke="#222" stroke-width="0.45" stroke-dasharray="0.8 0.6" opacity="0.8"/>
<line x1="310.00" y1="408.00" x2="316.20" y2="408.00" stroke="#222" stroke-width="0.45" stroke-dasharray="0.8 0.6" opacity="0.8"/>
<line x1="310.45" y1="410.40" x2="315.75" y2="410.40" stroke="#222" stroke-width="0.45" stroke-dasharray="0.8 0.6" opacity="0.8"/>
<path d="M260.10 380.60 V366.80 H270.60 V380.60" fill="none" stroke="#555" stroke-width="0.8"/>
<text x="264.10" y="368.58" font-size="9" fill="#2a2a2a" stroke="#2a2a2a" textLength="2.50" lengthAdjust="spacingAndGlyphs">*</text>
<path d="M281.20 380.60 V366.80 H291.80 V380.60" fill="none" stroke="#555" stroke-width="0.8"/>
<text x="282.75" y="368.58" font-size="9" fill="#2a2a2a" stroke="#2a2a2a" textLength="7.50" lengthAdjust="spacingAndGlyphs">***</text>
<path d="M302.40 380.60 V366.80 H313.10 V380.60" fill="none" stroke="#555" stroke-width="0.8"/>
<text x="304.00" y="368.58" font-size="9" fill="#2a2a2a" stroke="#2a2a2a" textLength="7.50" lengthAdjust="spacingAndGlyphs">***</text>
<line x1="260.10" y1="433.10" x2="260.10" y2="435.80" stroke="#111" stroke-width="0.8"/>
<line x1="270.70" y1="433.10" x2="270.70" y2="435.80" stroke="#111" stroke-width="0.8"/>
<text x="-15.60" y="0" font-size="7.6" fill="#2a2a2a" stroke="#2a2a2a" textLength="15.60" lengthAdjust="spacingAndGlyphs" transform="translate(266.90 444.10) rotate(-45)">NEU1</text>
<line x1="281.20" y1="433.10" x2="281.20" y2="435.80" stroke="#111" stroke-width="0.8"/>
<line x1="291.80" y1="433.10" x2="291.80" y2="435.80" stroke="#111" stroke-width="0.8"/>
<text x="-15.60" y="0" font-size="7.6" fill="#2a2a2a" stroke="#2a2a2a" textLength="15.60" lengthAdjust="spacingAndGlyphs" transform="translate(288.20 444.10) rotate(-45)">NEU2</text>
<line x1="302.50" y1="433.10" x2="302.50" y2="435.80" stroke="#111" stroke-width="0.8"/>
<line x1="313.10" y1="433.10" x2="313.10" y2="435.80" stroke="#111" stroke-width="0.8"/>
<text x="-15.60" y="0" font-size="7.6" fill="#2a2a2a" stroke="#2a2a2a" textLength="15.60" lengthAdjust="spacingAndGlyphs" transform="translate(309.50 444.10) rotate(-45)">NEU3</text>
<text x="336.59" y="348.40" font-size="10.5" font-weight="bold" fill="#000" stroke="#000" stroke-width="0.35" textLength="8.99" lengthAdjust="spacingAndGlyphs">G</text>
<line x1="367.80" y1="365.70" x2="367.80" y2="434.10" stroke="#111" stroke-width="1.2"/>
<line x1="367.20" y1="433.60" x2="434.40" y2="433.60" stroke="#111" stroke-width="1.3"/>
<line x1="365.10" y1="367.80" x2="367.80" y2="367.80" stroke="#111" stroke-width="0.9"/>
<text x="362.60" y="370.43" font-size="7.3" fill="#3a3a3a" stroke="#3a3a3a" text-anchor="end">15</text>
<line x1="365.10" y1="390.00" x2="367.80" y2="390.00" stroke="#111" stroke-width="0.9"/>
<text x="362.60" y="392.63" font-size="7.3" fill="#3a3a3a" stroke="#3a3a3a" text-anchor="end">10</text>
<line x1="365.10" y1="411.60" x2="367.80" y2="411.60" stroke="#111" stroke-width="0.9"/>
<text x="362.60" y="414.23" font-size="7.3" fill="#3a3a3a" stroke="#3a3a3a" text-anchor="end">5</text>
<line x1="365.10" y1="433.40" x2="367.80" y2="433.40" stroke="#111" stroke-width="0.9"/>
<text x="362.60" y="436.03" font-size="7.3" fill="#3a3a3a" stroke="#3a3a3a" text-anchor="end">0</text>
<text x="-28.50" y="3.23" font-size="8.97" fill="#2a2a2a" stroke="#2a2a2a" textLength="57.00" lengthAdjust="spacingAndGlyphs" transform="translate(346.60 399.50) rotate(-90)">C/EBPβ expression</text>
<line x1="374.80" y1="377.30" x2="374.80" y2="433.00" stroke="#333" stroke-width="1.0"/>
<path d="M374.35 391.00 L374.33 391.71 L373.89 392.42 L373.47 393.12 L373.08 393.83 L372.72 394.54 L372.39 395.25 L372.09 395.96 L371.82 396.67 L371.59 397.38 L371.40 398.08 L371.27 398.79 L371.20 399.50 L371.27 400.21 L371.40 400.92 L371.59 401.62 L371.82 402.33 L372.09 403.04 L372.39 403.75 L372.72 404.46 L373.08 405.17 L373.47 405.88 L373.89 406.58 L374.33 407.29 L374.35 408.00 L375.25 408.00 L375.27 407.29 L375.71 406.58 L376.13 405.88 L376.52 405.17 L376.88 404.46 L377.21 403.75 L377.51 403.04 L377.78 402.33 L378.01 401.62 L378.20 400.92 L378.33 400.21 L378.40 399.50 L378.33 398.79 L378.20 398.08 L378.01 397.38 L377.78 396.67 L377.51 395.96 L377.21 395.25 L376.88 394.54 L376.52 393.83 L376.13 393.12 L375.71 392.42 L375.27 391.71 L375.25 391.00Z" fill="#0e5590" stroke="#333" stroke-width="0.55"/>
<line x1="371.72" y1="396.95" x2="377.88" y2="396.95" stroke="#222" stroke-width="0.45" stroke-dasharray="0.8 0.6" opacity="0.8"/>
<line x1="371.20" y1="399.50" x2="378.40" y2="399.50" stroke="#222" stroke-width="0.45" stroke-dasharray="0.8 0.6" opacity="0.8"/>
<line x1="371.72" y1="402.05" x2="377.88" y2="402.05" stroke="#222" stroke-width="0.45" stroke-dasharray="0.8 0.6" opacity="0.8"/>
<line x1="385.30" y1="376.30" x2="385.30" y2="433.00" stroke="#333" stroke-width="1.0"/>
<path d="M384.85 382.60 L384.72 383.26 L384.18 383.93 L383.69 384.59 L383.23 385.25 L382.82 385.91 L382.46 386.58 L382.16 387.24 L381.92 387.90 L381.75 388.56 L381.71 389.23 L381.78 389.89 L381.90 390.55 L382.05 391.21 L382.23 391.88 L382.44 392.54 L382.68 393.20 L382.93 393.86 L383.21 394.52 L383.51 395.19 L383.83 395.85 L384.17 396.51 L384.53 397.18 L384.85 397.84 L384.85 398.50 L385.75 398.50 L385.75 397.84 L386.07 397.18 L386.43 396.51 L386.77 395.85 L387.09 395.19 L387.39 394.52 L387.67 393.86 L387.92 393.20 L388.16 392.54 L388.37 391.88 L388.55 391.21 L388.70 390.55 L388.82 389.89 L388.89 389.23 L388.85 388.56 L388.68 387.90 L388.44 387.24 L388.14 386.58 L387.78 385.91 L387.37 385.25 L386.91 384.59 L386.42 383.93 L385.88 383.26 L385.75 382.60Z" fill="#b4c4e0" stroke="#333" stroke-width="0.55"/>
<line x1="382.22" y1="387.08" x2="388.38" y2="387.08" stroke="#222" stroke-width="0.45" stroke-dasharray="0.8 0.6" opacity="0.8"/>
<line x1="381.70" y1="389.00" x2="388.90" y2="389.00" stroke="#222" stroke-width="0.45" stroke-dasharray="0.8 0.6" opacity="0.8"/>
<line x1="382.22" y1="391.85" x2="388.38" y2="391.85" stroke="#222" stroke-width="0.45" stroke-dasharray="0.8 0.6" opacity="0.8"/>
<line x1="396.10" y1="377.00" x2="396.10" y2="433.00" stroke="#333" stroke-width="1.0"/>
<path d="M395.65 386.80 L395.54 387.46 L395.01 388.12 L394.53 388.79 L394.09 389.45 L393.70 390.11 L393.36 390.77 L393.07 391.44 L392.86 392.10 L392.72 392.76 L392.72 393.43 L392.80 394.09 L392.92 394.75 L393.07 395.41 L393.24 396.07 L393.44 396.74 L393.66 397.40 L393.90 398.06 L394.16 398.73 L394.44 399.39 L394.74 400.05 L395.06 400.71 L395.39 401.38 L395.65 402.04 L395.65 402.70 L396.55 402.70 L396.55 402.04 L396.81 401.38 L397.14 400.71 L397.46 400.05 L397.76 399.39 L398.04 398.73 L398.30 398.06 L398.54 397.40 L398.76 396.74 L398.96 396.07 L399.13 395.41 L399.28 394.75 L399.40 394.09 L399.48 393.43 L399.48 392.76 L399.34 392.10 L399.13 391.44 L398.84 390.77 L398.50 390.11 L398.11 389.45 L397.67 388.79 L397.19 388.12 L396.66 387.46 L396.55 386.80Z" fill="#c8102e" stroke="#333" stroke-width="0.55"/>
<line x1="393.20" y1="391.14" x2="399.00" y2="391.14" stroke="#222" stroke-width="0.45" stroke-dasharray="0.8 0.6" opacity="0.8"/>
<line x1="392.70" y1="393.00" x2="399.50" y2="393.00" stroke="#222" stroke-width="0.45" stroke-dasharray="0.8 0.6" opacity="0.8"/>
<line x1="393.20" y1="395.91" x2="399.00" y2="395.91" stroke="#222" stroke-width="0.45" stroke-dasharray="0.8 0.6" opacity="0.8"/>
<line x1="406.50" y1="377.00" x2="406.50" y2="433.00" stroke="#333" stroke-width="1.0"/>
<path d="M406.05 389.00 L406.03 389.70 L405.59 390.41 L405.18 391.11 L404.80 391.82 L404.44 392.52 L404.12 393.23 L403.83 393.93 L403.58 394.63 L403.38 395.34 L403.21 396.04 L403.11 396.75 L403.13 397.45 L403.23 398.15 L403.38 398.86 L403.56 399.56 L403.78 400.27 L404.03 400.97 L404.31 401.67 L404.62 402.38 L404.95 403.08 L405.30 403.79 L405.68 404.49 L406.05 405.20 L406.05 405.90 L406.95 405.90 L406.95 405.20 L407.32 404.49 L407.70 403.79 L408.05 403.08 L408.38 402.38 L408.69 401.67 L408.97 400.97 L409.22 400.27 L409.44 399.56 L409.62 398.86 L409.77 398.15 L409.87 397.45 L409.89 396.75 L409.79 396.04 L409.62 395.34 L409.42 394.63 L409.17 393.93 L408.88 393.23 L408.56 392.52 L408.20 391.82 L407.82 391.11 L407.41 390.41 L406.97 389.70 L406.95 389.00Z" fill="#efb5b1" stroke="#333" stroke-width="0.55"/>
<line x1="403.60" y1="394.60" x2="409.40" y2="394.60" stroke="#222" stroke-width="0.45" stroke-dasharray="0.8 0.6" opacity="0.8"/>
<line x1="403.10" y1="397.00" x2="409.90" y2="397.00" stroke="#222" stroke-width="0.45" stroke-dasharray="0.8 0.6" opacity="0.8"/>
<line x1="403.60" y1="399.67" x2="409.40" y2="399.67" stroke="#222" stroke-width="0.45" stroke-dasharray="0.8 0.6" opacity="0.8"/>
<line x1="417.00" y1="377.00" x2="417.00" y2="433.00" stroke="#333" stroke-width="1.0"/>
<path d="M416.55 384.70 L416.23 385.32 L415.54 385.93 L414.92 386.55 L414.39 387.17 L413.96 387.78 L413.65 388.40 L413.50 389.02 L413.54 389.63 L413.62 390.25 L413.72 390.87 L413.85 391.48 L414.00 392.10 L414.16 392.72 L414.35 393.33 L414.55 393.95 L414.77 394.57 L415.00 395.18 L415.25 395.80 L415.51 396.42 L415.78 397.03 L416.07 397.65 L416.37 398.27 L416.55 398.88 L416.55 399.50 L417.45 399.50 L417.45 398.88 L417.63 398.27 L417.93 397.65 L418.22 397.03 L418.49 396.42 L418.75 395.80 L419.00 395.18 L419.23 394.57 L419.45 393.95 L419.65 393.33 L419.84 392.72 L420.00 392.10 L420.15 391.48 L420.28 390.87 L420.38 390.25 L420.46 389.63 L420.50 389.02 L420.35 388.40 L420.04 387.78 L419.61 387.17 L419.08 386.55 L418.46 385.93 L417.77 385.32 L417.45 384.70Z" fill="#3aaa48" stroke="#333" stroke-width="0.55"/>
<line x1="414.01" y1="387.71" x2="419.99" y2="387.71" stroke="#222" stroke-width="0.45" stroke-dasharray="0.8 0.6" opacity="0.8"/>
<line x1="413.50" y1="389.00" x2="420.50" y2="389.00" stroke="#222" stroke-width="0.45" stroke-dasharray="0.8 0.6" opacity="0.8"/>
<line x1="414.01" y1="392.15" x2="419.99" y2="392.15" stroke="#222" stroke-width="0.45" stroke-dasharray="0.8 0.6" opacity="0.8"/>
<line x1="427.40" y1="377.00" x2="427.40" y2="433.00" stroke="#333" stroke-width="1.0"/>
<path d="M426.95 385.80 L426.71 386.50 L426.09 387.21 L425.53 387.91 L425.05 388.62 L424.64 389.32 L424.33 390.02 L424.13 390.73 L424.12 391.43 L424.18 392.14 L424.27 392.84 L424.39 393.55 L424.53 394.25 L424.68 394.95 L424.86 395.66 L425.05 396.36 L425.25 397.07 L425.48 397.77 L425.71 398.48 L425.96 399.18 L426.22 399.88 L426.50 400.59 L426.79 401.29 L426.95 402.00 L426.95 402.70 L427.85 402.70 L427.85 402.00 L428.01 401.29 L428.30 400.59 L428.58 399.88 L428.84 399.18 L429.09 398.48 L429.32 397.77 L429.55 397.07 L429.75 396.36 L429.94 395.66 L430.12 394.95 L430.27 394.25 L430.41 393.55 L430.53 392.84 L430.62 392.14 L430.68 391.43 L430.67 390.73 L430.47 390.02 L430.16 389.32 L429.75 388.62 L429.27 387.91 L428.71 387.21 L428.09 386.50 L427.85 385.80Z" fill="#c8e6c0" stroke="#333" stroke-width="0.55"/>
<line x1="424.58" y1="389.44" x2="430.22" y2="389.44" stroke="#222" stroke-width="0.45" stroke-dasharray="0.8 0.6" opacity="0.8"/>
<line x1="424.10" y1="391.00" x2="430.70" y2="391.00" stroke="#222" stroke-width="0.45" stroke-dasharray="0.8 0.6" opacity="0.8"/>
<line x1="424.58" y1="394.51" x2="430.22" y2="394.51" stroke="#222" stroke-width="0.45" stroke-dasharray="0.8 0.6" opacity="0.8"/>
<path d="M371.3 433.5 Q374.8 424 378.3 433.5Z" fill="#0e5590" stroke="#333" stroke-width="0.4"/>
<path d="M383.30 433.5 Q385.30 429.5 387.30 433.5Z" fill="#b4c4e0" stroke="#333" stroke-width="0.4"/>
<path d="M394.10 433.5 Q396.10 429.5 398.10 433.5Z" fill="#c8102e" stroke="#333" stroke-width="0.4"/>
<path d="M404.50 433.5 Q406.50 429.5 408.50 433.5Z" fill="#efb5b1" stroke="#333" stroke-width="0.4"/>
<path d="M415.00 433.5 Q417.00 429.5 419.00 433.5Z" fill="#3aaa48" stroke="#333" stroke-width="0.4"/>
<path d="M425.40 433.5 Q427.40 429.5 429.40 433.5Z" fill="#c8e6c0" stroke="#333" stroke-width="0.4"/>
<path d="M374.80 374.00 V368.80 H385.30 V374.00" fill="none" stroke="#555" stroke-width="0.8"/>
<text x="375.05" y="370.58" font-size="9" fill="#2a2a2a" stroke="#2a2a2a" textLength="10.00" lengthAdjust="spacingAndGlyphs">****</text>
<path d="M396.10 374.00 V368.80 H406.50 V374.00" fill="none" stroke="#555" stroke-width="0.8"/>
<text x="398.60" y="368.22" font-size="7.56" fill="#2a2a2a" stroke="#2a2a2a" textLength="5.40" lengthAdjust="spacingAndGlyphs">ns</text>
<path d="M417.00 374.00 V368.80 H427.40 V374.00" fill="none" stroke="#555" stroke-width="0.8"/>
<text x="419.50" y="368.22" font-size="7.56" fill="#2a2a2a" stroke="#2a2a2a" textLength="5.40" lengthAdjust="spacingAndGlyphs">ns</text>
<path d="M385.30 358.30 V354.50 H406.50 V358.30" fill="none" stroke="#555" stroke-width="0.8"/>
<text x="390.90" y="356.28" font-size="9" fill="#2a2a2a" stroke="#2a2a2a" textLength="10.00" lengthAdjust="spacingAndGlyphs">****</text>
<path d="M407.30 358.30 V354.50 H427.40 V358.30" fill="none" stroke="#555" stroke-width="0.8"/>
<text x="412.35" y="356.28" font-size="9" fill="#2a2a2a" stroke="#2a2a2a" textLength="10.00" lengthAdjust="spacingAndGlyphs">****</text>
<line x1="374.80" y1="433.60" x2="374.80" y2="436.30" stroke="#111" stroke-width="0.8"/>
<line x1="385.20" y1="433.60" x2="385.20" y2="436.30" stroke="#111" stroke-width="0.8"/>
<text x="-15.60" y="0" font-size="7.6" fill="#2a2a2a" stroke="#2a2a2a" textLength="15.60" lengthAdjust="spacingAndGlyphs" transform="translate(381.50 443.50) rotate(-45)">NEU1</text>
<line x1="396.10" y1="433.60" x2="396.10" y2="436.30" stroke="#111" stroke-width="0.8"/>
<line x1="406.50" y1="433.60" x2="406.50" y2="436.30" stroke="#111" stroke-width="0.8"/>
<text x="-15.60" y="0" font-size="7.6" fill="#2a2a2a" stroke="#2a2a2a" textLength="15.60" lengthAdjust="spacingAndGlyphs" transform="translate(402.30 443.50) rotate(-45)">NEU2</text>
<line x1="417.00" y1="433.60" x2="417.00" y2="436.30" stroke="#111" stroke-width="0.8"/>
<line x1="427.40" y1="433.60" x2="427.40" y2="436.30" stroke="#111" stroke-width="0.8"/>
<text x="-15.60" y="0" font-size="7.6" fill="#2a2a2a" stroke="#2a2a2a" textLength="15.60" lengthAdjust="spacingAndGlyphs" transform="translate(423.90 442.80) rotate(-45)">NEU3</text>
<rect x="445.00" y="368.20" width="12.20" height="5.50" fill="#111"/>
<rect x="445.00" y="379.50" width="12.20" height="5.40" fill="#bdbdbd"/>
<text x="460.80" y="373.58" font-size="7.99" fill="#2a2a2a" stroke="#2a2a2a" textLength="22.00" lengthAdjust="spacingAndGlyphs">Healthy</text>
<text x="460.80" y="384.98" font-size="7.99" fill="#2a2a2a" stroke="#2a2a2a" textLength="40.70" lengthAdjust="spacingAndGlyphs">AML-Exposed</text>
<text x="7.54" y="481.90" font-size="10.5" font-weight="bold" fill="#000" stroke="#000" stroke-width="0.35" textLength="8.34" lengthAdjust="spacingAndGlyphs">H</text>
<text x="55.90" y="492.22" font-size="9.5" fill="#1a1a1a" stroke="#1a1a1a" textLength="126.00" lengthAdjust="spacingAndGlyphs">AML&#160; Exposed vs Healthy NEU2</text>
<line x1="36.60" y1="496.70" x2="36.60" y2="658.20" stroke="#111" stroke-width="1.2"/>
<line x1="36.00" y1="657.70" x2="198.50" y2="657.70" stroke="#111" stroke-width="1.3"/>
<line x1="34.00" y1="498.90" x2="36.60" y2="498.90" stroke="#111" stroke-width="0.9"/>
<text x="30.20" y="501.53" font-size="7.3" fill="#3a3a3a" stroke="#3a3a3a" text-anchor="end">17</text>
<line x1="34.00" y1="536.19" x2="36.60" y2="536.19" stroke="#111" stroke-width="0.9"/>
<text x="30.20" y="538.82" font-size="7.3" fill="#3a3a3a" stroke="#3a3a3a" text-anchor="end">13</text>
<line x1="34.00" y1="573.49" x2="36.60" y2="573.49" stroke="#111" stroke-width="0.9"/>
<text x="30.20" y="576.12" font-size="7.3" fill="#3a3a3a" stroke="#3a3a3a" text-anchor="end">9</text>
<line x1="34.00" y1="610.78" x2="36.60" y2="610.78" stroke="#111" stroke-width="0.9"/>
<text x="30.20" y="613.41" font-size="7.3" fill="#3a3a3a" stroke="#3a3a3a" text-anchor="end">5</text>
<line x1="34.00" y1="648.08" x2="36.60" y2="648.08" stroke="#111" stroke-width="0.9"/>
<text x="30.20" y="650.70" font-size="7.3" fill="#3a3a3a" stroke="#3a3a3a" text-anchor="end">1</text>
<line x1="34.00" y1="657.40" x2="36.60" y2="657.40" stroke="#111" stroke-width="0.9"/>
<text x="30.20" y="660.03" font-size="7.3" fill="#3a3a3a" stroke="#3a3a3a" text-anchor="end">0</text>
<line x1="36.45" y1="657.70" x2="36.45" y2="660.30" stroke="#111" stroke-width="0.9"/>
<text x="35.85" y="671.23" font-size="7.3" fill="#3a3a3a" stroke="#3a3a3a" text-anchor="middle">−5</text>
<line x1="84.90" y1="657.70" x2="84.90" y2="660.30" stroke="#111" stroke-width="0.9"/>
<text x="84.30" y="671.23" font-size="7.3" fill="#3a3a3a" stroke="#3a3a3a" text-anchor="middle">−2</text>
<line x1="117.20" y1="657.70" x2="117.20" y2="660.30" stroke="#111" stroke-width="0.9"/>
<text x="117.20" y="671.23" font-size="7.3" fill="#3a3a3a" stroke="#3a3a3a" text-anchor="middle">0</text>
<line x1="165.65" y1="657.70" x2="165.65" y2="660.30" stroke="#111" stroke-width="0.9"/>
<text x="165.65" y="671.23" font-size="7.3" fill="#3a3a3a" stroke="#3a3a3a" text-anchor="middle">3</text>
<line x1="197.95" y1="657.70" x2="197.95" y2="660.30" stroke="#111" stroke-width="0.9"/>
<text x="197.95" y="671.23" font-size="7.3" fill="#3a3a3a" stroke="#3a3a3a" text-anchor="middle">5</text>
<text x="91.20" y="682.99" font-size="8.86" fill="#2a2a2a" stroke="#2a2a2a" textLength="55.20" lengthAdjust="spacingAndGlyphs">log2(Fold change)</text>
<text x="-31.3" y="2.8" font-size="8" fill="#2a2a2a" textLength="62.6" lengthAdjust="spacingAndGlyphs" transform="translate(15.2 584.2) rotate(-90)">-log10(<tspan font-style="italic">P</tspan> value)</text>
<line x1="101.05" y1="501.40" x2="101.05" y2="657.20" stroke="#222" stroke-width="1.15" stroke-dasharray="2.6 1.7"/>
<line x1="133.35" y1="501.40" x2="133.35" y2="657.20" stroke="#222" stroke-width="1.15" stroke-dasharray="2.6 1.7"/>
<line x1="37.20" y1="645.70" x2="198.50" y2="645.70" stroke="#222" stroke-width="1.15" stroke-dasharray="2.6 1.7"/>
<path d="M122.7 632.9h0M121.4 641.0h0M120.3 643.6h0M128.1 640.2h0M123.6 645.0h0M121.9 637.3h0M107.9 644.8h0M122.3 639.9h0M105.1 643.9h0M110.6 644.9h0M125.8 621.3h0M122.2 629.7h0M109.7 645.0h0M114.6 644.3h0M118.4 644.5h0M108.7 638.2h0M109.4 640.0h0M125.8 638.5h0M116.9 645.0h0M121.7 634.6h0M123.8 643.8h0M105.9 643.5h0M129.7 634.9h0M110.8 641.9h0M109.9 633.2h0M113.1 633.9h0M114.7 643.4h0M131.3 639.2h0M119.9 644.7h0M127.4 638.2h0M110.5 644.7h0M123.1 633.6h0M131.4 611.4h0M110.7 632.6h0M131.1 625.1h0M113.3 640.6h0M131.7 636.7h0M105.0 645.1h0M123.2 642.5h0M104.5 639.6h0M109.2 641.6h0M106.6 644.6h0M122.6 642.3h0M107.9 644.6h0M118.3 641.7h0M129.1 644.8h0M106.6 645.3h0M124.3 644.9h0M121.0 629.3h0M127.9 644.7h0M128.6 628.4h0M115.4 641.1h0M121.9 644.5h0M105.2 642.0h0M124.3 631.8h0M102.2 642.0h0M106.0 641.4h0M108.2 644.6h0M116.5 642.0h0M130.2 627.8h0M109.5 642.4h0M106.7 639.5h0M104.8 643.4h0M118.6 645.2h0M103.1 609.8h0M126.1 638.9h0M129.2 640.4h0M107.5 623.6h0M116.2 628.7h0M120.5 635.7h0M127.9 644.6h0M113.4 638.3h0M118.5 639.5h0M123.5 640.4h0M108.8 631.9h0M121.1 644.0h0M128.7 629.6h0M120.5 639.1h0M126.3 641.7h0M124.1 635.1h0M113.4 638.2h0M127.2 645.1h0M127.8 644.5h0M120.7 644.7h0M115.2 642.1h0M115.7 644.8h0M108.4 644.7h0M122.9 631.3h0M107.0 644.5h0M129.4 640.2h0M113.4 644.5h0M111.5 642.0h0M122.9 644.8h0M125.5 636.9h0M123.3 642.9h0M132.1 639.0h0M116.6 638.1h0M121.1 644.9h0M113.6 641.6h0M128.1 636.9h0M126.7 641.8h0M108.2 638.9h0M130.9 645.0h0M130.7 634.0h0M128.2 621.4h0M103.4 642.2h0M112.4 641.9h0M105.1 639.2h0M114.2 641.3h0M105.9 644.6h0M124.8 637.6h0M126.9 628.8h0M103.3 633.3h0M112.1 632.7h0M129.1 644.8h0M127.0 645.0h0M118.1 640.1h0M126.8 636.5h0M103.4 632.0h0M102.8 634.8h0M129.2 642.2h0M127.4 634.0h0M129.0 644.2h0M131.9 630.5h0M113.0 641.0h0M109.7 627.3h0M125.3 642.8h0M124.2 638.4h0M109.2 636.0h0M103.0 639.2h0M109.8 623.1h0M113.2 645.1h0M124.3 642.1h0M114.8 637.5h0M119.8 645.1h0M105.1 618.8h0M108.5 626.1h0M103.7 597.0h0M132.1 643.5h0M103.4 641.4h0M114.1 637.3h0M120.8 644.2h0M130.9 641.8h0M111.3 641.6h0M108.2 643.4h0M124.1 644.3h0M108.7 640.9h0M118.3 643.5h0M129.9 642.8h0M109.4 641.6h0M124.4 636.4h0M110.4 641.7h0M128.8 640.1h0M113.8 638.0h0M123.7 629.8h0M120.9 643.5h0M102.2 631.8h0M103.4 644.7h0M126.7 640.1h0M113.1 638.8h0M109.9 645.3h0M108.7 643.4h0M129.7 643.9h0M117.1 630.2h0M126.9 643.5h0M113.4 640.9h0M115.5 632.4h0M129.8 630.5h0M113.9 645.2h0M109.3 631.1h0M130.6 641.6h0M122.1 644.8h0M111.6 644.1h0M123.1 640.6h0M128.2 638.1h0M111.9 632.1h0M113.2 634.9h0M111.5 640.3h0M125.1 645.1h0M113.9 642.5h0M132.0 642.8h0M124.3 642.8h0M121.0 630.5h0M115.6 644.5h0M119.1 639.2h0M102.5 644.6h0M107.7 639.7h0M111.2 626.5h0M128.0 641.6h0M116.9 640.2h0M121.6 643.5h0M123.8 644.2h0M128.0 639.8h0M118.7 642.7h0M127.2 621.5h0M109.6 643.9h0M107.0 636.9h0M129.7 638.4h0M108.9 637.7h0M110.2 637.5h0M120.4 642.8h0M128.4 632.2h0M102.0 642.1h0M129.8 644.8h0M103.3 641.8h0M124.1 639.6h0M102.0 642.3h0M119.6 644.4h0M126.6 629.6h0M125.6 638.5h0M123.9 639.5h0M106.0 634.6h0M126.3 642.4h0M129.7 622.3h0M112.4 641.2h0M127.0 641.4h0M104.5 632.3h0M110.8 643.9h0M107.8 643.3h0M116.5 645.2h0M106.8 644.2h0M109.5 640.2h0M120.6 644.5h0M127.3 643.6h0M107.9 643.0h0M121.1 643.6h0M127.2 645.1h0M129.8 618.8h0M115.7 637.9h0M108.8 628.8h0M130.3 636.1h0M120.0 642.4h0M126.4 643.7h0M123.2 641.7h0M127.6 639.3h0M124.7 644.9h0M111.5 635.3h0M132.7 645.0h0M105.8 623.9h0M129.9 641.1h0M108.2 638.2h0M106.3 641.9h0M110.5 642.4h0M114.0 643.2h0M113.4 640.6h0M111.6 642.4h0M125.4 642.8h0M128.2 631.3h0M111.1 642.9h0M118.0 643.2h0M110.5 645.0h0M127.5 633.3h0M111.8 645.2h0M105.9 637.6h0M123.5 637.0h0M125.8 636.4h0M123.1 619.9h0M126.6 636.5h0M109.0 638.6h0M104.7 642.9h0M107.4 638.8h0M108.5 634.3h0M107.2 642.6h0M108.7 642.6h0M123.7 638.3h0M107.1 644.0h0M113.6 641.9h0M105.0 642.7h0M109.4 641.0h0M123.2 644.9h0M126.0 638.4h0M128.1 641.2h0M107.1 639.3h0M129.6 643.9h0M126.7 643.1h0M123.3 643.1h0M116.4 645.3h0M123.5 637.4h0M123.3 636.7h0M124.9 641.6h0M128.8 639.3h0M109.4 642.4h0M111.1 628.7h0M107.4 624.4h0M123.1 639.5h0M112.0 641.9h0M131.0 642.9h0M125.1 644.1h0M112.4 643.5h0M112.7 643.0h0M109.3 638.3h0M119.3 641.0h0M104.6 639.3h0M123.3 644.7h0M107.6 640.0h0M112.4 643.3h0M120.8 644.4h0M127.3 644.9h0M107.5 643.2h0M106.7 626.0h0M127.4 639.8h0M125.9 641.4h0M126.4 636.8h0M129.1 644.7h0M105.9 645.2h0M124.1 625.8h0M122.5 622.9h0M127.3 644.5h0M124.2 645.0h0M106.7 643.0h0M122.2 641.7h0M130.7 620.9h0M126.1 638.7h0M120.2 638.5h0M102.5 639.9h0M127.1 645.1h0M112.4 640.3h0M128.7 631.4h0M128.9 633.8h0M101.9 637.3h0M123.2 641.2h0M127.0 639.4h0M124.0 642.6h0M111.1 641.0h0M122.7 638.9h0M114.6 644.6h0M107.7 641.6h0M122.1 639.5h0M111.1 644.6h0M126.9 637.8h0M125.0 636.3h0M112.8 635.1h0M106.5 635.3h0M117.9 640.7h0M107.9 645.1h0M112.5 644.5h0M116.1 644.4h0M118.2 641.5h0M119.7 643.4h0M129.6 636.7h0M122.3 628.0h0M123.3 633.8h0M107.9 637.2h0M106.0 642.5h0M118.0 633.6h0M104.1 643.5h0M121.9 639.7h0M102.2 619.9h0M109.9 638.0h0M124.3 644.7h0M110.4 644.0h0M110.4 633.5h0M104.7 640.0h0M108.5 641.6h0M128.0 644.9h0M123.0 644.2h0M107.9 638.0h0M108.5 634.1h0M106.9 644.9h0M109.5 644.8h0M109.1 643.4h0M108.2 644.2h0M125.7 644.7h0M126.4 638.5h0M113.3 642.1h0M123.4 634.5h0M128.8 632.0h0M121.1 639.5h0M127.8 638.6h0M113.1 644.2h0M112.2 622.0h0" stroke="#939393" stroke-width="1.24" stroke-linecap="round" fill="none" opacity="0.9"/>
<path d="M109.0 523.0h0M109.5 526.0h0M113.0 558.5h0M109.0 595.0h0M83.0 590.8h0M86.0 598.5h0M97.0 584.6h0M193.0 638.5h0M115.0 569.0h0M104.0 596.0h0M106.0 580.0h0M124.0 604.0h0M130.0 606.0h0M157.0 626.0h0M170.0 628.0h0M175.0 634.0h0M160.0 640.0h0M79.0 604.0h0M92.0 600.0h0M186.0 640.0h0M162.0 632.0h0" stroke="#a8a8a8" stroke-width="1.10" stroke-linecap="round" fill="none" opacity="0.9"/>
<path d="M92.8 640.0h0M90.8 645.2h0M99.7 644.5h0M95.7 644.8h0M100.2 626.3h0M90.5 639.6h0M96.8 625.4h0M97.1 644.3h0M98.4 643.7h0M99.5 638.5h0M89.2 644.4h0M100.6 635.2h0M96.7 625.7h0M93.7 637.9h0M92.8 631.8h0M99.1 634.6h0M93.8 641.2h0M98.3 645.1h0M97.8 638.5h0M99.1 635.5h0M100.9 642.5h0M100.0 641.1h0M100.7 643.4h0M99.5 640.4h0M100.9 640.4h0M99.4 641.0h0M98.3 628.1h0M97.5 635.4h0M91.2 644.3h0M93.8 644.5h0M100.4 623.2h0M98.7 616.4h0M100.9 644.1h0M97.7 637.1h0M98.7 637.6h0M95.7 634.9h0M93.7 639.9h0M99.4 644.0h0M89.8 643.2h0M100.1 644.7h0M96.3 639.3h0M87.7 640.9h0M96.9 644.5h0M100.3 642.3h0M99.8 640.5h0M91.0 642.7h0M98.6 640.7h0M97.0 639.5h0M92.7 640.4h0M91.8 639.7h0M97.0 623.7h0M99.3 644.8h0M99.8 642.9h0M100.7 645.0h0M97.9 639.6h0M95.2 633.4h0M100.7 642.3h0M97.1 643.2h0M98.4 641.8h0M95.8 640.5h0M101.0 638.5h0M98.8 638.9h0M92.7 641.4h0M99.5 642.2h0M100.6 632.0h0M89.3 641.7h0M100.6 628.7h0M95.5 641.2h0M100.9 643.2h0M98.1 611.8h0" stroke="#2a3f9e" stroke-width="1.24" stroke-linecap="round" fill="none" opacity="0.9"/>
<path d="M149.7 641.1h0M134.2 643.4h0M137.8 642.7h0M164.6 645.1h0M138.5 641.0h0M145.6 644.4h0M149.4 645.0h0M141.2 629.6h0M138.5 638.3h0M136.4 644.9h0M135.9 641.2h0M138.9 635.9h0M140.0 643.5h0M136.2 644.1h0M143.2 644.7h0M137.4 640.7h0M155.5 639.0h0M152.7 640.5h0M148.3 641.9h0M141.1 644.5h0M137.3 632.9h0M136.3 640.5h0M137.3 641.8h0M146.1 634.7h0M144.6 627.6h0M134.3 640.6h0M143.1 644.5h0M139.7 629.3h0M149.2 643.0h0M144.3 641.6h0M139.3 636.2h0M134.4 642.3h0M135.3 644.3h0M138.6 642.8h0M134.2 636.7h0M141.5 639.0h0M134.5 643.0h0M136.0 644.4h0M138.7 644.7h0M134.5 644.6h0M134.8 638.1h0M137.2 645.1h0M159.3 642.4h0M144.2 645.0h0M135.8 644.9h0M157.0 641.2h0M141.5 637.8h0M150.2 644.0h0M161.2 643.7h0M142.3 645.1h0M141.1 641.3h0M139.0 643.2h0M150.2 637.5h0M136.6 636.4h0M165.4 644.4h0M142.7 644.9h0M137.5 644.9h0M136.8 636.0h0M133.9 643.4h0M148.5 640.5h0" stroke="#c02030" stroke-width="1.24" stroke-linecap="round" fill="none" opacity="0.9"/>
<text x="161.50" y="547.40" font-size="7.78" fill="#2a2a2a" stroke="#2a2a2a" textLength="16.20" lengthAdjust="spacingAndGlyphs">Cd14</text>
<text x="152.70" y="605.20" font-size="7.78" fill="#2a2a2a" stroke="#2a2a2a" textLength="23.00" lengthAdjust="spacingAndGlyphs">Wfdc17</text>
<text x="155.50" y="628.20" font-size="7.78" fill="#2a2a2a" stroke="#2a2a2a" textLength="19.00" lengthAdjust="spacingAndGlyphs">Olfm4</text>
<text x="59.80" y="614.10" font-size="7.78" fill="#2a2a2a" stroke="#2a2a2a" textLength="10.90" lengthAdjust="spacingAndGlyphs">Ifit3</text>
<text x="63.80" y="626.20" font-size="7.78" fill="#2a2a2a" stroke="#2a2a2a" textLength="9.40" lengthAdjust="spacingAndGlyphs">Ifit1</text>
<text x="66.60" y="641.60" font-size="7.78" fill="#2a2a2a" stroke="#2a2a2a" textLength="16.20" lengthAdjust="spacingAndGlyphs">Ifit3b</text>
<path d="M157 544.6h1.8M148.2 602.4h1.8M73.2 611.3h1M74.2 623.4h1.8M84 638.8h1.4" stroke="#555" stroke-width="0.6"/>
<text x="215.74" y="481.90" font-size="10.5" font-weight="bold" fill="#000" stroke="#000" stroke-width="0.35" textLength="3.21" lengthAdjust="spacingAndGlyphs">I</text>
<text x="283.70" y="496.42" font-size="9.5" fill="#1a1a1a" stroke="#1a1a1a" textLength="120.90" lengthAdjust="spacingAndGlyphs">AML Exposed vs Healthy NEU2</text>
<rect x="344.30" y="505.50" width="63.69" height="7.10" fill="#c80a32"/>
<text x="223.00" y="511.47" font-size="7.13" fill="#2a2a2a" stroke="#2a2a2a" textLength="118.30" lengthAdjust="spacingAndGlyphs">Formation of a pool of free 40S subunits</text>
<rect x="344.30" y="517.40" width="36.88" height="7.10" fill="#c80a32"/>
<text x="267.00" y="523.37" font-size="7.13" fill="#2a2a2a" stroke="#2a2a2a" textLength="74.30" lengthAdjust="spacingAndGlyphs">Neutrophil degranulation</text>
<rect x="344.30" y="529.30" width="31.43" height="7.10" fill="#c80a32"/>
<text x="274.50" y="535.27" font-size="7.13" fill="#2a2a2a" stroke="#2a2a2a" textLength="66.80" lengthAdjust="spacingAndGlyphs">inflammatory response</text>
<rect x="344.30" y="541.20" width="31.01" height="7.10" fill="#c80a32"/>
<text x="270.00" y="547.17" font-size="7.13" fill="#2a2a2a" stroke="#2a2a2a" textLength="71.30" lengthAdjust="spacingAndGlyphs">Cholesterol biosynthesis</text>
<rect x="344.30" y="553.10" width="29.71" height="7.10" fill="#c80a32"/>
<text x="263.00" y="559.07" font-size="7.13" fill="#2a2a2a" stroke="#2a2a2a" textLength="78.30" lengthAdjust="spacingAndGlyphs">myeloid cell differentiation</text>
<rect x="311.63" y="565.00" width="32.67" height="7.10" fill="#0b5185"/>
<text x="348.00" y="570.97" font-size="7.13" fill="#2a2a2a" stroke="#2a2a2a" textLength="95.20" lengthAdjust="spacingAndGlyphs">Type II interferon signaling IFNG</text>
<rect x="310.68" y="576.90" width="33.62" height="7.10" fill="#0b5185"/>
<text x="348.00" y="582.87" font-size="7.13" fill="#2a2a2a" stroke="#2a2a2a" textLength="74.10" lengthAdjust="spacingAndGlyphs">Adaptive Immune System</text>
<rect x="302.61" y="588.80" width="41.69" height="7.10" fill="#0b5185"/>
<text x="348.00" y="594.77" font-size="7.13" fill="#2a2a2a" stroke="#2a2a2a" textLength="88.90" lengthAdjust="spacingAndGlyphs">Kit receptor signaling pathway</text>
<rect x="298.58" y="600.70" width="45.72" height="7.10" fill="#0b5185"/>
<text x="348.00" y="606.67" font-size="7.13" fill="#2a2a2a" stroke="#2a2a2a" textLength="79.80" lengthAdjust="spacingAndGlyphs">response to interferon-beta</text>
<rect x="287.08" y="612.60" width="57.22" height="7.10" fill="#0b5185"/>
<text x="348.00" y="618.57" font-size="7.13" fill="#2a2a2a" stroke="#2a2a2a" textLength="74.90" lengthAdjust="spacingAndGlyphs">defense response to virus</text>
<line x1="344.30" y1="500.50" x2="344.30" y2="624.60" stroke="#111" stroke-width="1.0"/>
<line x1="253.00" y1="624.20" x2="435.40" y2="624.20" stroke="#111" stroke-width="1.3"/>
<line x1="255.35" y1="624.20" x2="255.35" y2="626.80" stroke="#111" stroke-width="0.9"/>
<text x="254.35" y="636.43" font-size="7.3" fill="#3a3a3a" stroke="#3a3a3a" text-anchor="middle">−15</text>
<line x1="285.00" y1="624.20" x2="285.00" y2="626.80" stroke="#111" stroke-width="0.9"/>
<text x="284.00" y="636.43" font-size="7.3" fill="#3a3a3a" stroke="#3a3a3a" text-anchor="middle">−10</text>
<line x1="314.65" y1="624.20" x2="314.65" y2="626.80" stroke="#111" stroke-width="0.9"/>
<text x="313.65" y="636.43" font-size="7.3" fill="#3a3a3a" stroke="#3a3a3a" text-anchor="middle">−5</text>
<line x1="344.30" y1="624.20" x2="344.30" y2="626.80" stroke="#111" stroke-width="0.9"/>
<text x="344.30" y="636.43" font-size="7.3" fill="#3a3a3a" stroke="#3a3a3a" text-anchor="middle">0</text>
<line x1="373.95" y1="624.20" x2="373.95" y2="626.80" stroke="#111" stroke-width="0.9"/>
<text x="373.95" y="636.43" font-size="7.3" fill="#3a3a3a" stroke="#3a3a3a" text-anchor="middle">5</text>
<line x1="403.60" y1="624.20" x2="403.60" y2="626.80" stroke="#111" stroke-width="0.9"/>
<text x="403.60" y="636.43" font-size="7.3" fill="#3a3a3a" stroke="#3a3a3a" text-anchor="middle">10</text>
<line x1="433.25" y1="624.20" x2="433.25" y2="626.80" stroke="#111" stroke-width="0.9"/>
<text x="433.25" y="636.43" font-size="7.3" fill="#3a3a3a" stroke="#3a3a3a" text-anchor="middle">15</text>
<text x="332.7" y="647.9" font-size="8.4" fill="#2a2a2a" textLength="23.1" lengthAdjust="spacingAndGlyphs">log2(<tspan font-style="italic">P</tspan>)</text>
<rect x="0" y="0" width="520" height="1" fill="#4a4a4a"/>
<rect x="0" y="691" width="520" height="1" fill="#4a4a4a"/>
<rect x="0" y="0" width="1" height="692" fill="#666"/>
<rect x="519" y="0" width="1" height="692" fill="#5a5a5a"/>
</svg>
</body></html>
